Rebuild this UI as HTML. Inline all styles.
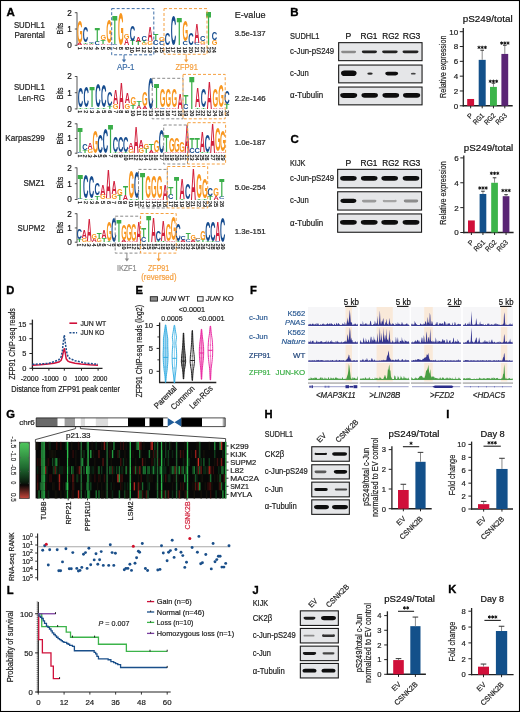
<!DOCTYPE html>
<html><head><meta charset="utf-8"><title>Figure</title>
<style>
html,body{margin:0;padding:0;background:#fff;}
body{width:520px;height:712px;overflow:hidden;}
svg{display:block;font-family:"Liberation Sans", sans-serif;will-change:transform;}
</style></head><body>
<svg width="520" height="712" viewBox="0 0 520 712">
<rect x="0" y="0" width="520" height="712" fill="#fff"/>
<defs><filter id="bl" x="-20%" y="-80%" width="140%" height="260%"><feGaussianBlur stdDeviation="0.45"/></filter></defs>
<text x="6.50" y="15.90" font-size="11.5" fill="#000" stroke="#000" stroke-width="0.35" font-weight="bold" >A</text>
<text x="44.80" y="28.10" font-size="8.2" fill="#222" stroke="#222" stroke-width="0.2" text-anchor="end" textLength="30.90" lengthAdjust="spacingAndGlyphs" >SUDHL1</text>
<text x="44.80" y="37.70" font-size="8.2" fill="#222" stroke="#222" stroke-width="0.2" text-anchor="end" textLength="30.40" lengthAdjust="spacingAndGlyphs" >Parental</text>
<text x="44.80" y="90.00" font-size="8.2" fill="#222" stroke="#222" stroke-width="0.2" text-anchor="end" textLength="30.90" lengthAdjust="spacingAndGlyphs" >SUDHL1</text>
<text x="44.80" y="100.60" font-size="8.2" fill="#222" stroke="#222" stroke-width="0.2" text-anchor="end" textLength="26.50" lengthAdjust="spacingAndGlyphs" >Len-RG</text>
<text x="44.80" y="141.40" font-size="8.2" fill="#222" stroke="#222" stroke-width="0.2" text-anchor="end" textLength="39.50" lengthAdjust="spacingAndGlyphs" >Karpas299</text>
<text x="44.80" y="185.90" font-size="8.2" fill="#222" stroke="#222" stroke-width="0.2" text-anchor="end" textLength="21.30" lengthAdjust="spacingAndGlyphs" >SMZ1</text>
<text x="44.80" y="230.70" font-size="8.2" fill="#222" stroke="#222" stroke-width="0.2" text-anchor="end" textLength="27.30" lengthAdjust="spacingAndGlyphs" >SUPM2</text>
<text x="234.70" y="17.60" font-size="8.6" fill="#222" stroke="#222" stroke-width="0.2" textLength="30.90" lengthAdjust="spacingAndGlyphs" >E-value</text>
<text x="234.70" y="35.90" font-size="7.2" fill="#222" stroke="#222" stroke-width="0.2" textLength="30.90" lengthAdjust="spacingAndGlyphs" >3.5e-137</text>
<text x="234.70" y="100.80" font-size="7.2" fill="#222" stroke="#222" stroke-width="0.2" textLength="30.90" lengthAdjust="spacingAndGlyphs" >2.2e-146</text>
<text x="234.70" y="144.70" font-size="7.2" fill="#222" stroke="#222" stroke-width="0.2" textLength="30.90" lengthAdjust="spacingAndGlyphs" >1.0e-187</text>
<text x="234.70" y="190.30" font-size="7.2" fill="#222" stroke="#222" stroke-width="0.2" textLength="30.90" lengthAdjust="spacingAndGlyphs" >5.0e-254</text>
<text x="234.70" y="234.20" font-size="7.2" fill="#222" stroke="#222" stroke-width="0.2" textLength="30.90" lengthAdjust="spacingAndGlyphs" >1.3e-151</text>
<line x1="77.00" y1="12.40" x2="77.00" y2="45.80" stroke="#444" stroke-width="0.9" />
<line x1="74.80" y1="45.30" x2="77.00" y2="45.30" stroke="#444" stroke-width="0.9" />
<text x="69.60" y="48.20" font-size="8.2" fill="#111" stroke="#111" stroke-width="0.2" text-anchor="middle" >0</text>
<line x1="74.80" y1="29.00" x2="77.00" y2="29.00" stroke="#444" stroke-width="0.9" />
<text x="69.60" y="31.90" font-size="8.2" fill="#111" stroke="#111" stroke-width="0.2" text-anchor="middle" >1</text>
<line x1="74.80" y1="12.70" x2="77.00" y2="12.70" stroke="#444" stroke-width="0.9" />
<text x="69.60" y="15.60" font-size="8.2" fill="#111" stroke="#111" stroke-width="0.2" text-anchor="middle" >2</text>
<text x="62.60" y="28.50" font-size="8.6" fill="#222" stroke="#222" stroke-width="0.2" text-anchor="middle" textLength="11.80" lengthAdjust="spacingAndGlyphs" transform="rotate(-90 62.60 28.50)" >Bits</text>
<text transform="matrix(0.0731 0 0 0.0355 77.07 45.30)" font-size="100" font-weight="bold" fill="#d21f3c">A</text>
<text transform="matrix(0.0727 0 0 0.3112 76.95 42.57)" font-size="100" font-weight="bold" fill="#f8961e">G</text>
<text x="77.70" y="46.70" font-size="5.4" fill="#111" stroke="#111" stroke-width="0.2" transform="rotate(90 77.70 46.70)" >1</text>
<text transform="matrix(0.0731 0 0 0.0190 82.93 45.30)" font-size="100" font-weight="bold" fill="#d21f3c">A</text>
<text transform="matrix(0.0833 0 0 0.0237 83.02 44.00)" font-size="100" font-weight="bold" fill="#3aae49">T</text>
<text transform="matrix(0.0750 0 0 0.2190 82.80 42.17)" font-size="100" font-weight="bold" fill="#154b8e">C</text>
<text x="83.56" y="46.70" font-size="5.4" fill="#111" stroke="#111" stroke-width="0.2" transform="rotate(90 83.56 46.70)" >2</text>
<text transform="matrix(0.0731 0 0 0.0190 88.79 45.30)" font-size="100" font-weight="bold" fill="#d21f3c">A</text>
<text transform="matrix(0.0833 0 0 0.0190 88.88 44.00)" font-size="100" font-weight="bold" fill="#3aae49">T</text>
<text transform="matrix(0.0750 0 0 0.0231 88.66 42.67)" font-size="100" font-weight="bold" fill="#154b8e">C</text>
<text x="89.42" y="46.70" font-size="5.4" fill="#111" stroke="#111" stroke-width="0.2" transform="rotate(90 89.42 46.70)" >3</text>
<text transform="matrix(0.0750 0 0 0.0461 94.52 45.26)" font-size="100" font-weight="bold" fill="#154b8e">C</text>
<text transform="matrix(0.0833 0 0 0.2014 94.74 42.04)" font-size="100" font-weight="bold" fill="#3aae49">T</text>
<text x="95.28" y="46.70" font-size="5.4" fill="#111" stroke="#111" stroke-width="0.2" transform="rotate(90 95.28 46.70)" >4</text>
<text transform="matrix(0.0731 0 0 0.0237 100.51 45.30)" font-size="100" font-weight="bold" fill="#d21f3c">A</text>
<text transform="matrix(0.0833 0 0 0.0592 100.60 43.67)" font-size="100" font-weight="bold" fill="#3aae49">T</text>
<text transform="matrix(0.0727 0 0 0.0692 100.39 39.53)" font-size="100" font-weight="bold" fill="#f8961e">G</text>
<text x="101.14" y="46.70" font-size="5.4" fill="#111" stroke="#111" stroke-width="0.2" transform="rotate(90 101.14 46.70)" >5</text>
<text transform="matrix(0.0731 0 0 0.0237 106.37 45.30)" font-size="100" font-weight="bold" fill="#d21f3c">A</text>
<text transform="matrix(0.0727 0 0 0.3343 106.25 43.37)" font-size="100" font-weight="bold" fill="#f8961e">G</text>
<text x="107.00" y="46.70" font-size="5.4" fill="#111" stroke="#111" stroke-width="0.2" transform="rotate(90 107.00 46.70)" >6</text>
<text transform="matrix(0.0750 0 0 0.0115 112.10 45.29)" font-size="100" font-weight="bold" fill="#154b8e">C</text>
<text transform="matrix(0.0833 0 0 0.4075 112.32 44.48)" font-size="100" font-weight="bold" fill="#3aae49">T</text>
<text x="112.86" y="46.70" font-size="5.4" fill="#111" stroke="#111" stroke-width="0.2" transform="rotate(90 112.86 46.70)" >7</text>
<text transform="matrix(0.0727 0 0 0.4565 117.97 44.89)" font-size="100" font-weight="bold" fill="#f8961e">G</text>
<text x="118.72" y="46.70" font-size="5.4" fill="#111" stroke="#111" stroke-width="0.2" transform="rotate(90 118.72 46.70)" >8</text>
<text transform="matrix(0.0731 0 0 0.0900 123.95 45.30)" font-size="100" font-weight="bold" fill="#d21f3c">A</text>
<text transform="matrix(0.0727 0 0 0.0692 123.83 39.04)" font-size="100" font-weight="bold" fill="#f8961e">G</text>
<text x="124.58" y="46.70" font-size="5.4" fill="#111" stroke="#111" stroke-width="0.2" transform="rotate(90 124.58 46.70)" >9</text>
<text transform="matrix(0.0833 0 0 0.0640 129.90 45.30)" font-size="100" font-weight="bold" fill="#3aae49">T</text>
<text transform="matrix(0.0750 0 0 0.2167 129.68 40.70)" font-size="100" font-weight="bold" fill="#154b8e">C</text>
<text x="130.44" y="46.70" font-size="5.4" fill="#111" stroke="#111" stroke-width="0.2" transform="rotate(90 130.44 46.70)" >10</text>
<text transform="matrix(0.0833 0 0 0.0474 135.76 45.30)" font-size="100" font-weight="bold" fill="#3aae49">T</text>
<text transform="matrix(0.0731 0 0 0.0758 135.67 42.04)" font-size="100" font-weight="bold" fill="#d21f3c">A</text>
<text x="136.30" y="46.70" font-size="5.4" fill="#111" stroke="#111" stroke-width="0.2" transform="rotate(90 136.30 46.70)" >11</text>
<text transform="matrix(0.0727 0 0 0.0346 141.41 45.27)" font-size="100" font-weight="bold" fill="#f8961e">G</text>
<text transform="matrix(0.0833 0 0 0.0284 141.62 42.85)" font-size="100" font-weight="bold" fill="#3aae49">T</text>
<text transform="matrix(0.0750 0 0 0.0692 141.40 40.84)" font-size="100" font-weight="bold" fill="#154b8e">C</text>
<text x="142.16" y="46.70" font-size="5.4" fill="#111" stroke="#111" stroke-width="0.2" transform="rotate(90 142.16 46.70)" >12</text>
<text transform="matrix(0.0727 0 0 0.0622 147.27 45.24)" font-size="100" font-weight="bold" fill="#f8961e">G</text>
<text transform="matrix(0.0731 0 0 0.2085 147.39 40.90)" font-size="100" font-weight="bold" fill="#d21f3c">A</text>
<text x="148.02" y="46.70" font-size="5.4" fill="#111" stroke="#111" stroke-width="0.2" transform="rotate(90 148.02 46.70)" >13</text>
<text transform="matrix(0.0750 0 0 0.0807 153.12 45.23)" font-size="100" font-weight="bold" fill="#154b8e">C</text>
<text transform="matrix(0.0833 0 0 0.0948 153.34 39.59)" font-size="100" font-weight="bold" fill="#3aae49">T</text>
<text x="153.88" y="46.70" font-size="5.4" fill="#111" stroke="#111" stroke-width="0.2" transform="rotate(90 153.88 46.70)" >14</text>
<text transform="matrix(0.0750 0 0 0.0576 158.98 45.25)" font-size="100" font-weight="bold" fill="#154b8e">C</text>
<text transform="matrix(0.0727 0 0 0.0461 158.99 41.18)" font-size="100" font-weight="bold" fill="#f8961e">G</text>
<text x="159.74" y="46.70" font-size="5.4" fill="#111" stroke="#111" stroke-width="0.2" transform="rotate(90 159.74 46.70)" >15</text>
<text transform="matrix(0.0750 0 0 0.1729 164.84 45.14)" font-size="100" font-weight="bold" fill="#154b8e">C</text>
<text x="165.60" y="46.70" font-size="5.4" fill="#111" stroke="#111" stroke-width="0.2" transform="rotate(90 165.60 46.70)" >16</text>
<text transform="matrix(0.0750 0 0 0.4196 170.70 44.92)" font-size="100" font-weight="bold" fill="#154b8e">C</text>
<text x="171.46" y="46.70" font-size="5.4" fill="#111" stroke="#111" stroke-width="0.2" transform="rotate(90 171.46 46.70)" >17</text>
<text transform="matrix(0.0833 0 0 0.3957 176.78 45.30)" font-size="100" font-weight="bold" fill="#3aae49">T</text>
<text x="177.32" y="46.70" font-size="5.4" fill="#111" stroke="#111" stroke-width="0.2" transform="rotate(90 177.32 46.70)" >18</text>
<text transform="matrix(0.0750 0 0 0.0507 182.42 45.25)" font-size="100" font-weight="bold" fill="#154b8e">C</text>
<text transform="matrix(0.0727 0 0 0.2951 182.43 41.45)" font-size="100" font-weight="bold" fill="#f8961e">G</text>
<text x="183.18" y="46.70" font-size="5.4" fill="#111" stroke="#111" stroke-width="0.2" transform="rotate(90 183.18 46.70)" >19</text>
<text transform="matrix(0.0750 0 0 0.1614 188.28 45.15)" font-size="100" font-weight="bold" fill="#154b8e">C</text>
<text x="189.04" y="46.70" font-size="5.4" fill="#111" stroke="#111" stroke-width="0.2" transform="rotate(90 189.04 46.70)" >20</text>
<text transform="matrix(0.0750 0 0 0.0346 194.14 45.27)" font-size="100" font-weight="bold" fill="#154b8e">C</text>
<text transform="matrix(0.0731 0 0 0.2772 194.27 42.85)" font-size="100" font-weight="bold" fill="#d21f3c">A</text>
<text x="194.90" y="46.70" font-size="5.4" fill="#111" stroke="#111" stroke-width="0.2" transform="rotate(90 194.90 46.70)" >21</text>
<text transform="matrix(0.0731 0 0 0.0237 200.13 45.30)" font-size="100" font-weight="bold" fill="#d21f3c">A</text>
<text transform="matrix(0.0727 0 0 0.0300 200.01 43.64)" font-size="100" font-weight="bold" fill="#f8961e">G</text>
<text transform="matrix(0.0750 0 0 0.0692 200.00 41.49)" font-size="100" font-weight="bold" fill="#154b8e">C</text>
<text x="200.76" y="46.70" font-size="5.4" fill="#111" stroke="#111" stroke-width="0.2" transform="rotate(90 200.76 46.70)" >22</text>
<text transform="matrix(0.0833 0 0 0.4738 206.08 45.30)" font-size="100" font-weight="bold" fill="#3aae49">T</text>
<text x="206.62" y="46.70" font-size="5.4" fill="#111" stroke="#111" stroke-width="0.2" transform="rotate(90 206.62 46.70)" >23</text>
<text transform="matrix(0.0727 0 0 0.0692 211.73 45.24)" font-size="100" font-weight="bold" fill="#f8961e">G</text>
<text transform="matrix(0.0750 0 0 0.1061 211.72 40.31)" font-size="100" font-weight="bold" fill="#154b8e">C</text>
<text x="212.48" y="46.70" font-size="5.4" fill="#111" stroke="#111" stroke-width="0.2" transform="rotate(90 212.48 46.70)" >24</text>
<line x1="77.00" y1="76.20" x2="77.00" y2="109.40" stroke="#444" stroke-width="0.9" />
<line x1="74.80" y1="108.90" x2="77.00" y2="108.90" stroke="#444" stroke-width="0.9" />
<text x="69.60" y="111.80" font-size="8.2" fill="#111" stroke="#111" stroke-width="0.2" text-anchor="middle" >0</text>
<line x1="74.80" y1="92.70" x2="77.00" y2="92.70" stroke="#444" stroke-width="0.9" />
<text x="69.60" y="95.60" font-size="8.2" fill="#111" stroke="#111" stroke-width="0.2" text-anchor="middle" >1</text>
<line x1="74.80" y1="76.50" x2="77.00" y2="76.50" stroke="#444" stroke-width="0.9" />
<text x="69.60" y="79.40" font-size="8.2" fill="#111" stroke="#111" stroke-width="0.2" text-anchor="middle" >2</text>
<text x="62.60" y="93.30" font-size="8.6" fill="#222" stroke="#222" stroke-width="0.2" text-anchor="middle" textLength="11.80" lengthAdjust="spacingAndGlyphs" transform="rotate(-90 62.60 93.30)" >Bits</text>
<text transform="matrix(0.0833 0 0 0.0235 77.86 108.90)" font-size="100" font-weight="bold" fill="#3aae49">T</text>
<text transform="matrix(0.0750 0 0 0.2704 77.64 107.04)" font-size="100" font-weight="bold" fill="#154b8e">C</text>
<text x="78.40" y="110.30" font-size="5.4" fill="#111" stroke="#111" stroke-width="0.2" transform="rotate(90 78.40 110.30)" >1</text>
<text transform="matrix(0.0833 0 0 0.0235 83.72 108.90)" font-size="100" font-weight="bold" fill="#3aae49">T</text>
<text transform="matrix(0.0750 0 0 0.2956 83.50 107.01)" font-size="100" font-weight="bold" fill="#154b8e">C</text>
<text x="84.26" y="110.30" font-size="5.4" fill="#111" stroke="#111" stroke-width="0.2" transform="rotate(90 84.26 110.30)" >2</text>
<text transform="matrix(0.0750 0 0 0.0229 89.36 108.88)" font-size="100" font-weight="bold" fill="#154b8e">C</text>
<text transform="matrix(0.0833 0 0 0.2896 89.58 107.28)" font-size="100" font-weight="bold" fill="#3aae49">T</text>
<text x="90.12" y="110.30" font-size="5.4" fill="#111" stroke="#111" stroke-width="0.2" transform="rotate(90 90.12 110.30)" >3</text>
<text transform="matrix(0.0833 0 0 0.0235 95.44 108.90)" font-size="100" font-weight="bold" fill="#3aae49">T</text>
<text transform="matrix(0.0750 0 0 0.3368 95.22 106.98)" font-size="100" font-weight="bold" fill="#154b8e">C</text>
<text x="95.98" y="110.30" font-size="5.4" fill="#111" stroke="#111" stroke-width="0.2" transform="rotate(90 95.98 110.30)" >4</text>
<text transform="matrix(0.0833 0 0 0.0235 101.30 108.90)" font-size="100" font-weight="bold" fill="#3aae49">T</text>
<text transform="matrix(0.0750 0 0 0.3070 101.08 107.00)" font-size="100" font-weight="bold" fill="#154b8e">C</text>
<text x="101.84" y="110.30" font-size="5.4" fill="#111" stroke="#111" stroke-width="0.2" transform="rotate(90 101.84 110.30)" >5</text>
<text transform="matrix(0.0833 0 0 0.0353 107.16 108.90)" font-size="100" font-weight="bold" fill="#3aae49">T</text>
<text transform="matrix(0.0750 0 0 0.1971 106.94 106.29)" font-size="100" font-weight="bold" fill="#154b8e">C</text>
<text x="107.70" y="110.30" font-size="5.4" fill="#111" stroke="#111" stroke-width="0.2" transform="rotate(90 107.70 110.30)" >6</text>
<text transform="matrix(0.0727 0 0 0.0687 112.81 108.84)" font-size="100" font-weight="bold" fill="#f8961e">G</text>
<text transform="matrix(0.0731 0 0 0.1978 112.93 104.04)" font-size="100" font-weight="bold" fill="#d21f3c">A</text>
<text x="113.56" y="110.30" font-size="5.4" fill="#111" stroke="#111" stroke-width="0.2" transform="rotate(90 113.56 110.30)" >7</text>
<text transform="matrix(0.0731 0 0 0.3767 118.79 108.90)" font-size="100" font-weight="bold" fill="#d21f3c">A</text>
<text x="119.42" y="110.30" font-size="5.4" fill="#111" stroke="#111" stroke-width="0.2" transform="rotate(90 119.42 110.30)" >8</text>
<text transform="matrix(0.0727 0 0 0.0802 124.53 108.83)" font-size="100" font-weight="bold" fill="#f8961e">G</text>
<text transform="matrix(0.0731 0 0 0.1531 124.65 103.23)" font-size="100" font-weight="bold" fill="#d21f3c">A</text>
<text x="125.28" y="110.30" font-size="5.4" fill="#111" stroke="#111" stroke-width="0.2" transform="rotate(90 125.28 110.30)" >9</text>
<text transform="matrix(0.0833 0 0 0.0589 130.60 108.90)" font-size="100" font-weight="bold" fill="#3aae49">T</text>
<text transform="matrix(0.0727 0 0 0.1008 130.39 104.76)" font-size="100" font-weight="bold" fill="#f8961e">G</text>
<text x="131.14" y="110.30" font-size="5.4" fill="#111" stroke="#111" stroke-width="0.2" transform="rotate(90 131.14 110.30)" >10</text>
<text transform="matrix(0.0731 0 0 0.0471 136.37 108.90)" font-size="100" font-weight="bold" fill="#d21f3c">A</text>
<text transform="matrix(0.0833 0 0 0.0636 136.46 105.66)" font-size="100" font-weight="bold" fill="#3aae49">T</text>
<text x="137.00" y="110.30" font-size="5.4" fill="#111" stroke="#111" stroke-width="0.2" transform="rotate(90 137.00 110.30)" >11</text>
<text transform="matrix(0.0731 0 0 0.0353 142.23 108.90)" font-size="100" font-weight="bold" fill="#d21f3c">A</text>
<text transform="matrix(0.0727 0 0 0.1948 142.11 106.29)" font-size="100" font-weight="bold" fill="#f8961e">G</text>
<text x="142.86" y="110.30" font-size="5.4" fill="#111" stroke="#111" stroke-width="0.2" transform="rotate(90 142.86 110.30)" >12</text>
<text transform="matrix(0.0750 0 0 0.4468 147.96 108.50)" font-size="100" font-weight="bold" fill="#154b8e">C</text>
<text x="148.72" y="110.30" font-size="5.4" fill="#111" stroke="#111" stroke-width="0.2" transform="rotate(90 148.72 110.30)" >13</text>
<text transform="matrix(0.0731 0 0 0.0188 153.95 108.90)" font-size="100" font-weight="bold" fill="#d21f3c">A</text>
<text transform="matrix(0.0833 0 0 0.3438 154.04 107.60)" font-size="100" font-weight="bold" fill="#3aae49">T</text>
<text x="154.58" y="110.30" font-size="5.4" fill="#111" stroke="#111" stroke-width="0.2" transform="rotate(90 154.58 110.30)" >14</text>
<text transform="matrix(0.0750 0 0 0.0229 159.68 108.88)" font-size="100" font-weight="bold" fill="#154b8e">C</text>
<text transform="matrix(0.0727 0 0 0.2612 159.69 107.04)" font-size="100" font-weight="bold" fill="#f8961e">G</text>
<text x="160.44" y="110.30" font-size="5.4" fill="#111" stroke="#111" stroke-width="0.2" transform="rotate(90 160.44 110.30)" >15</text>
<text transform="matrix(0.0731 0 0 0.0235 165.67 108.90)" font-size="100" font-weight="bold" fill="#d21f3c">A</text>
<text transform="matrix(0.0727 0 0 0.2612 165.55 107.04)" font-size="100" font-weight="bold" fill="#f8961e">G</text>
<text x="166.30" y="110.30" font-size="5.4" fill="#111" stroke="#111" stroke-width="0.2" transform="rotate(90 166.30 110.30)" >16</text>
<text transform="matrix(0.0731 0 0 0.0235 171.53 108.90)" font-size="100" font-weight="bold" fill="#d21f3c">A</text>
<text transform="matrix(0.0727 0 0 0.2612 171.41 107.04)" font-size="100" font-weight="bold" fill="#f8961e">G</text>
<text x="172.16" y="110.30" font-size="5.4" fill="#111" stroke="#111" stroke-width="0.2" transform="rotate(90 172.16 110.30)" >17</text>
<text transform="matrix(0.0731 0 0 0.2213 177.39 108.90)" font-size="100" font-weight="bold" fill="#d21f3c">A</text>
<text x="178.02" y="110.30" font-size="5.4" fill="#111" stroke="#111" stroke-width="0.2" transform="rotate(90 178.02 110.30)" >18</text>
<text transform="matrix(0.0750 0 0 0.0687 183.12 108.84)" font-size="100" font-weight="bold" fill="#154b8e">C</text>
<text transform="matrix(0.0833 0 0 0.1224 183.34 104.04)" font-size="100" font-weight="bold" fill="#3aae49">T</text>
<text x="183.88" y="110.30" font-size="5.4" fill="#111" stroke="#111" stroke-width="0.2" transform="rotate(90 183.88 110.30)" >19</text>
<text transform="matrix(0.0833 0 0 0.4592 189.20 108.90)" font-size="100" font-weight="bold" fill="#3aae49">T</text>
<text x="189.74" y="110.30" font-size="5.4" fill="#111" stroke="#111" stroke-width="0.2" transform="rotate(90 189.74 110.30)" >20</text>
<text transform="matrix(0.0833 0 0 0.0235 195.06 108.90)" font-size="100" font-weight="bold" fill="#3aae49">T</text>
<text transform="matrix(0.0731 0 0 0.2684 194.97 107.28)" font-size="100" font-weight="bold" fill="#d21f3c">A</text>
<text x="195.60" y="110.30" font-size="5.4" fill="#111" stroke="#111" stroke-width="0.2" transform="rotate(90 195.60 110.30)" >21</text>
<text transform="matrix(0.0833 0 0 0.0235 200.92 108.90)" font-size="100" font-weight="bold" fill="#3aae49">T</text>
<text transform="matrix(0.0750 0 0 0.2612 200.70 107.04)" font-size="100" font-weight="bold" fill="#154b8e">C</text>
<text x="201.46" y="110.30" font-size="5.4" fill="#111" stroke="#111" stroke-width="0.2" transform="rotate(90 201.46 110.30)" >22</text>
<text transform="matrix(0.0731 0 0 0.3909 206.69 108.90)" font-size="100" font-weight="bold" fill="#d21f3c">A</text>
<text x="207.32" y="110.30" font-size="5.4" fill="#111" stroke="#111" stroke-width="0.2" transform="rotate(90 207.32 110.30)" >23</text>
<text transform="matrix(0.0731 0 0 0.0235 212.55 108.90)" font-size="100" font-weight="bold" fill="#d21f3c">A</text>
<text transform="matrix(0.0727 0 0 0.2612 212.43 107.04)" font-size="100" font-weight="bold" fill="#f8961e">G</text>
<text x="213.18" y="110.30" font-size="5.4" fill="#111" stroke="#111" stroke-width="0.2" transform="rotate(90 213.18 110.30)" >24</text>
<text transform="matrix(0.0731 0 0 0.0235 218.41 108.90)" font-size="100" font-weight="bold" fill="#d21f3c">A</text>
<text transform="matrix(0.0727 0 0 0.3162 218.29 107.00)" font-size="100" font-weight="bold" fill="#f8961e">G</text>
<text x="219.04" y="110.30" font-size="5.4" fill="#111" stroke="#111" stroke-width="0.2" transform="rotate(90 219.04 110.30)" >25</text>
<text transform="matrix(0.0833 0 0 0.0706 224.36 108.90)" font-size="100" font-weight="bold" fill="#3aae49">T</text>
<text transform="matrix(0.0750 0 0 0.1879 224.14 103.87)" font-size="100" font-weight="bold" fill="#154b8e">C</text>
<text x="224.90" y="110.30" font-size="5.4" fill="#111" stroke="#111" stroke-width="0.2" transform="rotate(90 224.90 110.30)" >26</text>
<line x1="77.00" y1="123.50" x2="77.00" y2="153.70" stroke="#444" stroke-width="0.9" />
<line x1="74.80" y1="153.20" x2="77.00" y2="153.20" stroke="#444" stroke-width="0.9" />
<text x="69.60" y="156.10" font-size="8.2" fill="#111" stroke="#111" stroke-width="0.2" text-anchor="middle" >0</text>
<line x1="74.80" y1="138.50" x2="77.00" y2="138.50" stroke="#444" stroke-width="0.9" />
<text x="69.60" y="141.40" font-size="8.2" fill="#111" stroke="#111" stroke-width="0.2" text-anchor="middle" >1</text>
<line x1="74.80" y1="123.80" x2="77.00" y2="123.80" stroke="#444" stroke-width="0.9" />
<text x="69.60" y="126.70" font-size="8.2" fill="#111" stroke="#111" stroke-width="0.2" text-anchor="middle" >2</text>
<text x="62.60" y="138.70" font-size="8.6" fill="#222" stroke="#222" stroke-width="0.2" text-anchor="middle" textLength="11.80" lengthAdjust="spacingAndGlyphs" transform="rotate(-90 62.60 138.70)" >Bits</text>
<text transform="matrix(0.0742 0 0 0.0104 77.17 153.19)" font-size="100" font-weight="bold" fill="#154b8e">C</text>
<text transform="matrix(0.0824 0 0 0.3590 77.39 152.46)" font-size="100" font-weight="bold" fill="#3aae49">T</text>
<text x="77.90" y="154.60" font-size="5.4" fill="#111" stroke="#111" stroke-width="0.2" transform="rotate(90 77.90 154.60)" >1</text>
<text transform="matrix(0.0824 0 0 0.0427 82.49 153.20)" font-size="100" font-weight="bold" fill="#3aae49">T</text>
<text transform="matrix(0.0742 0 0 0.0852 82.27 150.18)" font-size="100" font-weight="bold" fill="#154b8e">C</text>
<text x="83.00" y="154.60" font-size="5.4" fill="#111" stroke="#111" stroke-width="0.2" transform="rotate(90 83.00 154.60)" >2</text>
<text transform="matrix(0.0719 0 0 0.0624 87.38 153.14)" font-size="100" font-weight="bold" fill="#f8961e">G</text>
<text transform="matrix(0.0723 0 0 0.0919 87.50 148.79)" font-size="100" font-weight="bold" fill="#d21f3c">A</text>
<text x="88.10" y="154.60" font-size="5.4" fill="#111" stroke="#111" stroke-width="0.2" transform="rotate(90 88.10 154.60)" >3</text>
<text transform="matrix(0.0719 0 0 0.3223 92.48 152.91)" font-size="100" font-weight="bold" fill="#f8961e">G</text>
<text x="93.20" y="154.60" font-size="5.4" fill="#111" stroke="#111" stroke-width="0.2" transform="rotate(90 93.20 154.60)" >4</text>
<text transform="matrix(0.0742 0 0 0.2495 97.57 152.98)" font-size="100" font-weight="bold" fill="#154b8e">C</text>
<text x="98.30" y="154.60" font-size="5.4" fill="#111" stroke="#111" stroke-width="0.2" transform="rotate(90 98.30 154.60)" >5</text>
<text transform="matrix(0.0742 0 0 0.3472 102.67 152.89)" font-size="100" font-weight="bold" fill="#154b8e">C</text>
<text x="103.40" y="154.60" font-size="5.4" fill="#111" stroke="#111" stroke-width="0.2" transform="rotate(90 103.40 154.60)" >6</text>
<text transform="matrix(0.0824 0 0 0.4060 107.99 153.20)" font-size="100" font-weight="bold" fill="#3aae49">T</text>
<text x="108.50" y="154.60" font-size="5.4" fill="#111" stroke="#111" stroke-width="0.2" transform="rotate(90 108.50 154.60)" >7</text>
<text transform="matrix(0.0824 0 0 0.0214 113.09 153.20)" font-size="100" font-weight="bold" fill="#3aae49">T</text>
<text transform="matrix(0.0742 0 0 0.2287 112.87 151.52)" font-size="100" font-weight="bold" fill="#154b8e">C</text>
<text x="113.60" y="154.60" font-size="5.4" fill="#111" stroke="#111" stroke-width="0.2" transform="rotate(90 113.60 154.60)" >8</text>
<text transform="matrix(0.0723 0 0 0.0214 118.10 153.20)" font-size="100" font-weight="bold" fill="#d21f3c">A</text>
<text transform="matrix(0.0742 0 0 0.2287 117.97 151.52)" font-size="100" font-weight="bold" fill="#154b8e">C</text>
<text x="118.70" y="154.60" font-size="5.4" fill="#111" stroke="#111" stroke-width="0.2" transform="rotate(90 118.70 154.60)" >9</text>
<text transform="matrix(0.0824 0 0 0.0214 123.29 153.20)" font-size="100" font-weight="bold" fill="#3aae49">T</text>
<text transform="matrix(0.0742 0 0 0.2287 123.07 151.52)" font-size="100" font-weight="bold" fill="#154b8e">C</text>
<text x="123.80" y="154.60" font-size="5.4" fill="#111" stroke="#111" stroke-width="0.2" transform="rotate(90 123.80 154.60)" >10</text>
<text transform="matrix(0.0719 0 0 0.0624 128.18 153.14)" font-size="100" font-weight="bold" fill="#f8961e">G</text>
<text transform="matrix(0.0723 0 0 0.0919 128.30 148.79)" font-size="100" font-weight="bold" fill="#d21f3c">A</text>
<text x="128.90" y="154.60" font-size="5.4" fill="#111" stroke="#111" stroke-width="0.2" transform="rotate(90 128.90 154.60)" >11</text>
<text transform="matrix(0.0723 0 0 0.3696 133.40 153.20)" font-size="100" font-weight="bold" fill="#d21f3c">A</text>
<text x="134.00" y="154.60" font-size="5.4" fill="#111" stroke="#111" stroke-width="0.2" transform="rotate(90 134.00 154.60)" >12</text>
<text transform="matrix(0.0719 0 0 0.0728 138.38 153.13)" font-size="100" font-weight="bold" fill="#f8961e">G</text>
<text transform="matrix(0.0723 0 0 0.1068 138.50 148.05)" font-size="100" font-weight="bold" fill="#d21f3c">A</text>
<text x="139.10" y="154.60" font-size="5.4" fill="#111" stroke="#111" stroke-width="0.2" transform="rotate(90 139.10 154.60)" >13</text>
<text transform="matrix(0.0824 0 0 0.0641 143.69 153.20)" font-size="100" font-weight="bold" fill="#3aae49">T</text>
<text transform="matrix(0.0719 0 0 0.0769 143.48 148.72)" font-size="100" font-weight="bold" fill="#f8961e">G</text>
<text x="144.20" y="154.60" font-size="5.4" fill="#111" stroke="#111" stroke-width="0.2" transform="rotate(90 144.20 154.60)" >14</text>
<text transform="matrix(0.0723 0 0 0.0427 148.70 153.20)" font-size="100" font-weight="bold" fill="#d21f3c">A</text>
<text transform="matrix(0.0824 0 0 0.0940 148.79 150.26)" font-size="100" font-weight="bold" fill="#3aae49">T</text>
<text x="149.30" y="154.60" font-size="5.4" fill="#111" stroke="#111" stroke-width="0.2" transform="rotate(90 149.30 154.60)" >15</text>
<text transform="matrix(0.0723 0 0 0.0214 153.80 153.20)" font-size="100" font-weight="bold" fill="#d21f3c">A</text>
<text transform="matrix(0.0719 0 0 0.1663 153.68 151.58)" font-size="100" font-weight="bold" fill="#f8961e">G</text>
<text x="154.40" y="154.60" font-size="5.4" fill="#111" stroke="#111" stroke-width="0.2" transform="rotate(90 154.40 154.60)" >16</text>
<text transform="matrix(0.0742 0 0 0.3264 158.77 152.91)" font-size="100" font-weight="bold" fill="#154b8e">C</text>
<text x="159.50" y="154.60" font-size="5.4" fill="#111" stroke="#111" stroke-width="0.2" transform="rotate(90 159.50 154.60)" >17</text>
<text transform="matrix(0.0723 0 0 0.0214 164.00 153.20)" font-size="100" font-weight="bold" fill="#d21f3c">A</text>
<text transform="matrix(0.0824 0 0 0.2308 164.09 151.73)" font-size="100" font-weight="bold" fill="#3aae49">T</text>
<text x="164.60" y="154.60" font-size="5.4" fill="#111" stroke="#111" stroke-width="0.2" transform="rotate(90 164.60 154.60)" >18</text>
<text transform="matrix(0.0723 0 0 0.0214 169.10 153.20)" font-size="100" font-weight="bold" fill="#d21f3c">A</text>
<text transform="matrix(0.0719 0 0 0.1975 168.98 151.55)" font-size="100" font-weight="bold" fill="#f8961e">G</text>
<text x="169.70" y="154.60" font-size="5.4" fill="#111" stroke="#111" stroke-width="0.2" transform="rotate(90 169.70 154.60)" >19</text>
<text transform="matrix(0.0723 0 0 0.0214 174.20 153.20)" font-size="100" font-weight="bold" fill="#d21f3c">A</text>
<text transform="matrix(0.0719 0 0 0.1975 174.08 151.55)" font-size="100" font-weight="bold" fill="#f8961e">G</text>
<text x="174.80" y="154.60" font-size="5.4" fill="#111" stroke="#111" stroke-width="0.2" transform="rotate(90 174.80 154.60)" >20</text>
<text transform="matrix(0.0723 0 0 0.0214 179.30 153.20)" font-size="100" font-weight="bold" fill="#d21f3c">A</text>
<text transform="matrix(0.0719 0 0 0.1518 179.18 151.59)" font-size="100" font-weight="bold" fill="#f8961e">G</text>
<text x="179.90" y="154.60" font-size="5.4" fill="#111" stroke="#111" stroke-width="0.2" transform="rotate(90 179.90 154.60)" >21</text>
<text transform="matrix(0.0723 0 0 0.3995 184.40 153.20)" font-size="100" font-weight="bold" fill="#d21f3c">A</text>
<text x="185.00" y="154.60" font-size="5.4" fill="#111" stroke="#111" stroke-width="0.2" transform="rotate(90 185.00 154.60)" >22</text>
<text transform="matrix(0.0742 0 0 0.0728 189.37 153.13)" font-size="100" font-weight="bold" fill="#154b8e">C</text>
<text transform="matrix(0.0824 0 0 0.1496 189.59 148.05)" font-size="100" font-weight="bold" fill="#3aae49">T</text>
<text x="190.10" y="154.60" font-size="5.4" fill="#111" stroke="#111" stroke-width="0.2" transform="rotate(90 190.10 154.60)" >23</text>
<text transform="matrix(0.0742 0 0 0.0728 194.47 153.13)" font-size="100" font-weight="bold" fill="#154b8e">C</text>
<text transform="matrix(0.0824 0 0 0.1496 194.69 148.05)" font-size="100" font-weight="bold" fill="#3aae49">T</text>
<text x="195.20" y="154.60" font-size="5.4" fill="#111" stroke="#111" stroke-width="0.2" transform="rotate(90 195.20 154.60)" >24</text>
<text transform="matrix(0.0824 0 0 0.0214 199.79 153.20)" font-size="100" font-weight="bold" fill="#3aae49">T</text>
<text transform="matrix(0.0723 0 0 0.2927 199.70 151.73)" font-size="100" font-weight="bold" fill="#d21f3c">A</text>
<text x="200.30" y="154.60" font-size="5.4" fill="#111" stroke="#111" stroke-width="0.2" transform="rotate(90 200.30 154.60)" >25</text>
<text transform="matrix(0.0824 0 0 0.0214 204.89 153.20)" font-size="100" font-weight="bold" fill="#3aae49">T</text>
<text transform="matrix(0.0742 0 0 0.2433 204.67 151.51)" font-size="100" font-weight="bold" fill="#154b8e">C</text>
<text x="205.40" y="154.60" font-size="5.4" fill="#111" stroke="#111" stroke-width="0.2" transform="rotate(90 205.40 154.60)" >26</text>
<text transform="matrix(0.0723 0 0 0.4273 209.90 153.20)" font-size="100" font-weight="bold" fill="#d21f3c">A</text>
<text x="210.50" y="154.60" font-size="5.4" fill="#111" stroke="#111" stroke-width="0.2" transform="rotate(90 210.50 154.60)" >27</text>
<text transform="matrix(0.0723 0 0 0.0214 215.00 153.20)" font-size="100" font-weight="bold" fill="#d21f3c">A</text>
<text transform="matrix(0.0719 0 0 0.3327 214.88 151.43)" font-size="100" font-weight="bold" fill="#f8961e">G</text>
<text x="215.60" y="154.60" font-size="5.4" fill="#111" stroke="#111" stroke-width="0.2" transform="rotate(90 215.60 154.60)" >28</text>
<text transform="matrix(0.0723 0 0 0.0214 220.10 153.20)" font-size="100" font-weight="bold" fill="#d21f3c">A</text>
<text transform="matrix(0.0719 0 0 0.3015 219.98 151.46)" font-size="100" font-weight="bold" fill="#f8961e">G</text>
<text x="220.70" y="154.60" font-size="5.4" fill="#111" stroke="#111" stroke-width="0.2" transform="rotate(90 220.70 154.60)" >29</text>
<line x1="77.00" y1="167.50" x2="77.00" y2="200.00" stroke="#444" stroke-width="0.9" />
<line x1="74.80" y1="199.50" x2="77.00" y2="199.50" stroke="#444" stroke-width="0.9" />
<text x="69.60" y="202.40" font-size="8.2" fill="#111" stroke="#111" stroke-width="0.2" text-anchor="middle" >0</text>
<line x1="74.80" y1="183.65" x2="77.00" y2="183.65" stroke="#444" stroke-width="0.9" />
<text x="69.60" y="186.55" font-size="8.2" fill="#111" stroke="#111" stroke-width="0.2" text-anchor="middle" >1</text>
<line x1="74.80" y1="167.80" x2="77.00" y2="167.80" stroke="#444" stroke-width="0.9" />
<text x="69.60" y="170.70" font-size="8.2" fill="#111" stroke="#111" stroke-width="0.2" text-anchor="middle" >2</text>
<text x="62.60" y="182.70" font-size="8.6" fill="#222" stroke="#222" stroke-width="0.2" text-anchor="middle" textLength="11.80" lengthAdjust="spacingAndGlyphs" transform="rotate(-90 62.60 182.70)" >Bits</text>
<text transform="matrix(0.0750 0 0 0.0112 77.44 199.49)" font-size="100" font-weight="bold" fill="#154b8e">C</text>
<text transform="matrix(0.0833 0 0 0.3456 77.66 198.71)" font-size="100" font-weight="bold" fill="#3aae49">T</text>
<text x="78.20" y="200.90" font-size="5.4" fill="#111" stroke="#111" stroke-width="0.2" transform="rotate(90 78.20 200.90)" >1</text>
<text transform="matrix(0.0833 0 0 0.0230 83.32 199.50)" font-size="100" font-weight="bold" fill="#3aae49">T</text>
<text transform="matrix(0.0750 0 0 0.3273 83.10 197.62)" font-size="100" font-weight="bold" fill="#154b8e">C</text>
<text x="83.86" y="200.90" font-size="5.4" fill="#111" stroke="#111" stroke-width="0.2" transform="rotate(90 83.86 200.90)" >2</text>
<text transform="matrix(0.0833 0 0 0.0230 88.98 199.50)" font-size="100" font-weight="bold" fill="#3aae49">T</text>
<text transform="matrix(0.0750 0 0 0.3049 88.76 197.64)" font-size="100" font-weight="bold" fill="#154b8e">C</text>
<text x="89.52" y="200.90" font-size="5.4" fill="#111" stroke="#111" stroke-width="0.2" transform="rotate(90 89.52 200.90)" >3</text>
<text transform="matrix(0.0833 0 0 0.0576 94.64 199.50)" font-size="100" font-weight="bold" fill="#3aae49">T</text>
<text transform="matrix(0.0750 0 0 0.1614 94.42 195.39)" font-size="100" font-weight="bold" fill="#154b8e">C</text>
<text x="95.18" y="200.90" font-size="5.4" fill="#111" stroke="#111" stroke-width="0.2" transform="rotate(90 95.18 200.90)" >4</text>
<text transform="matrix(0.0727 0 0 0.0673 100.09 199.44)" font-size="100" font-weight="bold" fill="#f8961e">G</text>
<text transform="matrix(0.0731 0 0 0.1405 100.21 194.75)" font-size="100" font-weight="bold" fill="#d21f3c">A</text>
<text x="100.84" y="200.90" font-size="5.4" fill="#111" stroke="#111" stroke-width="0.2" transform="rotate(90 100.84 200.90)" >5</text>
<text transform="matrix(0.0727 0 0 0.0224 105.75 199.48)" font-size="100" font-weight="bold" fill="#f8961e">G</text>
<text transform="matrix(0.0731 0 0 0.4009 105.87 197.91)" font-size="100" font-weight="bold" fill="#d21f3c">A</text>
<text x="106.50" y="200.90" font-size="5.4" fill="#111" stroke="#111" stroke-width="0.2" transform="rotate(90 106.50 200.90)" >6</text>
<text transform="matrix(0.0727 0 0 0.0785 111.41 199.43)" font-size="100" font-weight="bold" fill="#f8961e">G</text>
<text transform="matrix(0.0731 0 0 0.1797 111.53 193.95)" font-size="100" font-weight="bold" fill="#d21f3c">A</text>
<text x="112.16" y="200.90" font-size="5.4" fill="#111" stroke="#111" stroke-width="0.2" transform="rotate(90 112.16 200.90)" >7</text>
<text transform="matrix(0.0833 0 0 0.0691 117.28 199.50)" font-size="100" font-weight="bold" fill="#3aae49">T</text>
<text transform="matrix(0.0727 0 0 0.0986 117.07 194.66)" font-size="100" font-weight="bold" fill="#f8961e">G</text>
<text x="117.82" y="200.90" font-size="5.4" fill="#111" stroke="#111" stroke-width="0.2" transform="rotate(90 117.82 200.90)" >8</text>
<text transform="matrix(0.0731 0 0 0.0691 122.85 199.50)" font-size="100" font-weight="bold" fill="#d21f3c">A</text>
<text transform="matrix(0.0833 0 0 0.1267 122.94 194.75)" font-size="100" font-weight="bold" fill="#3aae49">T</text>
<text x="123.48" y="200.90" font-size="5.4" fill="#111" stroke="#111" stroke-width="0.2" transform="rotate(90 123.48 200.90)" >9</text>
<text transform="matrix(0.0833 0 0 0.0115 128.60 199.50)" font-size="100" font-weight="bold" fill="#3aae49">T</text>
<text transform="matrix(0.0727 0 0 0.3878 128.39 198.36)" font-size="100" font-weight="bold" fill="#f8961e">G</text>
<text x="129.14" y="200.90" font-size="5.4" fill="#111" stroke="#111" stroke-width="0.2" transform="rotate(90 129.14 200.90)" >10</text>
<text transform="matrix(0.0833 0 0 0.0115 134.26 199.50)" font-size="100" font-weight="bold" fill="#3aae49">T</text>
<text transform="matrix(0.0750 0 0 0.3632 134.04 198.38)" font-size="100" font-weight="bold" fill="#154b8e">C</text>
<text x="134.80" y="200.90" font-size="5.4" fill="#111" stroke="#111" stroke-width="0.2" transform="rotate(90 134.80 200.90)" >11</text>
<text transform="matrix(0.0833 0 0 0.3824 139.92 199.50)" font-size="100" font-weight="bold" fill="#3aae49">T</text>
<text x="140.46" y="200.90" font-size="5.4" fill="#111" stroke="#111" stroke-width="0.2" transform="rotate(90 140.46 200.90)" >12</text>
<text transform="matrix(0.0731 0 0 0.0184 145.49 199.50)" font-size="100" font-weight="bold" fill="#d21f3c">A</text>
<text transform="matrix(0.0727 0 0 0.3139 145.37 197.95)" font-size="100" font-weight="bold" fill="#f8961e">G</text>
<text x="146.12" y="200.90" font-size="5.4" fill="#111" stroke="#111" stroke-width="0.2" transform="rotate(90 146.12 200.90)" >13</text>
<text transform="matrix(0.0731 0 0 0.0184 151.15 199.50)" font-size="100" font-weight="bold" fill="#d21f3c">A</text>
<text transform="matrix(0.0727 0 0 0.3139 151.03 197.95)" font-size="100" font-weight="bold" fill="#f8961e">G</text>
<text x="151.78" y="200.90" font-size="5.4" fill="#111" stroke="#111" stroke-width="0.2" transform="rotate(90 151.78 200.90)" >14</text>
<text transform="matrix(0.0731 0 0 0.0184 156.81 199.50)" font-size="100" font-weight="bold" fill="#d21f3c">A</text>
<text transform="matrix(0.0727 0 0 0.3139 156.69 197.95)" font-size="100" font-weight="bold" fill="#f8961e">G</text>
<text x="157.44" y="200.90" font-size="5.4" fill="#111" stroke="#111" stroke-width="0.2" transform="rotate(90 157.44 200.90)" >15</text>
<text transform="matrix(0.0731 0 0 0.2281 162.47 199.50)" font-size="100" font-weight="bold" fill="#d21f3c">A</text>
<text x="163.10" y="200.90" font-size="5.4" fill="#111" stroke="#111" stroke-width="0.2" transform="rotate(90 163.10 200.90)" >16</text>
<text transform="matrix(0.0750 0 0 0.0673 168.00 199.44)" font-size="100" font-weight="bold" fill="#154b8e">C</text>
<text transform="matrix(0.0833 0 0 0.1152 168.22 194.75)" font-size="100" font-weight="bold" fill="#3aae49">T</text>
<text x="168.76" y="200.90" font-size="5.4" fill="#111" stroke="#111" stroke-width="0.2" transform="rotate(90 168.76 200.90)" >17</text>
<text transform="matrix(0.0833 0 0 0.3387 173.88 199.50)" font-size="100" font-weight="bold" fill="#3aae49">T</text>
<text x="174.42" y="200.90" font-size="5.4" fill="#111" stroke="#111" stroke-width="0.2" transform="rotate(90 174.42 200.90)" >18</text>
<text transform="matrix(0.0833 0 0 0.0115 179.54 199.50)" font-size="100" font-weight="bold" fill="#3aae49">T</text>
<text transform="matrix(0.0731 0 0 0.2995 179.45 198.71)" font-size="100" font-weight="bold" fill="#d21f3c">A</text>
<text x="180.08" y="200.90" font-size="5.4" fill="#111" stroke="#111" stroke-width="0.2" transform="rotate(90 180.08 200.90)" >19</text>
<text transform="matrix(0.0750 0 0 0.2219 184.98 199.30)" font-size="100" font-weight="bold" fill="#154b8e">C</text>
<text x="185.74" y="200.90" font-size="5.4" fill="#111" stroke="#111" stroke-width="0.2" transform="rotate(90 185.74 200.90)" >20</text>
<text transform="matrix(0.0731 0 0 0.4515 190.77 199.50)" font-size="100" font-weight="bold" fill="#d21f3c">A</text>
<text x="191.40" y="200.90" font-size="5.4" fill="#111" stroke="#111" stroke-width="0.2" transform="rotate(90 191.40 200.90)" >21</text>
<text transform="matrix(0.0833 0 0 0.0115 196.52 199.50)" font-size="100" font-weight="bold" fill="#3aae49">T</text>
<text transform="matrix(0.0727 0 0 0.3587 196.31 198.38)" font-size="100" font-weight="bold" fill="#f8961e">G</text>
<text x="197.06" y="200.90" font-size="5.4" fill="#111" stroke="#111" stroke-width="0.2" transform="rotate(90 197.06 200.90)" >22</text>
<text transform="matrix(0.0833 0 0 0.0230 202.18 199.50)" font-size="100" font-weight="bold" fill="#3aae49">T</text>
<text transform="matrix(0.0727 0 0 0.2802 201.97 197.66)" font-size="100" font-weight="bold" fill="#f8961e">G</text>
<text x="202.72" y="200.90" font-size="5.4" fill="#111" stroke="#111" stroke-width="0.2" transform="rotate(90 202.72 200.90)" >23</text>
<text transform="matrix(0.0833 0 0 0.0461 207.84 199.50)" font-size="100" font-weight="bold" fill="#3aae49">T</text>
<text transform="matrix(0.0750 0 0 0.1009 207.62 196.24)" font-size="100" font-weight="bold" fill="#154b8e">C</text>
<text x="208.38" y="200.90" font-size="5.4" fill="#111" stroke="#111" stroke-width="0.2" transform="rotate(90 208.38 200.90)" >24</text>
<text transform="matrix(0.0731 0 0 0.0461 213.41 199.50)" font-size="100" font-weight="bold" fill="#d21f3c">A</text>
<text transform="matrix(0.0727 0 0 0.1076 213.29 196.23)" font-size="100" font-weight="bold" fill="#f8961e">G</text>
<text x="214.04" y="200.90" font-size="5.4" fill="#111" stroke="#111" stroke-width="0.2" transform="rotate(90 214.04 200.90)" >25</text>
<text transform="matrix(0.0750 0 0 0.0336 218.94 199.47)" font-size="100" font-weight="bold" fill="#154b8e">C</text>
<text transform="matrix(0.0833 0 0 0.2488 219.16 197.12)" font-size="100" font-weight="bold" fill="#3aae49">T</text>
<text x="219.70" y="200.90" font-size="5.4" fill="#111" stroke="#111" stroke-width="0.2" transform="rotate(90 219.70 200.90)" >26</text>
<line x1="77.00" y1="213.40" x2="77.00" y2="242.70" stroke="#444" stroke-width="0.9" />
<line x1="74.80" y1="242.20" x2="77.00" y2="242.20" stroke="#444" stroke-width="0.9" />
<text x="69.60" y="245.10" font-size="8.2" fill="#111" stroke="#111" stroke-width="0.2" text-anchor="middle" >0</text>
<line x1="74.80" y1="227.95" x2="77.00" y2="227.95" stroke="#444" stroke-width="0.9" />
<text x="69.60" y="230.85" font-size="8.2" fill="#111" stroke="#111" stroke-width="0.2" text-anchor="middle" >1</text>
<line x1="74.80" y1="213.70" x2="77.00" y2="213.70" stroke="#444" stroke-width="0.9" />
<text x="69.60" y="216.60" font-size="8.2" fill="#111" stroke="#111" stroke-width="0.2" text-anchor="middle" >2</text>
<text x="62.60" y="227.50" font-size="8.6" fill="#222" stroke="#222" stroke-width="0.2" text-anchor="middle" textLength="11.80" lengthAdjust="spacingAndGlyphs" transform="rotate(-90 62.60 227.50)" >Bits</text>
<text transform="matrix(0.0798 0 0 0.0414 76.97 242.20)" font-size="100" font-weight="bold" fill="#3aae49">T</text>
<text transform="matrix(0.0719 0 0 0.1431 76.76 239.22)" font-size="100" font-weight="bold" fill="#154b8e">C</text>
<text x="77.40" y="243.60" font-size="5.4" fill="#111" stroke="#111" stroke-width="0.2" transform="rotate(90 77.40 243.60)" >1</text>
<text transform="matrix(0.0696 0 0 0.0605 81.71 242.15)" font-size="100" font-weight="bold" fill="#f8961e">G</text>
<text transform="matrix(0.0700 0 0 0.1015 81.82 237.92)" font-size="100" font-weight="bold" fill="#d21f3c">A</text>
<text x="82.34" y="243.60" font-size="5.4" fill="#111" stroke="#111" stroke-width="0.2" transform="rotate(90 82.34 243.60)" >2</text>
<text transform="matrix(0.0696 0 0 0.0202 86.65 242.18)" font-size="100" font-weight="bold" fill="#f8961e">G</text>
<text transform="matrix(0.0700 0 0 0.3190 86.76 240.77)" font-size="100" font-weight="bold" fill="#d21f3c">A</text>
<text x="87.28" y="243.60" font-size="5.4" fill="#111" stroke="#111" stroke-width="0.2" transform="rotate(90 87.28 243.60)" >3</text>
<text transform="matrix(0.0700 0 0 0.0518 91.70 242.20)" font-size="100" font-weight="bold" fill="#d21f3c">A</text>
<text transform="matrix(0.0696 0 0 0.0705 91.59 238.57)" font-size="100" font-weight="bold" fill="#f8961e">G</text>
<text x="92.22" y="243.60" font-size="5.4" fill="#111" stroke="#111" stroke-width="0.2" transform="rotate(90 92.22 243.60)" >4</text>
<text transform="matrix(0.0696 0 0 0.0504 96.53 242.15)" font-size="100" font-weight="bold" fill="#f8961e">G</text>
<text transform="matrix(0.0798 0 0 0.0870 96.73 238.64)" font-size="100" font-weight="bold" fill="#3aae49">T</text>
<text x="97.16" y="243.60" font-size="5.4" fill="#111" stroke="#111" stroke-width="0.2" transform="rotate(90 97.16 243.60)" >5</text>
<text transform="matrix(0.0798 0 0 0.0621 101.67 242.20)" font-size="100" font-weight="bold" fill="#3aae49">T</text>
<text transform="matrix(0.0700 0 0 0.1015 101.58 237.92)" font-size="100" font-weight="bold" fill="#d21f3c">A</text>
<text x="102.10" y="243.60" font-size="5.4" fill="#111" stroke="#111" stroke-width="0.2" transform="rotate(90 102.10 243.60)" >6</text>
<text transform="matrix(0.0798 0 0 0.0104 106.61 242.20)" font-size="100" font-weight="bold" fill="#3aae49">T</text>
<text transform="matrix(0.0696 0 0 0.2842 106.41 241.23)" font-size="100" font-weight="bold" fill="#f8961e">G</text>
<text x="107.04" y="243.60" font-size="5.4" fill="#111" stroke="#111" stroke-width="0.2" transform="rotate(90 107.04 243.60)" >7</text>
<text transform="matrix(0.0719 0 0 0.3547 111.34 241.88)" font-size="100" font-weight="bold" fill="#154b8e">C</text>
<text x="111.98" y="243.60" font-size="5.4" fill="#111" stroke="#111" stroke-width="0.2" transform="rotate(90 111.98 243.60)" >8</text>
<text transform="matrix(0.0798 0 0 0.3190 116.49 242.20)" font-size="100" font-weight="bold" fill="#3aae49">T</text>
<text x="116.92" y="243.60" font-size="5.4" fill="#111" stroke="#111" stroke-width="0.2" transform="rotate(90 116.92 243.60)" >9</text>
<text transform="matrix(0.0700 0 0 0.0311 121.34 242.20)" font-size="100" font-weight="bold" fill="#d21f3c">A</text>
<text transform="matrix(0.0696 0 0 0.2217 121.23 239.86)" font-size="100" font-weight="bold" fill="#f8961e">G</text>
<text x="121.86" y="243.60" font-size="5.4" fill="#111" stroke="#111" stroke-width="0.2" transform="rotate(90 121.86 243.60)" >10</text>
<text transform="matrix(0.0700 0 0 0.0104 126.28 242.20)" font-size="100" font-weight="bold" fill="#d21f3c">A</text>
<text transform="matrix(0.0696 0 0 0.2419 126.17 241.27)" font-size="100" font-weight="bold" fill="#f8961e">G</text>
<text x="126.80" y="243.60" font-size="5.4" fill="#111" stroke="#111" stroke-width="0.2" transform="rotate(90 126.80 243.60)" >11</text>
<text transform="matrix(0.0700 0 0 0.0104 131.22 242.20)" font-size="100" font-weight="bold" fill="#d21f3c">A</text>
<text transform="matrix(0.0696 0 0 0.2419 131.11 241.27)" font-size="100" font-weight="bold" fill="#f8961e">G</text>
<text x="131.74" y="243.60" font-size="5.4" fill="#111" stroke="#111" stroke-width="0.2" transform="rotate(90 131.74 243.60)" >12</text>
<text transform="matrix(0.0700 0 0 0.2900 136.16 242.20)" font-size="100" font-weight="bold" fill="#d21f3c">A</text>
<text x="136.68" y="243.60" font-size="5.4" fill="#111" stroke="#111" stroke-width="0.2" transform="rotate(90 136.68 243.60)" >13</text>
<text transform="matrix(0.0719 0 0 0.0705 140.98 242.14)" font-size="100" font-weight="bold" fill="#154b8e">C</text>
<text transform="matrix(0.0798 0 0 0.1243 141.19 237.21)" font-size="100" font-weight="bold" fill="#3aae49">T</text>
<text x="141.62" y="243.60" font-size="5.4" fill="#111" stroke="#111" stroke-width="0.2" transform="rotate(90 141.62 243.60)" >14</text>
<text transform="matrix(0.0798 0 0 0.3625 146.13 242.20)" font-size="100" font-weight="bold" fill="#3aae49">T</text>
<text x="146.56" y="243.60" font-size="5.4" fill="#111" stroke="#111" stroke-width="0.2" transform="rotate(90 146.56 243.60)" >15</text>
<text transform="matrix(0.0700 0 0 0.3562 150.98 242.20)" font-size="100" font-weight="bold" fill="#d21f3c">A</text>
<text x="151.50" y="243.60" font-size="5.4" fill="#111" stroke="#111" stroke-width="0.2" transform="rotate(90 151.50 243.60)" >16</text>
<text transform="matrix(0.0798 0 0 0.0207 156.01 242.20)" font-size="100" font-weight="bold" fill="#3aae49">T</text>
<text transform="matrix(0.0719 0 0 0.1411 155.80 240.65)" font-size="100" font-weight="bold" fill="#154b8e">C</text>
<text x="156.44" y="243.60" font-size="5.4" fill="#111" stroke="#111" stroke-width="0.2" transform="rotate(90 156.44 243.60)" >17</text>
<text transform="matrix(0.0798 0 0 0.0207 160.95 242.20)" font-size="100" font-weight="bold" fill="#3aae49">T</text>
<text transform="matrix(0.0700 0 0 0.2983 160.86 240.77)" font-size="100" font-weight="bold" fill="#d21f3c">A</text>
<text x="161.38" y="243.60" font-size="5.4" fill="#111" stroke="#111" stroke-width="0.2" transform="rotate(90 161.38 243.60)" >18</text>
<text transform="matrix(0.0700 0 0 0.0207 165.80 242.20)" font-size="100" font-weight="bold" fill="#d21f3c">A</text>
<text transform="matrix(0.0696 0 0 0.2378 165.69 240.56)" font-size="100" font-weight="bold" fill="#f8961e">G</text>
<text x="166.32" y="243.60" font-size="5.4" fill="#111" stroke="#111" stroke-width="0.2" transform="rotate(90 166.32 243.60)" >19</text>
<text transform="matrix(0.0700 0 0 0.0207 170.74 242.20)" font-size="100" font-weight="bold" fill="#d21f3c">A</text>
<text transform="matrix(0.0696 0 0 0.3326 170.63 240.48)" font-size="100" font-weight="bold" fill="#f8961e">G</text>
<text x="171.26" y="243.60" font-size="5.4" fill="#111" stroke="#111" stroke-width="0.2" transform="rotate(90 171.26 243.60)" >20</text>
<text transform="matrix(0.0798 0 0 0.0207 175.77 242.20)" font-size="100" font-weight="bold" fill="#3aae49">T</text>
<text transform="matrix(0.0719 0 0 0.2378 175.56 240.56)" font-size="100" font-weight="bold" fill="#154b8e">C</text>
<text x="176.20" y="243.60" font-size="5.4" fill="#111" stroke="#111" stroke-width="0.2" transform="rotate(90 176.20 243.60)" >21</text>
<text transform="matrix(0.0700 0 0 0.0311 180.62 242.20)" font-size="100" font-weight="bold" fill="#d21f3c">A</text>
<text transform="matrix(0.0719 0 0 0.0504 180.50 240.02)" font-size="100" font-weight="bold" fill="#154b8e">C</text>
<text x="181.14" y="243.60" font-size="5.4" fill="#111" stroke="#111" stroke-width="0.2" transform="rotate(90 181.14 243.60)" >22</text>
<text transform="matrix(0.0719 0 0 0.0403 185.44 242.16)" font-size="100" font-weight="bold" fill="#154b8e">C</text>
<text transform="matrix(0.0798 0 0 0.0973 185.65 239.35)" font-size="100" font-weight="bold" fill="#3aae49">T</text>
<text x="186.08" y="243.60" font-size="5.4" fill="#111" stroke="#111" stroke-width="0.2" transform="rotate(90 186.08 243.60)" >23</text>
<text transform="matrix(0.0700 0 0 0.0311 190.50 242.20)" font-size="100" font-weight="bold" fill="#d21f3c">A</text>
<text transform="matrix(0.0696 0 0 0.0766 190.39 239.99)" font-size="100" font-weight="bold" fill="#f8961e">G</text>
<text x="191.02" y="243.60" font-size="5.4" fill="#111" stroke="#111" stroke-width="0.2" transform="rotate(90 191.02 243.60)" >24</text>
<text transform="matrix(0.0798 0 0 0.0207 195.53 242.20)" font-size="100" font-weight="bold" fill="#3aae49">T</text>
<text transform="matrix(0.0719 0 0 0.0302 195.32 240.75)" font-size="100" font-weight="bold" fill="#154b8e">C</text>
<text transform="matrix(0.0696 0 0 0.0202 195.33 238.62)" font-size="100" font-weight="bold" fill="#f8961e">G</text>
<text x="195.96" y="243.60" font-size="5.4" fill="#111" stroke="#111" stroke-width="0.2" transform="rotate(90 195.96 243.60)" >25</text>
<text transform="matrix(0.0798 0 0 0.0311 200.47 242.20)" font-size="100" font-weight="bold" fill="#3aae49">T</text>
<text transform="matrix(0.0696 0 0 0.1189 200.27 239.96)" font-size="100" font-weight="bold" fill="#f8961e">G</text>
<text x="200.90" y="243.60" font-size="5.4" fill="#111" stroke="#111" stroke-width="0.2" transform="rotate(90 200.90 243.60)" >26</text>
<text transform="matrix(0.0798 0 0 0.0207 205.41 242.20)" font-size="100" font-weight="bold" fill="#3aae49">T</text>
<text transform="matrix(0.0719 0 0 0.2761 205.20 240.53)" font-size="100" font-weight="bold" fill="#154b8e">C</text>
<text x="205.84" y="243.60" font-size="5.4" fill="#111" stroke="#111" stroke-width="0.2" transform="rotate(90 205.84 243.60)" >27</text>
<text transform="matrix(0.0798 0 0 0.0207 210.35 242.20)" font-size="100" font-weight="bold" fill="#3aae49">T</text>
<text transform="matrix(0.0719 0 0 0.2761 210.14 240.53)" font-size="100" font-weight="bold" fill="#154b8e">C</text>
<text x="210.78" y="243.60" font-size="5.4" fill="#111" stroke="#111" stroke-width="0.2" transform="rotate(90 210.78 243.60)" >28</text>
<text transform="matrix(0.0719 0 0 0.0202 215.08 242.18)" font-size="100" font-weight="bold" fill="#154b8e">C</text>
<text transform="matrix(0.0700 0 0 0.2838 215.20 240.77)" font-size="100" font-weight="bold" fill="#d21f3c">A</text>
<text x="215.72" y="243.60" font-size="5.4" fill="#111" stroke="#111" stroke-width="0.2" transform="rotate(90 215.72 243.60)" >29</text>
<text transform="matrix(0.0719 0 0 0.3527 220.02 241.88)" font-size="100" font-weight="bold" fill="#154b8e">C</text>
<text x="220.66" y="243.60" font-size="5.4" fill="#111" stroke="#111" stroke-width="0.2" transform="rotate(90 220.66 243.60)" >30</text>
<rect x="111.70" y="8.60" width="42.10" height="46.20" fill="none" stroke="#3f6fa8" stroke-width="1.0" stroke-dasharray="3 2"/>
<rect x="164.00" y="8.60" width="43.00" height="45.70" fill="none" stroke="#f5a040" stroke-width="1.0" stroke-dasharray="3 2"/>
<line x1="124.00" y1="54.80" x2="124.00" y2="60.50" stroke="#3f6fa8" stroke-width="1.0" />
<path d="M121.8 59.6 L126.2 59.6 L124 62.6 Z" fill="#3f6fa8" />
<text x="116.90" y="70.20" font-size="8.4" fill="#3f6fa8" stroke="#3f6fa8" stroke-width="0.2" textLength="17.60" lengthAdjust="spacingAndGlyphs" >AP-1</text>
<line x1="186.20" y1="54.30" x2="186.20" y2="60.50" stroke="#f5a040" stroke-width="1.0" />
<path d="M184 59.6 L188.4 59.6 L186.2 62.6 Z" fill="#f5a040" />
<text x="175.40" y="70.20" font-size="8.4" fill="#f5a040" stroke="#f5a040" stroke-width="0.2" textLength="22.40" lengthAdjust="spacingAndGlyphs" >ZFP91</text>
<rect x="152.20" y="78.30" width="30.80" height="40.50" fill="none" stroke="#8a8a8a" stroke-width="1.0" stroke-dasharray="3 2"/>
<rect x="183.00" y="74.40" width="42.20" height="44.40" fill="none" stroke="#f5a040" stroke-width="1.0" stroke-dasharray="3 2"/>
<rect x="163.70" y="125.00" width="23.80" height="39.00" fill="none" stroke="#8a8a8a" stroke-width="1.0" stroke-dasharray="3 2"/>
<rect x="187.70" y="122.70" width="37.90" height="41.30" fill="none" stroke="#f5a040" stroke-width="1.0" stroke-dasharray="3 2"/>
<rect x="138.50" y="169.40" width="28.80" height="38.60" fill="none" stroke="#8a8a8a" stroke-width="1.0" stroke-dasharray="3 2"/>
<rect x="167.30" y="166.50" width="40.40" height="41.50" fill="none" stroke="#f5a040" stroke-width="1.0" stroke-dasharray="3 2"/>
<rect x="115.20" y="216.20" width="25.20" height="36.90" fill="none" stroke="#8a8a8a" stroke-width="1.0" stroke-dasharray="3 2"/>
<rect x="140.60" y="213.50" width="35.60" height="39.60" fill="none" stroke="#f5a040" stroke-width="1.0" stroke-dasharray="3 2"/>
<line x1="126.90" y1="253.10" x2="126.90" y2="259.50" stroke="#8a8a8a" stroke-width="1.0" />
<path d="M124.7 258.6 L129.1 258.6 L126.9 261.6 Z" fill="#8a8a8a" />
<text x="116.90" y="270.80" font-size="8.4" fill="#8a8a8a" stroke="#8a8a8a" stroke-width="0.2" textLength="19.60" lengthAdjust="spacingAndGlyphs" >IKZF1</text>
<line x1="158.70" y1="253.10" x2="158.70" y2="259.50" stroke="#f5a040" stroke-width="1.0" />
<path d="M156.5 258.6 L160.9 258.6 L158.7 261.6 Z" fill="#f5a040" />
<text x="148.00" y="270.80" font-size="8.4" fill="#f5a040" stroke="#f5a040" stroke-width="0.2" textLength="21.20" lengthAdjust="spacingAndGlyphs" >ZFP91</text>
<text x="141.30" y="279.80" font-size="8.4" fill="#f5a040" stroke="#f5a040" stroke-width="0.2" textLength="35.20" lengthAdjust="spacingAndGlyphs" >(reversed)</text>
<text x="290.30" y="16.20" font-size="11.5" fill="#000" stroke="#000" stroke-width="0.35" font-weight="bold" >B</text>
<text x="290.00" y="39.30" font-size="8.3" fill="#222" stroke="#222" stroke-width="0.2" textLength="29.50" lengthAdjust="spacingAndGlyphs" >SUDHL1</text>
<text x="345.40" y="38.80" font-size="8.6" fill="#111" stroke="#111" stroke-width="0.2" >P</text>
<text x="360.40" y="38.80" font-size="8.6" fill="#111" stroke="#111" stroke-width="0.2" textLength="17.10" lengthAdjust="spacingAndGlyphs" >RG1</text>
<text x="382.30" y="38.80" font-size="8.6" fill="#111" stroke="#111" stroke-width="0.2" textLength="16.90" lengthAdjust="spacingAndGlyphs" >RG2</text>
<text x="402.70" y="38.80" font-size="8.6" fill="#111" stroke="#111" stroke-width="0.2" textLength="17.70" lengthAdjust="spacingAndGlyphs" >RG3</text>
<text x="290.10" y="54.30" font-size="8.4" fill="#222" stroke="#222" stroke-width="0.2" textLength="44.10" lengthAdjust="spacingAndGlyphs" >c-Jun-pS249</text>
<text x="290.10" y="75.60" font-size="8.4" fill="#222" stroke="#222" stroke-width="0.2" textLength="18.70" lengthAdjust="spacingAndGlyphs" >c-Jun</text>
<text x="290.10" y="98.20" font-size="8.4" fill="#222" stroke="#222" stroke-width="0.2" textLength="33.00" lengthAdjust="spacingAndGlyphs" >&#945;-Tubulin</text>
<rect x="338.65" y="42.65" width="83.40" height="18.00" fill="#e5e6e8" stroke="#1a1a1a" stroke-width="1.1" />
<path d="M341.10 51.70 Q341.10 50.65 342.94 50.85 L354.26 50.85 Q356.10 50.65 356.10 51.70 Q356.10 53.25 354.26 53.15 L342.94 53.15 Q341.10 53.25 341.10 51.70 Z" fill="#8a8a8a" filter="url(#bl)"/>
<path d="M361.80 51.60 Q361.80 50.30 364.04 50.50 L374.76 50.50 Q377.00 50.30 377.00 51.60 Q377.00 53.40 374.76 53.30 L364.04 53.30 Q361.80 53.40 361.80 51.60 Z" fill="#222" filter="url(#bl)"/>
<path d="M382.10 51.60 Q382.10 50.30 384.34 50.50 L395.46 50.50 Q397.70 50.30 397.70 51.60 Q397.70 53.40 395.46 53.30 L384.34 53.30 Q382.10 53.40 382.10 51.60 Z" fill="#222" filter="url(#bl)"/>
<path d="M402.50 51.60 Q402.50 50.30 404.74 50.50 L416.26 50.50 Q418.50 50.30 418.50 51.60 Q418.50 53.40 416.26 53.30 L404.74 53.30 Q402.50 53.40 402.50 51.60 Z" fill="#222" filter="url(#bl)"/>
<rect x="338.65" y="65.05" width="83.40" height="17.80" fill="#e5e6e8" stroke="#1a1a1a" stroke-width="1.1" />
<path d="M341.00 73.00 Q341.00 70.30 345.16 70.50 L352.44 70.50 Q356.60 70.30 356.60 73.00 Q356.60 76.20 352.44 76.10 L345.16 76.10 Q341.00 76.20 341.00 73.00 Z" fill="#080808" filter="url(#bl)"/>
<ellipse cx="370.00" cy="73.70" rx="2.75" ry="1.10" fill="#2a2a2a" filter="url(#bl)"/>
<path d="M385.20 73.30 Q385.20 71.60 388.08 71.80 L395.32 71.80 Q398.20 71.60 398.20 73.30 Q398.20 75.50 395.32 75.40 L388.08 75.40 Q385.20 75.50 385.20 73.30 Z" fill="#111" filter="url(#bl)"/>
<ellipse cx="413.30" cy="73.70" rx="2.50" ry="0.85" fill="#444" filter="url(#bl)"/>
<rect x="338.65" y="87.05" width="83.40" height="17.80" fill="#e5e6e8" stroke="#1a1a1a" stroke-width="1.1" />
<path d="M340.20 95.10 Q340.20 92.70 344.20 92.90 L353.20 92.90 Q357.20 92.70 357.20 95.10 Q357.20 98.00 353.20 97.90 L344.20 97.90 Q340.20 98.00 340.20 95.10 Z" fill="#0a0a0a" filter="url(#bl)"/>
<path d="M361.45 95.10 Q361.45 92.80 365.29 93.00 L374.11 93.00 Q377.95 92.80 377.95 95.10 Q377.95 97.90 374.11 97.80 L365.29 97.80 Q361.45 97.90 361.45 95.10 Z" fill="#0a0a0a" filter="url(#bl)"/>
<path d="M382.45 95.10 Q382.45 92.80 386.29 93.00 L395.31 93.00 Q399.15 92.80 399.15 95.10 Q399.15 97.90 395.31 97.80 L386.29 97.80 Q382.45 97.90 382.45 95.10 Z" fill="#0a0a0a" filter="url(#bl)"/>
<path d="M403.00 95.10 Q403.00 92.80 406.84 93.00 L416.36 93.00 Q420.20 92.80 420.20 95.10 Q420.20 97.90 416.36 97.80 L406.84 97.80 Q403.00 97.90 403.00 95.10 Z" fill="#0a0a0a" filter="url(#bl)"/>
<text x="462.70" y="22.10" font-size="9.4" fill="#111" stroke="#111" stroke-width="0.2" textLength="50.00" lengthAdjust="spacingAndGlyphs" >pS249/total</text>
<line x1="463.30" y1="27.90" x2="463.30" y2="106.50" stroke="#222" stroke-width="1.3" />
<line x1="462.70" y1="105.80" x2="512.70" y2="105.80" stroke="#222" stroke-width="1.5" />
<line x1="459.80" y1="105.80" x2="463.30" y2="105.80" stroke="#222" stroke-width="1.0" />
<text x="458.10" y="108.70" font-size="8.0" fill="#222" stroke="#222" stroke-width="0.2" text-anchor="end" >0</text>
<line x1="459.80" y1="90.98" x2="463.30" y2="90.98" stroke="#222" stroke-width="1.0" />
<text x="458.10" y="93.88" font-size="8.0" fill="#222" stroke="#222" stroke-width="0.2" text-anchor="end" >2</text>
<line x1="459.80" y1="76.16" x2="463.30" y2="76.16" stroke="#222" stroke-width="1.0" />
<text x="458.10" y="79.06" font-size="8.0" fill="#222" stroke="#222" stroke-width="0.2" text-anchor="end" >4</text>
<line x1="459.80" y1="61.34" x2="463.30" y2="61.34" stroke="#222" stroke-width="1.0" />
<text x="458.10" y="64.24" font-size="8.0" fill="#222" stroke="#222" stroke-width="0.2" text-anchor="end" >6</text>
<line x1="459.80" y1="46.52" x2="463.30" y2="46.52" stroke="#222" stroke-width="1.0" />
<text x="458.10" y="49.42" font-size="8.0" fill="#222" stroke="#222" stroke-width="0.2" text-anchor="end" >8</text>
<line x1="459.80" y1="31.70" x2="463.30" y2="31.70" stroke="#222" stroke-width="1.0" />
<text x="458.10" y="34.60" font-size="8.0" fill="#222" stroke="#222" stroke-width="0.2" text-anchor="end" >10</text>
<rect x="467.20" y="98.98" width="6.90" height="6.82" fill="#d0103a" />
<line x1="470.65" y1="105.80" x2="470.65" y2="108.30" stroke="#222" stroke-width="1.0" />
<rect x="478.70" y="59.86" width="7.00" height="45.94" fill="#13508a" />
<line x1="482.20" y1="105.80" x2="482.20" y2="108.30" stroke="#222" stroke-width="1.0" />
<line x1="482.20" y1="50.23" x2="482.20" y2="59.86" stroke="#8a8a8a" stroke-width="1.0" />
<line x1="480.40" y1="50.23" x2="484.00" y2="50.23" stroke="#333" stroke-width="1.0" />
<path d="M479.00 46.15 L479.00 48.65 M477.92 46.77 L480.08 48.02 M480.08 46.77 L477.92 48.02 " stroke="#111" stroke-width="0.95" fill="none" stroke-linecap="round"/>
<path d="M482.20 46.15 L482.20 48.65 M481.12 46.77 L483.28 48.02 M483.28 46.77 L481.12 48.02 " stroke="#111" stroke-width="0.95" fill="none" stroke-linecap="round"/>
<path d="M485.40 46.15 L485.40 48.65 M484.32 46.77 L486.48 48.02 M486.48 46.77 L484.32 48.02 " stroke="#111" stroke-width="0.95" fill="none" stroke-linecap="round"/>
<rect x="490.00" y="86.90" width="6.90" height="18.90" fill="#3cb44a" />
<line x1="493.45" y1="105.80" x2="493.45" y2="108.30" stroke="#222" stroke-width="1.0" />
<line x1="493.45" y1="83.20" x2="493.45" y2="86.90" stroke="#8a8a8a" stroke-width="1.0" />
<line x1="491.65" y1="83.20" x2="495.25" y2="83.20" stroke="#333" stroke-width="1.0" />
<path d="M490.25 80.05 L490.25 82.55 M489.17 80.67 L491.33 81.92 M491.33 80.67 L489.17 81.92 " stroke="#111" stroke-width="0.95" fill="none" stroke-linecap="round"/>
<path d="M493.45 80.05 L493.45 82.55 M492.37 80.67 L494.53 81.92 M494.53 80.67 L492.37 81.92 " stroke="#111" stroke-width="0.95" fill="none" stroke-linecap="round"/>
<path d="M496.65 80.05 L496.65 82.55 M495.57 80.67 L497.73 81.92 M497.73 80.67 L495.57 81.92 " stroke="#111" stroke-width="0.95" fill="none" stroke-linecap="round"/>
<rect x="501.40" y="53.93" width="6.80" height="51.87" fill="#5a2575" />
<line x1="504.80" y1="105.80" x2="504.80" y2="108.30" stroke="#222" stroke-width="1.0" />
<line x1="504.80" y1="45.26" x2="504.80" y2="53.93" stroke="#8a8a8a" stroke-width="1.0" />
<line x1="503.00" y1="45.26" x2="506.60" y2="45.26" stroke="#333" stroke-width="1.0" />
<path d="M501.60 41.85 L501.60 44.35 M500.52 42.47 L502.68 43.72 M502.68 42.47 L500.52 43.72 " stroke="#111" stroke-width="0.95" fill="none" stroke-linecap="round"/>
<path d="M504.80 41.85 L504.80 44.35 M503.72 42.47 L505.88 43.72 M505.88 42.47 L503.72 43.72 " stroke="#111" stroke-width="0.95" fill="none" stroke-linecap="round"/>
<path d="M508.00 41.85 L508.00 44.35 M506.92 42.47 L509.08 43.72 M509.08 42.47 L506.92 43.72 " stroke="#111" stroke-width="0.95" fill="none" stroke-linecap="round"/>
<text x="445.70" y="66.80" font-size="8.8" fill="#222" stroke="#222" stroke-width="0.2" text-anchor="middle" textLength="62.40" lengthAdjust="spacingAndGlyphs" transform="rotate(-90 445.70 66.80)" >Relative expression</text>
<text x="473.25" y="116.00" font-size="7.0" fill="#222" stroke="#222" stroke-width="0.2" text-anchor="end" transform="rotate(-45 473.25 116.00)" >P</text>
<text x="484.80" y="116.00" font-size="7.0" fill="#222" stroke="#222" stroke-width="0.2" text-anchor="end" textLength="12.70" lengthAdjust="spacingAndGlyphs" transform="rotate(-45 484.80 116.00)" >RG1</text>
<text x="496.05" y="116.00" font-size="7.0" fill="#222" stroke="#222" stroke-width="0.2" text-anchor="end" textLength="12.90" lengthAdjust="spacingAndGlyphs" transform="rotate(-45 496.05 116.00)" >RG2</text>
<text x="507.40" y="116.00" font-size="7.0" fill="#222" stroke="#222" stroke-width="0.2" text-anchor="end" textLength="12.90" lengthAdjust="spacingAndGlyphs" transform="rotate(-45 507.40 116.00)" >RG3</text>
<text x="290.50" y="143.20" font-size="11.5" fill="#000" stroke="#000" stroke-width="0.35" font-weight="bold" >C</text>
<text x="290.00" y="165.90" font-size="8.4" fill="#222" stroke="#222" stroke-width="0.2" textLength="15.40" lengthAdjust="spacingAndGlyphs" >KIJK</text>
<text x="345.40" y="165.80" font-size="8.6" fill="#111" stroke="#111" stroke-width="0.2" >P</text>
<text x="360.40" y="165.80" font-size="8.6" fill="#111" stroke="#111" stroke-width="0.2" textLength="17.10" lengthAdjust="spacingAndGlyphs" >RG1</text>
<text x="382.30" y="165.80" font-size="8.6" fill="#111" stroke="#111" stroke-width="0.2" textLength="16.90" lengthAdjust="spacingAndGlyphs" >RG2</text>
<text x="402.70" y="165.80" font-size="8.6" fill="#111" stroke="#111" stroke-width="0.2" textLength="17.70" lengthAdjust="spacingAndGlyphs" >RG3</text>
<text x="290.10" y="181.30" font-size="8.4" fill="#222" stroke="#222" stroke-width="0.2" textLength="44.10" lengthAdjust="spacingAndGlyphs" >c-Jun-pS249</text>
<text x="290.10" y="202.70" font-size="8.4" fill="#222" stroke="#222" stroke-width="0.2" textLength="18.70" lengthAdjust="spacingAndGlyphs" >c-Jun</text>
<text x="290.10" y="225.80" font-size="8.4" fill="#222" stroke="#222" stroke-width="0.2" textLength="33.00" lengthAdjust="spacingAndGlyphs" >&#945;-Tubulin</text>
<rect x="337.65" y="169.35" width="83.90" height="18.50" fill="#e5e6e8" stroke="#1a1a1a" stroke-width="1.1" />
<path d="M340.10 178.00 Q340.10 175.70 343.94 175.90 L352.86 175.90 Q356.70 175.70 356.70 178.00 Q356.70 180.80 352.86 180.70 L343.94 180.70 Q340.10 180.80 340.10 178.00 Z" fill="#0d0d0d" filter="url(#bl)"/>
<path d="M360.90 178.00 Q360.90 175.70 364.74 175.90 L373.66 175.90 Q377.50 175.70 377.50 178.00 Q377.50 180.80 373.66 180.70 L364.74 180.70 Q360.90 180.80 360.90 178.00 Z" fill="#0d0d0d" filter="url(#bl)"/>
<path d="M381.40 178.00 Q381.40 175.70 385.24 175.90 L394.16 175.90 Q398.00 175.70 398.00 178.00 Q398.00 180.80 394.16 180.70 L385.24 180.70 Q381.40 180.80 381.40 178.00 Z" fill="#0d0d0d" filter="url(#bl)"/>
<path d="M402.70 178.00 Q402.70 175.70 406.54 175.90 L415.46 175.90 Q419.30 175.70 419.30 178.00 Q419.30 180.80 415.46 180.70 L406.54 180.70 Q402.70 180.80 402.70 178.00 Z" fill="#0d0d0d" filter="url(#bl)"/>
<rect x="337.65" y="191.75" width="83.90" height="18.30" fill="#e5e6e8" stroke="#1a1a1a" stroke-width="1.1" />
<path d="M340.40 200.60 Q340.40 198.60 343.76 198.80 L353.04 198.80 Q356.40 198.60 356.40 200.60 Q356.40 203.10 353.04 203.00 L343.76 203.00 Q340.40 203.10 340.40 200.60 Z" fill="#0d0d0d" filter="url(#bl)"/>
<path d="M361.95 200.80 Q361.95 199.60 364.03 199.80 L374.37 199.80 Q376.45 199.60 376.45 200.80 Q376.45 202.50 374.37 202.40 L364.03 202.40 Q361.95 202.50 361.95 200.80 Z" fill="#9a9a9a" filter="url(#bl)"/>
<path d="M382.70 200.80 Q382.70 199.70 384.62 199.90 L394.78 199.90 Q396.70 199.70 396.70 200.80 Q396.70 202.40 394.78 202.30 L384.62 202.30 Q382.70 202.40 382.70 200.80 Z" fill="#a5a5a5" filter="url(#bl)"/>
<path d="M403.75 200.70 Q403.75 199.40 405.99 199.60 L416.01 199.60 Q418.25 199.40 418.25 200.70 Q418.25 202.50 416.01 202.40 L405.99 202.40 Q403.75 202.50 403.75 200.70 Z" fill="#8c8c8c" filter="url(#bl)"/>
<rect x="337.65" y="213.95" width="83.90" height="18.30" fill="#e5e6e8" stroke="#1a1a1a" stroke-width="1.1" />
<path d="M340.00 222.10 Q340.00 219.80 343.84 220.00 L352.96 220.00 Q356.80 219.80 356.80 222.10 Q356.80 224.90 352.96 224.80 L343.84 224.80 Q340.00 224.90 340.00 222.10 Z" fill="#0d0d0d" filter="url(#bl)"/>
<path d="M360.80 222.10 Q360.80 219.80 364.64 220.00 L373.76 220.00 Q377.60 219.80 377.60 222.10 Q377.60 224.90 373.76 224.80 L364.64 224.80 Q360.80 224.90 360.80 222.10 Z" fill="#0d0d0d" filter="url(#bl)"/>
<path d="M381.30 222.10 Q381.30 219.80 385.14 220.00 L394.26 220.00 Q398.10 219.80 398.10 222.10 Q398.10 224.90 394.26 224.80 L385.14 224.80 Q381.30 224.90 381.30 222.10 Z" fill="#0d0d0d" filter="url(#bl)"/>
<path d="M402.60 222.10 Q402.60 219.80 406.44 220.00 L415.56 220.00 Q419.40 219.80 419.40 222.10 Q419.40 224.90 415.56 224.80 L406.44 224.80 Q402.60 224.90 402.60 222.10 Z" fill="#0d0d0d" filter="url(#bl)"/>
<text x="463.80" y="150.80" font-size="9.4" fill="#111" stroke="#111" stroke-width="0.2" textLength="49.50" lengthAdjust="spacingAndGlyphs" >pS249/total</text>
<line x1="463.80" y1="155.60" x2="463.80" y2="233.20" stroke="#222" stroke-width="1.3" />
<line x1="463.20" y1="232.50" x2="513.60" y2="232.50" stroke="#222" stroke-width="1.5" />
<line x1="460.30" y1="232.50" x2="463.80" y2="232.50" stroke="#222" stroke-width="1.0" />
<text x="458.60" y="235.40" font-size="8.0" fill="#222" stroke="#222" stroke-width="0.2" text-anchor="end" >0</text>
<line x1="460.30" y1="207.63" x2="463.80" y2="207.63" stroke="#222" stroke-width="1.0" />
<text x="458.60" y="210.53" font-size="8.0" fill="#222" stroke="#222" stroke-width="0.2" text-anchor="end" >2</text>
<line x1="460.30" y1="182.77" x2="463.80" y2="182.77" stroke="#222" stroke-width="1.0" />
<text x="458.60" y="185.67" font-size="8.0" fill="#222" stroke="#222" stroke-width="0.2" text-anchor="end" >4</text>
<line x1="460.30" y1="157.90" x2="463.80" y2="157.90" stroke="#222" stroke-width="1.0" />
<text x="458.60" y="160.80" font-size="8.0" fill="#222" stroke="#222" stroke-width="0.2" text-anchor="end" >6</text>
<rect x="468.00" y="220.44" width="6.80" height="12.06" fill="#d0103a" />
<line x1="471.40" y1="232.50" x2="471.40" y2="235.00" stroke="#222" stroke-width="1.0" />
<rect x="479.60" y="193.96" width="6.70" height="38.54" fill="#13508a" />
<line x1="482.95" y1="232.50" x2="482.95" y2="235.00" stroke="#222" stroke-width="1.0" />
<line x1="482.95" y1="191.22" x2="482.95" y2="193.96" stroke="#8a8a8a" stroke-width="1.0" />
<line x1="481.15" y1="191.22" x2="484.75" y2="191.22" stroke="#333" stroke-width="1.0" />
<path d="M479.75 186.75 L479.75 189.25 M478.67 187.38 L480.83 188.62 M480.83 187.38 L478.67 188.62 " stroke="#111" stroke-width="0.95" fill="none" stroke-linecap="round"/>
<path d="M482.95 186.75 L482.95 189.25 M481.87 187.38 L484.03 188.62 M484.03 187.38 L481.87 188.62 " stroke="#111" stroke-width="0.95" fill="none" stroke-linecap="round"/>
<path d="M486.15 186.75 L486.15 189.25 M485.07 187.38 L487.23 188.62 M487.23 187.38 L485.07 188.62 " stroke="#111" stroke-width="0.95" fill="none" stroke-linecap="round"/>
<rect x="491.20" y="182.77" width="6.70" height="49.73" fill="#3cb44a" />
<line x1="494.55" y1="232.50" x2="494.55" y2="235.00" stroke="#222" stroke-width="1.0" />
<line x1="494.55" y1="177.79" x2="494.55" y2="182.77" stroke="#8a8a8a" stroke-width="1.0" />
<line x1="492.75" y1="177.79" x2="496.35" y2="177.79" stroke="#333" stroke-width="1.0" />
<path d="M491.35 172.05 L491.35 174.55 M490.27 172.68 L492.43 173.93 M492.43 172.68 L490.27 173.93 " stroke="#111" stroke-width="0.95" fill="none" stroke-linecap="round"/>
<path d="M494.55 172.05 L494.55 174.55 M493.47 172.68 L495.63 173.93 M495.63 172.68 L493.47 173.93 " stroke="#111" stroke-width="0.95" fill="none" stroke-linecap="round"/>
<path d="M497.75 172.05 L497.75 174.55 M496.67 172.68 L498.83 173.93 M498.83 172.68 L496.67 173.93 " stroke="#111" stroke-width="0.95" fill="none" stroke-linecap="round"/>
<rect x="502.70" y="196.19" width="6.70" height="36.31" fill="#5a2575" />
<line x1="506.05" y1="232.50" x2="506.05" y2="235.00" stroke="#222" stroke-width="1.0" />
<line x1="506.05" y1="194.70" x2="506.05" y2="196.19" stroke="#8a8a8a" stroke-width="1.0" />
<line x1="504.25" y1="194.70" x2="507.85" y2="194.70" stroke="#333" stroke-width="1.0" />
<path d="M502.85 189.25 L502.85 191.75 M501.77 189.88 L503.93 191.12 M503.93 189.88 L501.77 191.12 " stroke="#111" stroke-width="0.95" fill="none" stroke-linecap="round"/>
<path d="M506.05 189.25 L506.05 191.75 M504.97 189.88 L507.13 191.12 M507.13 189.88 L504.97 191.12 " stroke="#111" stroke-width="0.95" fill="none" stroke-linecap="round"/>
<path d="M509.25 189.25 L509.25 191.75 M508.17 189.88 L510.33 191.12 M510.33 189.88 L508.17 191.12 " stroke="#111" stroke-width="0.95" fill="none" stroke-linecap="round"/>
<text x="446.30" y="193.00" font-size="8.8" fill="#222" stroke="#222" stroke-width="0.2" text-anchor="middle" textLength="63.50" lengthAdjust="spacingAndGlyphs" transform="rotate(-90 446.30 193.00)" >Relative expression</text>
<text x="474.00" y="242.80" font-size="7.0" fill="#222" stroke="#222" stroke-width="0.2" text-anchor="end" transform="rotate(-45 474.00 242.80)" >P</text>
<text x="485.60" y="242.80" font-size="7.0" fill="#222" stroke="#222" stroke-width="0.2" text-anchor="end" textLength="12.70" lengthAdjust="spacingAndGlyphs" transform="rotate(-45 485.60 242.80)" >RG1</text>
<text x="497.10" y="242.80" font-size="7.0" fill="#222" stroke="#222" stroke-width="0.2" text-anchor="end" textLength="12.90" lengthAdjust="spacingAndGlyphs" transform="rotate(-45 497.10 242.80)" >RG2</text>
<text x="508.60" y="242.80" font-size="7.0" fill="#222" stroke="#222" stroke-width="0.2" text-anchor="end" textLength="12.90" lengthAdjust="spacingAndGlyphs" transform="rotate(-45 508.60 242.80)" >RG3</text>
<text x="6.30" y="294.30" font-size="11.2" fill="#000" stroke="#000" stroke-width="0.35" font-weight="bold" >D</text>
<text x="14.50" y="344.00" font-size="9.4" fill="#222" stroke="#222" stroke-width="0.2" text-anchor="middle" textLength="71.50" lengthAdjust="spacingAndGlyphs" transform="rotate(-90 14.50 344.00)" >ZFP91 ChIP-seq reads</text>
<line x1="32.40" y1="319.60" x2="32.40" y2="368.90" stroke="#222" stroke-width="1.3" />
<line x1="31.80" y1="368.30" x2="102.50" y2="368.30" stroke="#222" stroke-width="1.3" />
<line x1="29.40" y1="368.30" x2="32.40" y2="368.30" stroke="#222" stroke-width="1.0" />
<text x="26.40" y="371.00" font-size="7.4" fill="#222" stroke="#222" stroke-width="0.2" text-anchor="end" >0</text>
<line x1="29.40" y1="353.50" x2="32.40" y2="353.50" stroke="#222" stroke-width="1.0" />
<text x="26.40" y="356.20" font-size="7.4" fill="#222" stroke="#222" stroke-width="0.2" text-anchor="end" >5</text>
<line x1="29.40" y1="338.70" x2="32.40" y2="338.70" stroke="#222" stroke-width="1.0" />
<text x="26.40" y="341.40" font-size="7.4" fill="#222" stroke="#222" stroke-width="0.2" text-anchor="end" >10</text>
<line x1="29.40" y1="323.90" x2="32.40" y2="323.90" stroke="#222" stroke-width="1.0" />
<text x="26.40" y="326.60" font-size="7.4" fill="#222" stroke="#222" stroke-width="0.2" text-anchor="end" >15</text>
<line x1="32.60" y1="368.30" x2="32.60" y2="370.70" stroke="#222" stroke-width="1.0" />
<line x1="48.90" y1="368.30" x2="48.90" y2="370.70" stroke="#222" stroke-width="1.0" />
<line x1="64.30" y1="368.30" x2="64.30" y2="370.70" stroke="#222" stroke-width="1.0" />
<line x1="81.50" y1="368.30" x2="81.50" y2="370.70" stroke="#222" stroke-width="1.0" />
<line x1="98.10" y1="368.30" x2="98.10" y2="370.70" stroke="#222" stroke-width="1.0" />
<text x="20.80" y="380.50" font-size="7.4" fill="#222" stroke="#222" stroke-width="0.2" textLength="17.70" lengthAdjust="spacingAndGlyphs" >-2000</text>
<text x="41.90" y="380.50" font-size="7.4" fill="#222" stroke="#222" stroke-width="0.2" textLength="16.90" lengthAdjust="spacingAndGlyphs" >-1000</text>
<text x="63.10" y="380.50" font-size="7.4" fill="#222" stroke="#222" stroke-width="0.2" textLength="3.80" lengthAdjust="spacingAndGlyphs" >0</text>
<text x="74.60" y="380.50" font-size="7.4" fill="#222" stroke="#222" stroke-width="0.2" textLength="13.90" lengthAdjust="spacingAndGlyphs" >1000</text>
<text x="92.90" y="380.50" font-size="7.4" fill="#222" stroke="#222" stroke-width="0.2" textLength="14.40" lengthAdjust="spacingAndGlyphs" >2000</text>
<text x="11.30" y="392.00" font-size="8.3" fill="#222" stroke="#222" stroke-width="0.2" textLength="108.70" lengthAdjust="spacingAndGlyphs" >Distance from ZFP91 peak center</text>
<line x1="69.40" y1="323.20" x2="77.10" y2="323.20" stroke="#d0103a" stroke-width="1.6" />
<text x="80.40" y="325.60" font-size="7.4" fill="#222" stroke="#222" stroke-width="0.2" textLength="25.90" lengthAdjust="spacingAndGlyphs" >JUN WT</text>
<line x1="69.40" y1="332.70" x2="77.10" y2="332.70" stroke="#1f4e8c" stroke-width="1.6" stroke-dasharray="2 1.3" />
<text x="80.40" y="335.10" font-size="7.4" fill="#222" stroke="#222" stroke-width="0.2" textLength="24.10" lengthAdjust="spacingAndGlyphs" >JUN KO</text>
<path d="M32.4 365.2 L40.0 364.8 L47.9 364.0 L54.0 363.2 L58.8 362.1 L61.0 360.5 L62.3 357.0 L63.4 351.5 L64.3 348.8 L65.2 352.5 L66.2 358.8 L68.0 361.2 L69.8 362.1 L75.0 363.2 L80.8 364.0 L90.0 364.8 L98.0 365.2" fill="none" stroke="#d0103a" stroke-width="1.5"  stroke-linejoin="round"/>
<path d="M32.4 364.3 L40.0 364.0 L47.9 363.4 L54.0 361.8 L58.8 359.8 L61.0 357.0 L62.3 351.5 L63.3 342.0 L64.3 335.1 L65.2 342.0 L66.5 351.5 L68.0 356.5 L69.8 358.5 L75.0 360.7 L85.0 363.0 L98.0 364.3" fill="none" stroke="#1f4e8c" stroke-width="1.5" stroke-dasharray="2 1.3" stroke-linejoin="round"/>
<text x="135.50" y="293.80" font-size="11.2" fill="#000" stroke="#000" stroke-width="0.35" font-weight="bold" >E</text>
<rect x="150.30" y="296.70" width="7.20" height="4.40" fill="#8c8c8c" stroke="#222" stroke-width="0.9" />
<text x="161.30" y="301.00" font-size="7.2" fill="#222" stroke="#222" stroke-width="0.2" textLength="28.60" lengthAdjust="spacingAndGlyphs"><tspan font-style="italic">JUN</tspan><tspan> WT</tspan></text>
<rect x="197.50" y="296.70" width="5.60" height="4.40" fill="#f0f0f0" stroke="#222" stroke-width="0.9" />
<text x="205.70" y="301.00" font-size="7.2" fill="#222" stroke="#222" stroke-width="0.2" textLength="28.00" lengthAdjust="spacingAndGlyphs"><tspan font-style="italic">JUN</tspan><tspan> KO</tspan></text>
<text x="178.80" y="312.00" font-size="7.3" fill="#222" stroke="#222" stroke-width="0.2" textLength="26.20" lengthAdjust="spacingAndGlyphs" >&lt;0.0001</text>
<text x="161.30" y="320.50" font-size="7.3" fill="#222" stroke="#222" stroke-width="0.2" textLength="21.20" lengthAdjust="spacingAndGlyphs" >0.0005</text>
<text x="198.00" y="320.50" font-size="7.3" fill="#222" stroke="#222" stroke-width="0.2" textLength="26.50" lengthAdjust="spacingAndGlyphs" >&lt;0.0001</text>
<text x="142.30" y="351.20" font-size="9.0" fill="#222" stroke="#222" stroke-width="0.2" text-anchor="middle" textLength="92.60" lengthAdjust="spacingAndGlyphs" transform="rotate(-90 142.30 351.20)" >ZFP91 ChIP-seq reads (log2)</text>
<line x1="159.60" y1="322.50" x2="159.60" y2="382.90" stroke="#222" stroke-width="1.3" />
<line x1="159.00" y1="382.50" x2="216.30" y2="382.50" stroke="#222" stroke-width="1.3" />
<line x1="156.60" y1="371.30" x2="159.60" y2="371.30" stroke="#222" stroke-width="1.0" />
<text x="153.00" y="374.00" font-size="7.6" fill="#222" stroke="#222" stroke-width="0.2" text-anchor="end" >0</text>
<line x1="156.60" y1="348.40" x2="159.60" y2="348.40" stroke="#222" stroke-width="1.0" />
<text x="153.00" y="351.10" font-size="7.6" fill="#222" stroke="#222" stroke-width="0.2" text-anchor="end" >5</text>
<line x1="156.60" y1="325.50" x2="159.60" y2="325.50" stroke="#222" stroke-width="1.0" />
<text x="153.00" y="328.20" font-size="7.6" fill="#222" stroke="#222" stroke-width="0.2" text-anchor="end" >10</text>
<line x1="157.40" y1="359.85" x2="159.60" y2="359.85" stroke="#222" stroke-width="0.9" />
<line x1="157.40" y1="336.95" x2="159.60" y2="336.95" stroke="#222" stroke-width="0.9" />
<path d="M165.80 324.90 L166.08 326.88 L166.36 328.87 L166.64 330.85 L166.92 332.83 L167.19 334.81 L167.47 336.80 L167.75 338.78 L167.78 340.76 L167.78 342.74 L167.78 344.73 L167.80 346.71 L167.88 348.69 L167.95 350.68 L168.02 352.66 L168.09 354.64 L168.05 356.62 L167.97 358.61 L167.90 360.59 L167.79 362.57 L167.61 364.56 L167.43 366.54 L167.25 368.52 L167.05 370.50 L166.76 372.49 L166.48 374.47 L166.23 376.45 L166.08 378.43 L165.94 380.42 L165.80 382.40 L165.40 382.40 L165.26 380.42 L165.12 378.43 L164.97 376.45 L164.72 374.47 L164.44 372.49 L164.15 370.50 L163.95 368.52 L163.77 366.54 L163.59 364.56 L163.41 362.57 L163.30 360.59 L163.23 358.61 L163.15 356.62 L163.11 354.64 L163.18 352.66 L163.25 350.68 L163.32 348.69 L163.40 346.71 L163.42 344.73 L163.42 342.74 L163.42 340.76 L163.45 338.78 L163.73 336.80 L164.01 334.81 L164.28 332.83 L164.56 330.85 L164.84 328.87 L165.12 326.88 L165.40 324.90 Z" fill="#a6d9f2" stroke="#29a8e0" stroke-width="0.9" stroke-linejoin="round"/>
<line x1="163.18" y1="357.40" x2="168.02" y2="357.40" stroke="#29a8e0" stroke-width="0.9" />
<line x1="163.35" y1="348.00" x2="167.85" y2="348.00" stroke="#29a8e0" stroke-width="0.6" stroke-dasharray="1 0.8" />
<line x1="163.81" y1="367.00" x2="167.39" y2="367.00" stroke="#29a8e0" stroke-width="0.6" stroke-dasharray="1 0.8" />
<line x1="165.60" y1="326.90" x2="165.60" y2="380.40" stroke="#29a8e0" stroke-width="0.5" />
<path d="M174.60 325.30 L174.91 327.29 L175.21 329.28 L175.54 331.27 L175.88 333.26 L176.21 335.25 L176.48 337.24 L176.24 339.23 L176.00 341.22 L175.81 343.21 L176.00 345.20 L176.20 347.19 L176.39 349.18 L176.48 351.17 L176.58 353.16 L176.67 355.14 L176.68 357.13 L176.63 359.12 L176.58 361.11 L176.53 363.10 L176.40 365.09 L176.21 367.08 L176.01 369.07 L175.81 371.06 L175.59 373.05 L175.35 375.04 L175.11 377.03 L174.91 379.02 L174.76 381.01 L174.60 383.00 L174.20 383.00 L174.04 381.01 L173.89 379.02 L173.69 377.03 L173.45 375.04 L173.21 373.05 L172.99 371.06 L172.79 369.07 L172.59 367.08 L172.40 365.09 L172.27 363.10 L172.22 361.11 L172.17 359.12 L172.12 357.13 L172.13 355.14 L172.22 353.16 L172.32 351.17 L172.41 349.18 L172.60 347.19 L172.80 345.20 L172.99 343.21 L172.80 341.22 L172.56 339.23 L172.32 337.24 L172.59 335.25 L172.92 333.26 L173.26 331.27 L173.59 329.28 L173.89 327.29 L174.20 325.30 Z" fill="#ffffff" stroke="#29a8e0" stroke-width="0.9" stroke-linejoin="round"/>
<line x1="172.15" y1="358.30" x2="176.65" y2="358.30" stroke="#29a8e0" stroke-width="0.9" />
<line x1="172.62" y1="347.00" x2="176.18" y2="347.00" stroke="#29a8e0" stroke-width="0.6" stroke-dasharray="1 0.8" />
<line x1="172.68" y1="368.00" x2="176.12" y2="368.00" stroke="#29a8e0" stroke-width="0.6" stroke-dasharray="1 0.8" />
<line x1="174.40" y1="327.30" x2="174.40" y2="381.00" stroke="#29a8e0" stroke-width="0.5" />
<path d="M183.70 333.00 L183.77 334.59 L183.84 336.17 L183.92 337.76 L183.99 339.34 L184.06 340.93 L184.14 342.52 L184.24 344.10 L184.36 345.69 L184.48 347.28 L184.60 348.86 L184.74 350.45 L184.91 352.03 L185.09 353.62 L185.26 355.21 L185.39 356.79 L185.49 358.38 L185.58 359.97 L185.67 361.55 L185.50 363.14 L185.31 364.72 L185.09 366.31 L184.77 367.90 L184.46 369.48 L184.27 371.07 L184.14 372.66 L184.01 374.24 L183.91 375.83 L183.80 377.41 L183.70 379.00 L183.30 379.00 L183.20 377.41 L183.09 375.83 L182.99 374.24 L182.86 372.66 L182.73 371.07 L182.54 369.48 L182.23 367.90 L181.91 366.31 L181.69 364.72 L181.50 363.14 L181.33 361.55 L181.42 359.97 L181.51 358.38 L181.61 356.79 L181.74 355.21 L181.91 353.62 L182.09 352.03 L182.26 350.45 L182.40 348.86 L182.52 347.28 L182.64 345.69 L182.76 344.10 L182.86 342.52 L182.94 340.93 L183.01 339.34 L183.08 337.76 L183.16 336.17 L183.23 334.59 L183.30 333.00 Z" fill="#8e8e8e" stroke="#111" stroke-width="0.9" stroke-linejoin="round"/>
<line x1="181.36" y1="361.10" x2="185.64" y2="361.10" stroke="#111" stroke-width="0.9" />
<line x1="181.59" y1="357.00" x2="185.41" y2="357.00" stroke="#111" stroke-width="0.6" stroke-dasharray="1 0.8" />
<line x1="181.73" y1="365.00" x2="185.27" y2="365.00" stroke="#111" stroke-width="0.6" stroke-dasharray="1 0.8" />
<line x1="183.50" y1="335.00" x2="183.50" y2="377.00" stroke="#111" stroke-width="0.5" />
<path d="M192.50 330.50 L192.57 332.22 L192.64 333.95 L192.71 335.67 L192.78 337.40 L192.84 339.12 L192.91 340.84 L193.00 342.57 L193.13 344.29 L193.26 346.02 L193.39 347.74 L193.51 349.47 L193.68 351.19 L193.87 352.91 L194.06 354.64 L194.23 356.36 L194.31 358.09 L194.39 359.81 L194.47 361.53 L194.31 363.26 L194.13 364.98 L193.89 366.71 L193.57 368.43 L193.28 370.16 L193.12 371.88 L192.96 373.60 L192.81 375.33 L192.70 377.05 L192.60 378.78 L192.50 380.50 L192.10 380.50 L192.00 378.78 L191.90 377.05 L191.79 375.33 L191.64 373.60 L191.48 371.88 L191.32 370.16 L191.03 368.43 L190.71 366.71 L190.47 364.98 L190.29 363.26 L190.13 361.53 L190.21 359.81 L190.29 358.09 L190.37 356.36 L190.54 354.64 L190.73 352.91 L190.92 351.19 L191.09 349.47 L191.21 347.74 L191.34 346.02 L191.47 344.29 L191.60 342.57 L191.69 340.84 L191.76 339.12 L191.82 337.40 L191.89 335.67 L191.96 333.95 L192.03 332.22 L192.10 330.50 Z" fill="#ffffff" stroke="#111" stroke-width="0.9" stroke-linejoin="round"/>
<line x1="190.18" y1="360.50" x2="194.42" y2="360.50" stroke="#111" stroke-width="0.9" />
<line x1="190.40" y1="356.00" x2="194.20" y2="356.00" stroke="#111" stroke-width="0.6" stroke-dasharray="1 0.8" />
<line x1="190.48" y1="365.00" x2="194.12" y2="365.00" stroke="#111" stroke-width="0.6" stroke-dasharray="1 0.8" />
<line x1="192.30" y1="332.50" x2="192.30" y2="378.50" stroke="#111" stroke-width="0.5" />
<path d="M201.70 329.30 L201.85 331.02 L202.00 332.75 L202.16 334.47 L202.32 336.20 L202.53 337.92 L202.74 339.64 L202.95 341.37 L203.16 343.09 L203.32 344.82 L203.48 346.54 L203.62 348.27 L203.64 349.99 L203.66 351.71 L203.66 353.44 L203.59 355.16 L203.52 356.89 L203.41 358.61 L203.22 360.33 L203.03 362.06 L202.84 363.78 L202.65 365.51 L202.46 367.23 L202.27 368.96 L202.13 370.68 L202.04 372.40 L201.95 374.13 L201.87 375.85 L201.78 377.58 L201.70 379.30 L201.30 379.30 L201.22 377.58 L201.13 375.85 L201.05 374.13 L200.96 372.40 L200.87 370.68 L200.73 368.96 L200.54 367.23 L200.35 365.51 L200.16 363.78 L199.97 362.06 L199.78 360.33 L199.59 358.61 L199.48 356.89 L199.41 355.16 L199.34 353.44 L199.34 351.71 L199.36 349.99 L199.38 348.27 L199.52 346.54 L199.68 344.82 L199.84 343.09 L200.05 341.37 L200.26 339.64 L200.47 337.92 L200.68 336.20 L200.84 334.47 L201.00 332.75 L201.15 331.02 L201.30 329.30 Z" fill="#f5a8d3" stroke="#e8199a" stroke-width="0.9" stroke-linejoin="round"/>
<line x1="199.34" y1="353.00" x2="203.66" y2="353.00" stroke="#e8199a" stroke-width="0.9" />
<line x1="199.41" y1="348.00" x2="203.59" y2="348.00" stroke="#e8199a" stroke-width="0.6" stroke-dasharray="1 0.8" />
<line x1="199.55" y1="358.00" x2="203.45" y2="358.00" stroke="#e8199a" stroke-width="0.6" stroke-dasharray="1 0.8" />
<line x1="201.50" y1="331.30" x2="201.50" y2="377.30" stroke="#e8199a" stroke-width="0.5" />
<path d="M210.60 326.10 L210.78 327.96 L210.95 329.81 L211.13 331.67 L211.33 333.52 L211.59 335.38 L211.86 337.23 L212.12 339.09 L212.31 340.94 L212.43 342.80 L212.56 344.65 L212.65 346.51 L212.68 348.36 L212.71 350.22 L212.66 352.07 L212.62 353.93 L212.58 355.78 L212.42 357.64 L212.23 359.49 L212.05 361.35 L211.84 363.20 L211.61 365.06 L211.38 366.91 L211.15 368.77 L211.05 370.62 L210.96 372.48 L210.87 374.33 L210.78 376.19 L210.69 378.04 L210.60 379.90 L210.20 379.90 L210.11 378.04 L210.02 376.19 L209.93 374.33 L209.84 372.48 L209.75 370.62 L209.65 368.77 L209.42 366.91 L209.19 365.06 L208.96 363.20 L208.75 361.35 L208.57 359.49 L208.38 357.64 L208.22 355.78 L208.18 353.93 L208.14 352.07 L208.09 350.22 L208.12 348.36 L208.15 346.51 L208.24 344.65 L208.37 342.80 L208.49 340.94 L208.68 339.09 L208.94 337.23 L209.21 335.38 L209.47 333.52 L209.67 331.67 L209.85 329.81 L210.02 327.96 L210.20 326.10 Z" fill="#ffffff" stroke="#e8199a" stroke-width="0.9" stroke-linejoin="round"/>
<line x1="208.10" y1="350.30" x2="212.70" y2="350.30" stroke="#e8199a" stroke-width="0.9" />
<line x1="208.23" y1="345.00" x2="212.57" y2="345.00" stroke="#e8199a" stroke-width="0.6" stroke-dasharray="1 0.8" />
<line x1="208.24" y1="356.00" x2="212.56" y2="356.00" stroke="#e8199a" stroke-width="0.6" stroke-dasharray="1 0.8" />
<line x1="210.40" y1="328.10" x2="210.40" y2="377.90" stroke="#e8199a" stroke-width="0.5" />
<text x="177.30" y="389.00" font-size="8.2" fill="#222" stroke="#222" stroke-width="0.2" text-anchor="end" textLength="28.50" lengthAdjust="spacingAndGlyphs" transform="rotate(-45 177.30 389.00)" >Parental</text>
<text x="195.20" y="389.00" font-size="8.2" fill="#222" stroke="#222" stroke-width="0.2" text-anchor="end" textLength="30.00" lengthAdjust="spacingAndGlyphs" transform="rotate(-45 195.20 389.00)" >Common</text>
<text x="213.20" y="389.00" font-size="8.2" fill="#222" stroke="#222" stroke-width="0.2" text-anchor="end" textLength="29.00" lengthAdjust="spacingAndGlyphs" transform="rotate(-45 213.20 389.00)" >Len-RGs</text>
<text x="250.00" y="293.70" font-size="11.2" fill="#000" stroke="#000" stroke-width="0.35" font-weight="bold" >F</text>
<text x="249.00" y="319.60" font-size="7.4" fill="#2f5d95" stroke="#2f5d95" stroke-width="0.2" textLength="18.90" lengthAdjust="spacingAndGlyphs" >c-Jun</text>
<text x="305.30" y="315.60" font-size="7.4" fill="#2f5d95" stroke="#2f5d95" stroke-width="0.2" text-anchor="end" textLength="17.80" lengthAdjust="spacingAndGlyphs" >K562</text>
<text x="305.30" y="325.00" font-size="7.4" fill="#2f5d95" stroke="#2f5d95" stroke-width="0.2" text-anchor="end" font-style="italic" textLength="20.30" lengthAdjust="spacingAndGlyphs" >PNAS</text>
<text x="249.00" y="339.00" font-size="7.4" fill="#2f5d95" stroke="#2f5d95" stroke-width="0.2" textLength="18.90" lengthAdjust="spacingAndGlyphs" >c-Jun</text>
<text x="305.30" y="334.80" font-size="7.4" fill="#2f5d95" stroke="#2f5d95" stroke-width="0.2" text-anchor="end" textLength="17.80" lengthAdjust="spacingAndGlyphs" >K562</text>
<text x="305.30" y="344.40" font-size="7.4" fill="#2f5d95" stroke="#2f5d95" stroke-width="0.2" text-anchor="end" font-style="italic" textLength="23.80" lengthAdjust="spacingAndGlyphs" >Nature</text>
<text x="249.00" y="357.80" font-size="7.4" fill="#1f447a" stroke="#1f447a" stroke-width="0.2" textLength="21.60" lengthAdjust="spacingAndGlyphs" >ZFP91</text>
<text x="305.30" y="357.80" font-size="7.4" fill="#1f447a" stroke="#1f447a" stroke-width="0.2" text-anchor="end" textLength="12.20" lengthAdjust="spacingAndGlyphs" >WT</text>
<text x="249.00" y="375.00" font-size="7.4" fill="#3fb04a" stroke="#3fb04a" stroke-width="0.2" textLength="21.60" lengthAdjust="spacingAndGlyphs" >ZFP91</text>
<text x="305.30" y="375.00" font-size="7.4" fill="#3fb04a" stroke="#3fb04a" stroke-width="0.2" text-anchor="end" textLength="29.70" lengthAdjust="spacingAndGlyphs" >JUN-KO</text>
<rect x="308.00" y="307.00" width="50.20" height="74.50" fill="#f6f6f8" />
<rect x="345.50" y="307.00" width="6.50" height="74.50" fill="#f9e9d9" />
<rect x="308.00" y="326.15" width="50.20" height="0.90" fill="#ffffff" />
<rect x="308.00" y="343.95" width="50.20" height="0.90" fill="#ffffff" />
<rect x="308.00" y="361.95" width="50.20" height="0.90" fill="#ffffff" />
<path d="M308.30 325.80 L308.30 323.64 L308.80 324.71 L309.30 324.55 L309.80 323.84 L310.30 324.61 L310.80 323.40 L311.30 324.88 L311.80 324.31 L312.30 323.39 L312.80 323.75 L313.30 324.85 L313.80 323.43 L314.30 324.62 L314.80 324.68 L315.30 323.38 L315.80 324.61 L316.30 324.90 L316.80 322.85 L317.30 324.74 L317.80 323.07 L318.30 323.55 L318.80 324.83 L319.30 324.95 L319.80 324.92 L320.30 323.78 L320.80 324.99 L321.30 324.55 L321.80 324.98 L322.30 324.08 L322.80 323.74 L323.30 323.17 L323.80 324.39 L324.30 324.37 L324.80 324.41 L325.30 324.95 L325.80 324.33 L326.30 324.61 L326.80 323.92 L327.30 323.34 L327.80 323.44 L328.30 324.49 L328.80 324.08 L329.30 323.75 L329.80 323.45 L330.30 323.23 L330.80 324.66 L331.30 323.04 L331.80 323.81 L332.30 324.33 L332.80 324.28 L333.30 324.91 L333.80 324.98 L334.30 323.81 L334.80 323.73 L335.30 324.97 L335.80 325.00 L336.30 323.39 L336.80 322.72 L337.30 324.34 L337.80 324.75 L338.30 323.06 L338.80 323.19 L339.30 324.98 L339.80 323.79 L340.30 325.00 L340.80 324.99 L341.30 324.93 L341.80 324.80 L342.30 324.34 L342.80 323.07 L343.30 324.79 L343.80 323.66 L344.30 324.96 L344.80 321.64 L345.30 323.63 L345.80 324.91 L346.30 324.61 L346.80 322.84 L347.30 317.22 L347.80 320.89 L348.30 323.21 L348.80 320.76 L349.30 314.88 L349.80 309.41 L350.30 315.46 L350.80 322.27 L351.30 322.33 L351.80 322.49 L352.30 324.38 L352.80 324.98 L353.30 324.82 L353.80 324.26 L354.30 323.52 L354.80 324.71 L355.30 324.09 L355.80 323.20 L356.30 324.90 L356.80 324.52 L357.30 324.44 L357.80 323.49 L357.90 325.80 Z" fill="#2b2d8c" opacity="0.95"/>
<line x1="308.30" y1="325.50" x2="357.90" y2="325.50" stroke="#2b2d8c" stroke-width="0.7" />
<path d="M308.30 343.60 L308.30 342.77 L308.80 341.34 L309.30 342.24 L309.80 341.77 L310.30 340.28 L310.80 342.38 L311.30 342.80 L311.80 341.51 L312.30 340.47 L312.80 341.17 L313.30 340.50 L313.80 342.71 L314.30 342.80 L314.80 342.37 L315.30 342.69 L315.80 342.71 L316.30 340.11 L316.80 342.07 L317.30 342.73 L317.80 340.91 L318.30 342.57 L318.80 341.55 L319.30 342.40 L319.80 341.71 L320.30 341.98 L320.80 340.97 L321.30 341.25 L321.80 341.20 L322.30 342.74 L322.80 341.58 L323.30 342.50 L323.80 342.20 L324.30 342.17 L324.80 342.12 L325.30 341.58 L325.80 341.96 L326.30 342.75 L326.80 340.26 L327.30 342.12 L327.80 342.69 L328.30 340.43 L328.80 342.32 L329.30 342.10 L329.80 342.80 L330.30 341.09 L330.80 341.44 L331.30 342.18 L331.80 339.79 L332.30 342.03 L332.80 342.21 L333.30 342.53 L333.80 342.12 L334.30 341.90 L334.80 342.80 L335.30 342.74 L335.80 340.90 L336.30 341.20 L336.80 342.67 L337.30 341.69 L337.80 340.53 L338.30 342.68 L338.80 341.86 L339.30 342.79 L339.80 342.15 L340.30 342.65 L340.80 342.33 L341.30 341.13 L341.80 342.41 L342.30 342.78 L342.80 342.20 L343.30 341.92 L343.80 342.36 L344.30 341.52 L344.80 341.58 L345.30 342.11 L345.80 340.30 L346.30 342.17 L346.80 341.16 L347.30 336.43 L347.80 334.12 L348.30 339.06 L348.80 340.63 L349.30 333.59 L349.80 327.40 L350.30 330.98 L350.80 340.08 L351.30 337.54 L351.80 340.40 L352.30 339.80 L352.80 342.18 L353.30 342.54 L353.80 341.69 L354.30 342.73 L354.80 341.72 L355.30 342.23 L355.80 340.85 L356.30 342.80 L356.80 342.57 L357.30 341.26 L357.80 342.71 L357.90 343.60 Z" fill="#2b2d8c" opacity="0.95"/>
<line x1="308.30" y1="343.30" x2="357.90" y2="343.30" stroke="#2b2d8c" stroke-width="0.7" />
<path d="M308.30 361.60 L308.30 359.90 L308.80 360.80 L309.30 360.13 L309.80 360.39 L310.30 360.47 L310.80 360.50 L311.30 360.64 L311.80 360.31 L312.30 359.92 L312.80 360.63 L313.30 360.28 L313.80 360.72 L314.30 360.03 L314.80 360.52 L315.30 360.80 L315.80 360.79 L316.30 359.81 L316.80 360.78 L317.30 360.20 L317.80 360.00 L318.30 360.21 L318.80 359.85 L319.30 360.78 L319.80 360.33 L320.30 360.55 L320.80 359.97 L321.30 360.14 L321.80 360.05 L322.30 360.62 L322.80 359.98 L323.30 360.60 L323.80 360.72 L324.30 360.78 L324.80 360.75 L325.30 360.72 L325.80 360.34 L326.30 360.57 L326.80 360.49 L327.30 360.77 L327.80 359.95 L328.30 360.80 L328.80 360.31 L329.30 360.77 L329.80 360.80 L330.30 360.74 L330.80 360.06 L331.30 360.56 L331.80 360.76 L332.30 360.05 L332.80 359.92 L333.30 360.78 L333.80 360.80 L334.30 360.80 L334.80 360.80 L335.30 360.17 L335.80 360.78 L336.30 359.56 L336.80 360.40 L337.30 360.46 L337.80 360.79 L338.30 360.80 L338.80 360.25 L339.30 360.01 L339.80 360.09 L340.30 360.61 L340.80 360.40 L341.30 360.79 L341.80 360.06 L342.30 360.50 L342.80 360.57 L343.30 359.90 L343.80 360.47 L344.30 360.80 L344.80 360.75 L345.30 360.78 L345.80 360.43 L346.30 359.77 L346.80 359.30 L347.30 358.94 L347.80 357.87 L348.30 356.84 L348.80 354.41 L349.30 355.26 L349.80 358.56 L350.30 358.25 L350.80 359.79 L351.30 360.64 L351.80 360.56 L352.30 360.72 L352.80 360.77 L353.30 359.89 L353.80 360.64 L354.30 360.03 L354.80 360.56 L355.30 360.79 L355.80 360.69 L356.30 359.97 L356.80 360.74 L357.30 359.92 L357.80 360.79 L357.90 361.60 Z" fill="#2b2d8c" opacity="0.95"/>
<line x1="308.30" y1="361.30" x2="357.90" y2="361.30" stroke="#2b2d8c" stroke-width="0.7" />
<path d="M308.30 379.80 L308.30 378.93 L308.80 378.80 L309.30 378.37 L309.80 379.00 L310.30 378.91 L310.80 377.26 L311.30 377.81 L311.80 378.34 L312.30 378.35 L312.80 378.58 L313.30 378.27 L313.80 378.04 L314.30 377.14 L314.80 378.66 L315.30 377.68 L315.80 377.53 L316.30 377.92 L316.80 377.48 L317.30 378.99 L317.80 378.94 L318.30 378.72 L318.80 378.87 L319.30 378.78 L319.80 378.46 L320.30 377.59 L320.80 377.50 L321.30 377.27 L321.80 378.97 L322.30 377.37 L322.80 378.49 L323.30 378.94 L323.80 378.48 L324.30 379.00 L324.80 377.28 L325.30 377.92 L325.80 378.97 L326.30 378.01 L326.80 379.00 L327.30 379.00 L327.80 378.85 L328.30 377.31 L328.80 377.25 L329.30 378.99 L329.80 379.00 L330.30 378.76 L330.80 377.23 L331.30 378.86 L331.80 377.62 L332.30 378.68 L332.80 378.33 L333.30 378.51 L333.80 377.46 L334.30 378.72 L334.80 378.93 L335.30 377.32 L335.80 377.70 L336.30 377.24 L336.80 378.36 L337.30 378.37 L337.80 378.25 L338.30 378.18 L338.80 379.00 L339.30 378.26 L339.80 378.92 L340.30 378.44 L340.80 378.81 L341.30 378.80 L341.80 378.88 L342.30 376.86 L342.80 378.11 L343.30 378.94 L343.80 378.92 L344.30 378.72 L344.80 378.99 L345.30 378.84 L345.80 378.68 L346.30 378.72 L346.80 377.15 L347.30 375.72 L347.80 374.27 L348.30 371.05 L348.80 364.09 L349.30 365.87 L349.80 369.28 L350.30 373.73 L350.80 377.85 L351.30 378.85 L351.80 378.74 L352.30 378.75 L352.80 377.08 L353.30 377.67 L353.80 378.72 L354.30 377.51 L354.80 378.08 L355.30 378.29 L355.80 378.89 L356.30 378.93 L356.80 378.45 L357.30 376.09 L357.80 378.21 L357.90 379.80 Z" fill="#3f9a3c" opacity="0.95"/>
<line x1="308.30" y1="379.50" x2="357.90" y2="379.50" stroke="#3f9a3c" stroke-width="0.7" />
<text x="343.80" y="304.50" font-size="8.3" fill="#111" stroke="#111" stroke-width="0.2" textLength="15.00" lengthAdjust="spacingAndGlyphs" >5 kb</text>
<line x1="345.00" y1="306.40" x2="356.50" y2="306.40" stroke="#111" stroke-width="1.1" />
<rect x="308.00" y="382.20" width="50.20" height="1.80" fill="#bdbdbd" />
<line x1="309.00" y1="386.70" x2="357.20" y2="386.70" stroke="#5a5fa8" stroke-width="0.6" />
<text x="316.00" y="398.20" font-size="8.3" fill="#222" stroke="#222" stroke-width="0.2" font-style="italic" textLength="39.70" lengthAdjust="spacingAndGlyphs" >&lt;MAP3K11</text>
<rect x="359.60" y="307.00" width="50.00" height="74.50" fill="#f6f6f8" />
<rect x="376.60" y="307.00" width="16.20" height="74.50" fill="#f9e9d9" />
<rect x="359.60" y="326.15" width="50.00" height="0.90" fill="#ffffff" />
<rect x="359.60" y="343.95" width="50.00" height="0.90" fill="#ffffff" />
<rect x="359.60" y="361.95" width="50.00" height="0.90" fill="#ffffff" />
<path d="M359.90 325.80 L359.90 324.36 L360.40 324.34 L360.90 323.60 L361.40 324.14 L361.90 324.48 L362.40 324.90 L362.90 320.67 L363.40 324.28 L363.90 324.86 L364.40 324.61 L364.90 324.11 L365.40 323.77 L365.90 322.95 L366.40 324.66 L366.90 323.08 L367.40 324.76 L367.90 324.83 L368.40 324.65 L368.90 324.32 L369.40 324.96 L369.90 323.14 L370.40 320.80 L370.90 321.04 L371.40 324.40 L371.90 324.73 L372.40 324.98 L372.90 324.99 L373.40 323.63 L373.90 324.62 L374.40 323.95 L374.90 320.40 L375.40 322.87 L375.90 324.80 L376.40 323.56 L376.90 323.09 L377.40 315.87 L377.90 323.34 L378.40 324.98 L378.90 324.23 L379.40 317.68 L379.90 310.34 L380.40 321.58 L380.90 324.24 L381.40 323.60 L381.90 320.86 L382.40 322.06 L382.90 319.54 L383.40 318.01 L383.90 324.28 L384.40 324.21 L384.90 324.98 L385.40 322.79 L385.90 322.21 L386.40 318.41 L386.90 323.23 L387.40 324.00 L387.90 324.15 L388.40 324.95 L388.90 322.87 L389.40 317.67 L389.90 322.18 L390.40 323.61 L390.90 324.65 L391.40 323.94 L391.90 325.00 L392.40 323.77 L392.90 322.89 L393.40 324.09 L393.90 324.30 L394.40 324.94 L394.90 324.99 L395.40 324.93 L395.90 322.80 L396.40 324.59 L396.90 324.01 L397.40 324.40 L397.90 322.05 L398.40 323.84 L398.90 324.20 L399.40 324.26 L399.90 323.38 L400.40 324.99 L400.90 324.35 L401.40 324.34 L401.90 321.86 L402.40 323.09 L402.90 324.49 L403.40 324.64 L403.90 323.91 L404.40 324.63 L404.90 324.56 L405.40 323.93 L405.90 324.70 L406.40 322.97 L406.90 323.93 L407.40 323.47 L407.90 325.00 L408.40 324.82 L408.90 324.26 L409.30 325.80 Z" fill="#2b2d8c" opacity="0.95"/>
<line x1="359.90" y1="325.50" x2="409.30" y2="325.50" stroke="#2b2d8c" stroke-width="0.7" />
<path d="M359.90 343.60 L359.90 342.19 L360.40 339.84 L360.90 342.01 L361.40 342.71 L361.90 341.53 L362.40 342.78 L362.90 342.78 L363.40 337.30 L363.90 339.55 L364.40 341.59 L364.90 342.78 L365.40 342.08 L365.90 337.91 L366.40 340.64 L366.90 341.85 L367.40 342.03 L367.90 342.17 L368.40 339.30 L368.90 340.40 L369.40 342.52 L369.90 342.43 L370.40 339.37 L370.90 336.47 L371.40 337.03 L371.90 342.38 L372.40 339.92 L372.90 339.39 L373.40 341.60 L373.90 335.97 L374.40 340.15 L374.90 339.36 L375.40 342.77 L375.90 339.59 L376.40 342.71 L376.90 340.52 L377.40 333.03 L377.90 339.79 L378.40 342.26 L378.90 342.51 L379.40 335.11 L379.90 327.40 L380.40 340.71 L380.90 339.81 L381.40 332.64 L381.90 338.93 L382.40 342.21 L382.90 341.21 L383.40 327.64 L383.90 336.07 L384.40 340.19 L384.90 334.40 L385.40 336.01 L385.90 341.06 L386.40 328.32 L386.90 337.93 L387.40 339.64 L387.90 339.65 L388.40 341.63 L388.90 337.45 L389.40 329.50 L389.90 337.47 L390.40 341.58 L390.90 342.72 L391.40 342.79 L391.90 341.82 L392.40 341.60 L392.90 339.89 L393.40 342.80 L393.90 342.21 L394.40 342.72 L394.90 341.77 L395.40 342.11 L395.90 336.61 L396.40 340.13 L396.90 342.66 L397.40 339.94 L397.90 337.02 L398.40 342.09 L398.90 342.52 L399.40 342.79 L399.90 341.00 L400.40 341.00 L400.90 340.66 L401.40 341.74 L401.90 337.12 L402.40 340.70 L402.90 340.13 L403.40 341.55 L403.90 341.73 L404.40 342.79 L404.90 339.33 L405.40 341.05 L405.90 341.00 L406.40 341.75 L406.90 340.86 L407.40 341.74 L407.90 342.02 L408.40 341.20 L408.90 341.59 L409.30 343.60 Z" fill="#2b2d8c" opacity="0.95"/>
<line x1="359.90" y1="343.30" x2="409.30" y2="343.30" stroke="#2b2d8c" stroke-width="0.7" />
<path d="M359.90 361.60 L359.90 360.54 L360.40 360.26 L360.90 360.80 L361.40 360.72 L361.90 360.20 L362.40 359.96 L362.90 358.86 L363.40 359.72 L363.90 360.72 L364.40 360.79 L364.90 360.68 L365.40 359.80 L365.90 359.70 L366.40 360.32 L366.90 357.71 L367.40 359.55 L367.90 360.62 L368.40 360.77 L368.90 360.80 L369.40 359.96 L369.90 360.61 L370.40 360.54 L370.90 360.78 L371.40 358.98 L371.90 357.86 L372.40 359.34 L372.90 360.15 L373.40 360.74 L373.90 360.50 L374.40 359.28 L374.90 360.59 L375.40 360.75 L375.90 360.64 L376.40 360.79 L376.90 360.77 L377.40 360.80 L377.90 360.67 L378.40 360.80 L378.90 360.76 L379.40 360.54 L379.90 360.54 L380.40 360.77 L380.90 360.66 L381.40 360.10 L381.90 360.80 L382.40 360.06 L382.90 360.68 L383.40 360.34 L383.90 359.48 L384.40 360.80 L384.90 360.02 L385.40 360.31 L385.90 360.43 L386.40 359.68 L386.90 356.62 L387.40 355.60 L387.90 354.38 L388.40 350.47 L388.90 352.44 L389.40 357.22 L389.90 357.73 L390.40 359.10 L390.90 359.68 L391.40 360.74 L391.90 359.54 L392.40 360.33 L392.90 359.59 L393.40 360.61 L393.90 359.75 L394.40 360.40 L394.90 360.65 L395.40 359.36 L395.90 359.74 L396.40 359.76 L396.90 360.45 L397.40 360.29 L397.90 359.23 L398.40 358.87 L398.90 360.40 L399.40 360.79 L399.90 360.20 L400.40 360.74 L400.90 360.68 L401.40 360.43 L401.90 359.26 L402.40 359.29 L402.90 359.60 L403.40 360.80 L403.90 360.58 L404.40 360.26 L404.90 360.74 L405.40 359.10 L405.90 360.72 L406.40 360.59 L406.90 359.70 L407.40 360.20 L407.90 360.56 L408.40 359.89 L408.90 360.56 L409.30 361.60 Z" fill="#2b2d8c" opacity="0.95"/>
<line x1="359.90" y1="361.30" x2="409.30" y2="361.30" stroke="#2b2d8c" stroke-width="0.7" />
<path d="M359.90 379.80 L359.90 378.90 L360.40 378.14 L360.90 378.95 L361.40 378.97 L361.90 378.00 L362.40 378.51 L362.90 378.87 L363.40 377.66 L363.90 379.00 L364.40 378.97 L364.90 377.76 L365.40 377.70 L365.90 377.23 L366.40 378.90 L366.90 378.59 L367.40 378.44 L367.90 378.79 L368.40 378.85 L368.90 377.72 L369.40 377.08 L369.90 378.46 L370.40 378.98 L370.90 378.67 L371.40 378.94 L371.90 378.90 L372.40 378.34 L372.90 378.98 L373.40 378.92 L373.90 378.95 L374.40 378.99 L374.90 377.22 L375.40 378.04 L375.90 379.00 L376.40 377.77 L376.90 378.26 L377.40 378.72 L377.90 377.48 L378.40 378.94 L378.90 378.70 L379.40 378.24 L379.90 376.40 L380.40 377.65 L380.90 378.19 L381.40 378.78 L381.90 378.81 L382.40 378.96 L382.90 378.97 L383.40 378.82 L383.90 377.56 L384.40 376.43 L384.90 374.86 L385.40 375.72 L385.90 377.51 L386.40 378.53 L386.90 378.60 L387.40 375.10 L387.90 369.14 L388.40 369.71 L388.90 366.16 L389.40 364.42 L389.90 370.79 L390.40 370.32 L390.90 376.32 L391.40 377.38 L391.90 378.38 L392.40 378.91 L392.90 378.94 L393.40 379.00 L393.90 378.96 L394.40 375.79 L394.90 375.59 L395.40 376.61 L395.90 378.73 L396.40 378.97 L396.90 378.96 L397.40 378.22 L397.90 375.58 L398.40 377.21 L398.90 377.40 L399.40 379.00 L399.90 378.95 L400.40 378.12 L400.90 375.60 L401.40 377.42 L401.90 377.43 L402.40 378.61 L402.90 378.79 L403.40 378.34 L403.90 375.79 L404.40 377.21 L404.90 378.58 L405.40 378.31 L405.90 377.44 L406.40 378.97 L406.90 377.75 L407.40 378.86 L407.90 378.86 L408.40 377.36 L408.90 378.99 L409.30 379.80 Z" fill="#3f9a3c" opacity="0.95"/>
<line x1="359.90" y1="379.50" x2="409.30" y2="379.50" stroke="#3f9a3c" stroke-width="0.7" />
<text x="395.80" y="304.50" font-size="8.3" fill="#111" stroke="#111" stroke-width="0.2" textLength="15.00" lengthAdjust="spacingAndGlyphs" >5 kb</text>
<line x1="397.00" y1="306.40" x2="408.50" y2="306.40" stroke="#111" stroke-width="1.1" />
<rect x="359.60" y="382.20" width="50.00" height="1.80" fill="#bdbdbd" />
<line x1="360.60" y1="386.70" x2="408.60" y2="386.70" stroke="#5a5fa8" stroke-width="0.6" />
<text x="369.20" y="398.20" font-size="8.3" fill="#222" stroke="#222" stroke-width="0.2" font-style="italic" textLength="31.20" lengthAdjust="spacingAndGlyphs" >&gt;LIN28B</text>
<rect x="411.00" y="307.00" width="50.20" height="74.50" fill="#f6f6f8" />
<rect x="424.20" y="307.00" width="8.60" height="74.50" fill="#f9e9d9" />
<rect x="411.00" y="326.15" width="50.20" height="0.90" fill="#ffffff" />
<rect x="411.00" y="343.95" width="50.20" height="0.90" fill="#ffffff" />
<rect x="411.00" y="361.95" width="50.20" height="0.90" fill="#ffffff" />
<path d="M411.30 325.80 L411.30 323.41 L411.80 323.90 L412.30 324.90 L412.80 323.41 L413.30 324.42 L413.80 324.71 L414.30 324.56 L414.80 320.67 L415.30 322.84 L415.80 323.16 L416.30 324.69 L416.80 323.77 L417.30 324.99 L417.80 325.00 L418.30 324.95 L418.80 324.88 L419.30 324.96 L419.80 325.00 L420.30 323.58 L420.80 323.47 L421.30 324.86 L421.80 324.24 L422.30 324.66 L422.80 324.26 L423.30 324.69 L423.80 323.32 L424.30 324.12 L424.80 324.17 L425.30 321.09 L425.80 321.68 L426.30 322.96 L426.80 324.93 L427.30 321.87 L427.80 316.86 L428.30 322.32 L428.80 322.40 L429.30 324.26 L429.80 312.75 L430.30 315.13 L430.80 324.60 L431.30 323.64 L431.80 321.10 L432.30 321.71 L432.80 323.88 L433.30 324.97 L433.80 324.98 L434.30 324.75 L434.80 324.94 L435.30 324.86 L435.80 323.48 L436.30 324.10 L436.80 321.94 L437.30 321.92 L437.80 324.81 L438.30 324.86 L438.80 324.99 L439.30 323.51 L439.80 323.15 L440.30 323.57 L440.80 323.43 L441.30 323.80 L441.80 324.06 L442.30 323.34 L442.80 323.16 L443.30 324.96 L443.80 323.63 L444.30 321.25 L444.80 321.59 L445.30 322.36 L445.80 324.73 L446.30 325.00 L446.80 323.50 L447.30 323.59 L447.80 324.90 L448.30 323.33 L448.80 323.54 L449.30 323.87 L449.80 323.06 L450.30 324.63 L450.80 324.99 L451.30 325.00 L451.80 324.91 L452.30 322.33 L452.80 324.80 L453.30 324.92 L453.80 324.91 L454.30 324.61 L454.80 321.75 L455.30 322.63 L455.80 324.81 L456.30 324.99 L456.80 324.80 L457.30 324.21 L457.80 324.60 L458.30 323.41 L458.80 324.29 L459.30 324.26 L459.80 324.15 L460.30 323.94 L460.80 324.24 L460.90 325.80 Z" fill="#2b2d8c" opacity="0.95"/>
<line x1="411.30" y1="325.50" x2="460.90" y2="325.50" stroke="#2b2d8c" stroke-width="0.7" />
<path d="M411.30 343.60 L411.30 342.75 L411.80 341.91 L412.30 342.72 L412.80 341.29 L413.30 342.26 L413.80 342.80 L414.30 342.06 L414.80 341.34 L415.30 339.96 L415.80 341.56 L416.30 341.06 L416.80 342.22 L417.30 339.86 L417.80 340.08 L418.30 340.44 L418.80 341.87 L419.30 342.54 L419.80 340.36 L420.30 342.70 L420.80 342.71 L421.30 340.20 L421.80 337.21 L422.30 338.10 L422.80 341.92 L423.30 341.74 L423.80 334.97 L424.30 337.65 L424.80 341.96 L425.30 342.24 L425.80 341.38 L426.30 334.31 L426.80 331.25 L427.30 342.03 L427.80 341.15 L428.30 336.78 L428.80 337.68 L429.30 341.93 L429.80 337.09 L430.30 328.70 L430.80 339.83 L431.30 341.74 L431.80 340.89 L432.30 342.47 L432.80 340.58 L433.30 340.96 L433.80 342.52 L434.30 340.99 L434.80 342.79 L435.30 341.24 L435.80 337.34 L436.30 340.36 L436.80 342.68 L437.30 342.58 L437.80 340.47 L438.30 342.32 L438.80 340.59 L439.30 341.01 L439.80 341.16 L440.30 340.97 L440.80 342.43 L441.30 341.11 L441.80 342.19 L442.30 339.56 L442.80 338.98 L443.30 341.46 L443.80 339.50 L444.30 340.37 L444.80 340.62 L445.30 342.78 L445.80 342.80 L446.30 342.58 L446.80 338.73 L447.30 339.90 L447.80 342.21 L448.30 342.75 L448.80 342.52 L449.30 340.20 L449.80 341.00 L450.30 340.08 L450.80 342.79 L451.30 342.75 L451.80 342.68 L452.30 341.54 L452.80 342.31 L453.30 337.57 L453.80 338.45 L454.30 342.67 L454.80 342.25 L455.30 340.55 L455.80 341.70 L456.30 342.12 L456.80 341.25 L457.30 342.27 L457.80 338.71 L458.30 341.40 L458.80 341.11 L459.30 342.38 L459.80 342.80 L460.30 342.40 L460.80 342.50 L460.90 343.60 Z" fill="#2b2d8c" opacity="0.95"/>
<line x1="411.30" y1="343.30" x2="460.90" y2="343.30" stroke="#2b2d8c" stroke-width="0.7" />
<path d="M411.30 361.60 L411.30 360.00 L411.80 360.80 L412.30 360.78 L412.80 360.46 L413.30 360.11 L413.80 359.98 L414.30 360.47 L414.80 360.32 L415.30 359.31 L415.80 360.17 L416.30 360.19 L416.80 359.69 L417.30 359.24 L417.80 359.36 L418.30 359.32 L418.80 358.96 L419.30 359.46 L419.80 359.84 L420.30 359.76 L420.80 359.83 L421.30 360.32 L421.80 359.95 L422.30 359.75 L422.80 358.78 L423.30 358.98 L423.80 358.56 L424.30 357.93 L424.80 357.39 L425.30 357.46 L425.80 357.21 L426.30 356.79 L426.80 354.15 L427.30 355.28 L427.80 354.58 L428.30 352.98 L428.80 356.35 L429.30 358.69 L429.80 359.40 L430.30 360.20 L430.80 360.43 L431.30 359.99 L431.80 360.51 L432.30 360.54 L432.80 360.49 L433.30 360.32 L433.80 360.35 L434.30 360.71 L434.80 360.23 L435.30 359.53 L435.80 360.48 L436.30 360.78 L436.80 360.66 L437.30 360.80 L437.80 360.71 L438.30 360.77 L438.80 360.16 L439.30 360.75 L439.80 360.63 L440.30 360.72 L440.80 360.06 L441.30 360.80 L441.80 359.98 L442.30 360.62 L442.80 360.33 L443.30 360.64 L443.80 360.77 L444.30 360.80 L444.80 360.78 L445.30 359.96 L445.80 360.02 L446.30 360.80 L446.80 360.80 L447.30 359.95 L447.80 360.76 L448.30 360.79 L448.80 360.16 L449.30 360.80 L449.80 360.47 L450.30 360.26 L450.80 360.56 L451.30 360.19 L451.80 360.78 L452.30 360.78 L452.80 360.60 L453.30 360.24 L453.80 360.78 L454.30 360.15 L454.80 360.69 L455.30 360.78 L455.80 360.80 L456.30 360.76 L456.80 359.98 L457.30 360.56 L457.80 360.52 L458.30 359.36 L458.80 360.42 L459.30 360.22 L459.80 360.80 L460.30 360.60 L460.80 360.09 L460.90 361.60 Z" fill="#2b2d8c" opacity="0.95"/>
<line x1="411.30" y1="361.30" x2="460.90" y2="361.30" stroke="#2b2d8c" stroke-width="0.7" />
<path d="M411.30 379.80 L411.30 377.33 L411.80 377.46 L412.30 378.38 L412.80 378.51 L413.30 378.95 L413.80 378.93 L414.30 379.00 L414.80 378.07 L415.30 378.54 L415.80 377.03 L416.30 378.37 L416.80 378.27 L417.30 378.69 L417.80 378.55 L418.30 377.72 L418.80 378.10 L419.30 376.59 L419.80 376.57 L420.30 376.30 L420.80 375.86 L421.30 376.01 L421.80 375.81 L422.30 376.45 L422.80 377.48 L423.30 378.04 L423.80 377.32 L424.30 378.36 L424.80 376.86 L425.30 375.28 L425.80 372.23 L426.30 370.34 L426.80 370.52 L427.30 369.23 L427.80 367.94 L428.30 364.73 L428.80 368.71 L429.30 373.76 L429.80 372.21 L430.30 369.06 L430.80 374.94 L431.30 377.71 L431.80 376.32 L432.30 377.14 L432.80 376.08 L433.30 376.13 L433.80 377.30 L434.30 376.65 L434.80 378.55 L435.30 377.68 L435.80 378.12 L436.30 378.11 L436.80 378.26 L437.30 378.86 L437.80 377.88 L438.30 378.47 L438.80 378.99 L439.30 378.82 L439.80 377.67 L440.30 377.23 L440.80 378.44 L441.30 378.92 L441.80 378.62 L442.30 377.19 L442.80 377.84 L443.30 377.55 L443.80 378.15 L444.30 378.66 L444.80 378.99 L445.30 378.61 L445.80 378.49 L446.30 378.52 L446.80 377.43 L447.30 377.52 L447.80 378.57 L448.30 378.17 L448.80 378.87 L449.30 378.80 L449.80 377.19 L450.30 378.75 L450.80 377.73 L451.30 378.46 L451.80 378.88 L452.30 378.93 L452.80 377.61 L453.30 378.98 L453.80 378.98 L454.30 378.67 L454.80 378.90 L455.30 378.91 L455.80 376.46 L456.30 378.88 L456.80 378.97 L457.30 378.99 L457.80 378.74 L458.30 378.87 L458.80 377.37 L459.30 378.96 L459.80 377.38 L460.30 379.00 L460.80 378.97 L460.90 379.80 Z" fill="#3f9a3c" opacity="0.95"/>
<line x1="411.30" y1="379.50" x2="460.90" y2="379.50" stroke="#3f9a3c" stroke-width="0.7" />
<text x="447.30" y="304.50" font-size="8.3" fill="#111" stroke="#111" stroke-width="0.2" textLength="14.50" lengthAdjust="spacingAndGlyphs" >2 kb</text>
<line x1="448.50" y1="306.40" x2="460.00" y2="306.40" stroke="#111" stroke-width="1.1" />
<rect x="411.00" y="382.20" width="50.20" height="1.80" fill="#bdbdbd" />
<line x1="412.00" y1="386.70" x2="460.20" y2="386.70" stroke="#5a5fa8" stroke-width="0.6" />
<text x="430.00" y="398.20" font-size="8.3" fill="#222" stroke="#222" stroke-width="0.2" font-style="italic" textLength="24.20" lengthAdjust="spacingAndGlyphs" >&gt;FZD2</text>
<rect x="462.80" y="307.00" width="50.20" height="74.50" fill="#f6f6f8" />
<rect x="500.90" y="307.00" width="6.40" height="74.50" fill="#f9e9d9" />
<rect x="462.80" y="326.15" width="50.20" height="0.90" fill="#ffffff" />
<rect x="462.80" y="343.95" width="50.20" height="0.90" fill="#ffffff" />
<rect x="462.80" y="361.95" width="50.20" height="0.90" fill="#ffffff" />
<path d="M463.10 325.80 L463.10 324.55 L463.60 325.00 L464.10 324.94 L464.60 324.77 L465.10 323.28 L465.60 323.27 L466.10 324.92 L466.60 324.97 L467.10 324.43 L467.60 323.35 L468.10 324.54 L468.60 323.90 L469.10 321.45 L469.60 324.18 L470.10 324.34 L470.60 324.90 L471.10 319.90 L471.60 311.00 L472.10 323.57 L472.60 324.85 L473.10 324.75 L473.60 324.87 L474.10 324.96 L474.60 324.59 L475.10 323.43 L475.60 324.67 L476.10 317.99 L476.60 320.65 L477.10 324.79 L477.60 324.21 L478.10 324.23 L478.60 324.60 L479.10 324.91 L479.60 323.70 L480.10 321.28 L480.60 324.28 L481.10 324.37 L481.60 323.93 L482.10 324.21 L482.60 324.59 L483.10 323.40 L483.60 324.86 L484.10 324.98 L484.60 325.00 L485.10 324.91 L485.60 323.96 L486.10 325.00 L486.60 325.00 L487.10 324.61 L487.60 323.99 L488.10 322.63 L488.60 324.52 L489.10 323.55 L489.60 324.95 L490.10 324.66 L490.60 324.73 L491.10 324.79 L491.60 324.04 L492.10 324.40 L492.60 324.83 L493.10 324.70 L493.60 324.64 L494.10 324.47 L494.60 324.19 L495.10 323.11 L495.60 323.88 L496.10 324.98 L496.60 323.21 L497.10 324.50 L497.60 323.99 L498.10 324.59 L498.60 324.43 L499.10 324.93 L499.60 324.43 L500.10 324.71 L500.60 324.94 L501.10 324.98 L501.60 324.75 L502.10 324.15 L502.60 324.88 L503.10 323.81 L503.60 323.60 L504.10 312.27 L504.60 314.74 L505.10 322.82 L505.60 324.99 L506.10 324.69 L506.60 324.45 L507.10 324.65 L507.60 325.00 L508.10 324.82 L508.60 324.86 L509.10 324.63 L509.60 324.26 L510.10 323.08 L510.60 324.79 L511.10 324.37 L511.60 324.44 L512.10 324.82 L512.60 323.09 L512.70 325.80 Z" fill="#2b2d8c" opacity="0.95"/>
<line x1="463.10" y1="325.50" x2="512.70" y2="325.50" stroke="#2b2d8c" stroke-width="0.7" />
<path d="M463.10 343.60 L463.10 342.80 L463.60 342.52 L464.10 342.77 L464.60 342.71 L465.10 342.77 L465.60 341.91 L466.10 342.24 L466.60 342.49 L467.10 340.32 L467.60 340.92 L468.10 339.73 L468.60 340.10 L469.10 342.70 L469.60 342.22 L470.10 341.31 L470.60 342.64 L471.10 333.48 L471.60 327.57 L472.10 341.19 L472.60 341.69 L473.10 341.97 L473.60 342.80 L474.10 342.60 L474.60 341.96 L475.10 340.76 L475.60 339.79 L476.10 337.52 L476.60 337.84 L477.10 341.41 L477.60 342.73 L478.10 341.92 L478.60 340.68 L479.10 337.17 L479.60 339.69 L480.10 342.38 L480.60 342.43 L481.10 342.18 L481.60 342.79 L482.10 342.78 L482.60 342.60 L483.10 341.25 L483.60 342.32 L484.10 342.55 L484.60 340.47 L485.10 339.92 L485.60 342.06 L486.10 341.79 L486.60 341.57 L487.10 341.58 L487.60 341.65 L488.10 342.66 L488.60 342.80 L489.10 339.67 L489.60 342.73 L490.10 341.38 L490.60 342.75 L491.10 341.69 L491.60 339.64 L492.10 339.39 L492.60 341.69 L493.10 342.36 L493.60 342.78 L494.10 341.65 L494.60 341.83 L495.10 342.76 L495.60 342.78 L496.10 342.77 L496.60 342.64 L497.10 341.76 L497.60 342.70 L498.10 341.68 L498.60 342.80 L499.10 341.07 L499.60 342.73 L500.10 342.56 L500.60 341.39 L501.10 342.74 L501.60 342.59 L502.10 342.56 L502.60 342.79 L503.10 342.01 L503.60 341.39 L504.10 334.05 L504.60 336.07 L505.10 342.20 L505.60 341.85 L506.10 341.61 L506.60 341.00 L507.10 342.50 L507.60 342.71 L508.10 341.28 L508.60 342.62 L509.10 342.05 L509.60 341.23 L510.10 338.47 L510.60 341.69 L511.10 342.61 L511.60 341.87 L512.10 342.72 L512.60 341.36 L512.70 343.60 Z" fill="#2b2d8c" opacity="0.95"/>
<line x1="463.10" y1="343.30" x2="512.70" y2="343.30" stroke="#2b2d8c" stroke-width="0.7" />
<path d="M463.10 361.60 L463.10 360.80 L463.60 360.74 L464.10 360.64 L464.60 360.80 L465.10 360.27 L465.60 360.12 L466.10 360.05 L466.60 360.15 L467.10 360.27 L467.60 360.11 L468.10 360.80 L468.60 360.07 L469.10 360.74 L469.60 360.80 L470.10 360.79 L470.60 360.15 L471.10 360.31 L471.60 360.58 L472.10 360.37 L472.60 360.77 L473.10 360.77 L473.60 360.05 L474.10 360.80 L474.60 360.31 L475.10 360.45 L475.60 360.80 L476.10 360.80 L476.60 360.71 L477.10 359.97 L477.60 360.46 L478.10 360.64 L478.60 360.24 L479.10 360.61 L479.60 360.77 L480.10 360.42 L480.60 360.26 L481.10 360.55 L481.60 360.51 L482.10 360.74 L482.60 360.11 L483.10 360.08 L483.60 360.74 L484.10 360.16 L484.60 360.80 L485.10 360.79 L485.60 360.80 L486.10 360.06 L486.60 360.35 L487.10 360.64 L487.60 360.71 L488.10 360.80 L488.60 360.01 L489.10 360.42 L489.60 360.37 L490.10 360.79 L490.60 360.11 L491.10 360.77 L491.60 360.67 L492.10 360.80 L492.60 360.76 L493.10 360.79 L493.60 360.21 L494.10 360.08 L494.60 360.39 L495.10 360.56 L495.60 360.63 L496.10 360.78 L496.60 360.07 L497.10 360.74 L497.60 360.63 L498.10 360.06 L498.60 360.27 L499.10 360.39 L499.60 360.80 L500.10 360.16 L500.60 360.65 L501.10 360.62 L501.60 360.75 L502.10 360.67 L502.60 359.60 L503.10 357.34 L503.60 357.32 L504.10 352.64 L504.60 354.47 L505.10 360.20 L505.60 360.61 L506.10 360.67 L506.60 360.16 L507.10 360.04 L507.60 360.80 L508.10 360.79 L508.60 360.69 L509.10 360.11 L509.60 360.54 L510.10 360.80 L510.60 360.74 L511.10 360.64 L511.60 360.80 L512.10 360.64 L512.60 360.25 L512.70 361.60 Z" fill="#2b2d8c" opacity="0.95"/>
<line x1="463.10" y1="361.30" x2="512.70" y2="361.30" stroke="#2b2d8c" stroke-width="0.7" />
<path d="M463.10 379.80 L463.10 378.62 L463.60 378.15 L464.10 378.49 L464.60 377.93 L465.10 378.49 L465.60 378.71 L466.10 378.68 L466.60 377.84 L467.10 378.91 L467.60 377.81 L468.10 378.33 L468.60 378.08 L469.10 378.64 L469.60 377.52 L470.10 378.92 L470.60 377.96 L471.10 378.99 L471.60 378.94 L472.10 379.00 L472.60 378.90 L473.10 378.97 L473.60 379.00 L474.10 378.30 L474.60 378.99 L475.10 378.99 L475.60 379.00 L476.10 378.96 L476.60 378.48 L477.10 378.75 L477.60 378.66 L478.10 378.90 L478.60 378.74 L479.10 378.23 L479.60 377.21 L480.10 378.78 L480.60 377.98 L481.10 378.98 L481.60 378.42 L482.10 378.57 L482.60 378.76 L483.10 378.70 L483.60 378.01 L484.10 378.14 L484.60 378.19 L485.10 378.99 L485.60 378.38 L486.10 378.92 L486.60 378.28 L487.10 378.12 L487.60 378.17 L488.10 378.03 L488.60 378.59 L489.10 378.08 L489.60 378.36 L490.10 378.99 L490.60 378.60 L491.10 378.96 L491.60 377.82 L492.10 377.88 L492.60 378.61 L493.10 377.03 L493.60 378.81 L494.10 378.16 L494.60 377.83 L495.10 378.21 L495.60 378.99 L496.10 378.19 L496.60 378.04 L497.10 378.29 L497.60 377.71 L498.10 378.54 L498.60 378.99 L499.10 378.88 L499.60 378.77 L500.10 378.99 L500.60 378.99 L501.10 378.81 L501.60 378.19 L502.10 378.59 L502.60 376.99 L503.10 373.97 L503.60 373.62 L504.10 364.13 L504.60 368.35 L505.10 377.19 L505.60 378.98 L506.10 377.74 L506.60 378.99 L507.10 378.50 L507.60 378.88 L508.10 379.00 L508.60 378.20 L509.10 378.22 L509.60 378.01 L510.10 378.53 L510.60 378.96 L511.10 378.79 L511.60 378.92 L512.10 377.93 L512.60 378.95 L512.70 379.80 Z" fill="#3f9a3c" opacity="0.95"/>
<line x1="463.10" y1="379.50" x2="512.70" y2="379.50" stroke="#3f9a3c" stroke-width="0.7" />
<text x="498.80" y="304.50" font-size="8.3" fill="#111" stroke="#111" stroke-width="0.2" textLength="14.70" lengthAdjust="spacingAndGlyphs" >5 kb</text>
<line x1="500.00" y1="306.40" x2="511.50" y2="306.40" stroke="#111" stroke-width="1.1" />
<rect x="462.80" y="382.20" width="50.20" height="1.80" fill="#bdbdbd" />
<line x1="463.80" y1="386.70" x2="512.00" y2="386.70" stroke="#5a5fa8" stroke-width="0.6" />
<text x="472.70" y="398.20" font-size="8.3" fill="#222" stroke="#222" stroke-width="0.2" font-style="italic" textLength="32.30" lengthAdjust="spacingAndGlyphs" >&lt;HDAC5</text>
<rect x="309.50" y="385.60" width="1.20" height="2.20" fill="#2b2d8c" />
<rect x="311.50" y="385.30" width="1.40" height="2.80" fill="#2b2d8c" />
<rect x="324.50" y="385.80" width="2.00" height="1.80" fill="#6a6fb8" />
<rect x="327.50" y="385.80" width="2.00" height="1.80" fill="#6a6fb8" />
<rect x="345.50" y="385.20" width="3.50" height="3.00" fill="#2b2d8c" />
<rect x="349.50" y="385.90" width="3.50" height="1.60" fill="#2b2d8c" />
<rect x="353.50" y="385.20" width="3.80" height="3.00" fill="#2b2d8c" />
<rect x="378.50" y="386.00" width="1.20" height="1.40" fill="#6a6fb8" />
<path d="M432.3 386.7 L435 385.4 L452 385.4 L453.5 386.7 L452 388 L435 388 Z" fill="#2b2d8c" />
<rect x="470.00" y="386.00" width="0.80" height="1.40" fill="#6a6fb8" />
<rect x="478.00" y="386.00" width="0.80" height="1.40" fill="#6a6fb8" />
<rect x="486.00" y="386.00" width="0.80" height="1.40" fill="#6a6fb8" />
<rect x="494.00" y="386.00" width="0.80" height="1.40" fill="#6a6fb8" />
<rect x="502.00" y="386.00" width="0.80" height="1.40" fill="#6a6fb8" />
<text x="6.30" y="418.00" font-size="11.2" fill="#000" stroke="#000" stroke-width="0.35" font-weight="bold" >G</text>
<text x="19.20" y="425.20" font-size="7.6" fill="#222" stroke="#222" stroke-width="0.2" textLength="15.60" lengthAdjust="spacingAndGlyphs" >chr6</text>
<rect x="36.20" y="417.90" width="21.50" height="8.70" fill="#6a6a6a" />
<rect x="57.70" y="417.90" width="6.90" height="8.70" fill="#fff" />
<rect x="64.60" y="417.90" width="10.40" height="8.70" fill="#9c9c9c" />
<rect x="75.00" y="417.90" width="5.80" height="8.70" fill="#fff" />
<rect x="80.80" y="417.90" width="4.40" height="8.70" fill="#dcdcdc" />
<rect x="85.20" y="417.90" width="10.60" height="8.70" fill="#fff" />
<rect x="95.80" y="417.90" width="12.50" height="8.70" fill="#dcdcdc" />
<rect x="108.30" y="417.90" width="19.70" height="8.70" fill="#fff" />
<rect x="128.00" y="417.90" width="17.20" height="8.70" fill="#000" />
<rect x="145.20" y="417.90" width="4.30" height="8.70" fill="#fff" />
<rect x="149.50" y="417.90" width="13.90" height="8.70" fill="#000" />
<rect x="163.40" y="417.90" width="4.30" height="8.70" fill="#fff" />
<rect x="181.20" y="417.90" width="20.80" height="8.70" fill="#000" />
<rect x="202.00" y="417.90" width="20.70" height="8.70" fill="#fff" />
<rect x="222.70" y="417.90" width="2.50" height="8.70" fill="#aaa" />
<path d="M36.2 417.9 L167.7 417.9 M181.2 417.9 L225.2 417.9 L225.2 426.6 L181.2 426.6 M167.7 426.6 L36.2 426.6 Z" fill="none" stroke="#222" stroke-width="0.8" />
<line x1="36.20" y1="417.90" x2="36.20" y2="426.60" stroke="#222" stroke-width="0.8" />
<path d="M167.7 417.9 L174.5 422.25 L167.7 426.6 Z M181.2 417.9 L174.5 422.25 L181.2 426.6 Z" fill="#1f5c99" />
<path d="M35.4 442.3 L35.4 439.6 L75.6 428.6 L75.6 426.6 M80.4 426.6 L80.4 428.6 L225.6 438.6 L225.6 442.3" fill="none" stroke="#222" stroke-width="0.8" />
<text x="66.00" y="437.70" font-size="7.6" fill="#222" stroke="#222" stroke-width="0.2" textLength="24.60" lengthAdjust="spacingAndGlyphs" >p21.33</text>
<defs><linearGradient id="cs" x1="0" y1="0" x2="0" y2="1"><stop offset="0" stop-color="#4ec65c"/><stop offset="0.1" stop-color="#46b655"/><stop offset="0.45" stop-color="#1f6a30"/><stop offset="0.72" stop-color="#0a1a0d"/><stop offset="0.76" stop-color="#0a0606"/><stop offset="1" stop-color="#c9473c"/></linearGradient></defs>
<rect x="19.60" y="442.20" width="9.70" height="56.40" fill="url(#cs)" stroke="#333" stroke-width="0.7" />
<line x1="19.60" y1="443.40" x2="21.00" y2="443.40" stroke="#555" stroke-width="0.6" />
<line x1="27.90" y1="443.40" x2="29.30" y2="443.40" stroke="#555" stroke-width="0.6" />
<line x1="19.60" y1="457.60" x2="21.00" y2="457.60" stroke="#555" stroke-width="0.6" />
<line x1="27.90" y1="457.60" x2="29.30" y2="457.60" stroke="#555" stroke-width="0.6" />
<line x1="19.60" y1="471.40" x2="21.00" y2="471.40" stroke="#555" stroke-width="0.6" />
<line x1="27.90" y1="471.40" x2="29.30" y2="471.40" stroke="#555" stroke-width="0.6" />
<line x1="19.60" y1="483.20" x2="21.00" y2="483.20" stroke="#555" stroke-width="0.6" />
<line x1="27.90" y1="483.20" x2="29.30" y2="483.20" stroke="#555" stroke-width="0.6" />
<line x1="19.60" y1="497.90" x2="21.00" y2="497.90" stroke="#555" stroke-width="0.6" />
<line x1="27.90" y1="497.90" x2="29.30" y2="497.90" stroke="#555" stroke-width="0.6" />
<text x="11.20" y="436.50" font-size="7.6" fill="#333" stroke="#333" stroke-width="0.2" textLength="11.80" lengthAdjust="spacingAndGlyphs" transform="rotate(90 11.20 436.50)" >-1.5</text>
<text x="11.20" y="450.70" font-size="7.6" fill="#333" stroke="#333" stroke-width="0.2" textLength="10.30" lengthAdjust="spacingAndGlyphs" transform="rotate(90 11.20 450.70)" >-1.0</text>
<text x="11.20" y="464.50" font-size="7.6" fill="#333" stroke="#333" stroke-width="0.2" textLength="10.80" lengthAdjust="spacingAndGlyphs" transform="rotate(90 11.20 464.50)" >-0.5</text>
<text x="11.20" y="481.20" font-size="7.6" fill="#333" stroke="#333" stroke-width="0.2" textLength="3.10" lengthAdjust="spacingAndGlyphs" transform="rotate(90 11.20 481.20)" >0</text>
<text x="11.20" y="493.00" font-size="7.6" fill="#333" stroke="#333" stroke-width="0.2" textLength="8.80" lengthAdjust="spacingAndGlyphs" transform="rotate(90 11.20 493.00)" >0.5</text>
<rect x="35.60" y="441.90" width="190.70" height="56.50" fill="#070707" />
<rect x="35.60" y="441.90" width="1.41" height="8.12" fill="rgb(18,16,10)"/>
<rect x="36.96" y="441.90" width="1.41" height="8.12" fill="rgb(19,17,10)"/>
<rect x="36.96" y="458.04" width="1.41" height="8.12" fill="rgb(40,10,10)"/>
<rect x="36.96" y="466.11" width="1.41" height="8.12" fill="rgb(10,35,18)"/>
<rect x="36.96" y="474.19" width="1.41" height="8.12" fill="rgb(47,11,11)"/>
<rect x="36.96" y="482.26" width="1.41" height="8.12" fill="rgb(71,16,14)"/>
<rect x="36.96" y="490.33" width="1.41" height="8.12" fill="rgb(17,15,9)"/>
<rect x="38.32" y="458.04" width="1.41" height="8.12" fill="rgb(19,17,10)"/>
<rect x="38.32" y="466.11" width="1.41" height="8.12" fill="rgb(17,15,9)"/>
<rect x="38.32" y="490.33" width="1.41" height="8.12" fill="rgb(24,105,44)"/>
<rect x="39.69" y="449.97" width="1.41" height="8.12" fill="rgb(17,15,9)"/>
<rect x="39.69" y="458.04" width="1.41" height="8.12" fill="rgb(45,11,10)"/>
<rect x="39.69" y="482.26" width="1.41" height="8.12" fill="rgb(19,82,35)"/>
<rect x="41.05" y="441.90" width="1.41" height="8.12" fill="rgb(34,118,53)"/>
<rect x="41.05" y="449.97" width="1.41" height="8.12" fill="rgb(35,130,57)"/>
<rect x="41.05" y="458.04" width="1.41" height="8.12" fill="rgb(35,126,56)"/>
<rect x="41.05" y="466.11" width="1.41" height="8.12" fill="rgb(34,114,52)"/>
<rect x="41.05" y="474.19" width="1.41" height="8.12" fill="rgb(34,117,53)"/>
<rect x="41.05" y="482.26" width="1.41" height="8.12" fill="rgb(34,114,52)"/>
<rect x="41.05" y="490.33" width="1.41" height="8.12" fill="rgb(33,113,52)"/>
<rect x="42.41" y="441.90" width="1.41" height="8.12" fill="rgb(38,150,63)"/>
<rect x="42.41" y="449.97" width="1.41" height="8.12" fill="rgb(39,160,66)"/>
<rect x="42.41" y="458.04" width="1.41" height="8.12" fill="rgb(39,157,65)"/>
<rect x="42.41" y="466.11" width="1.41" height="8.12" fill="rgb(38,150,63)"/>
<rect x="42.41" y="474.19" width="1.41" height="8.12" fill="rgb(40,164,67)"/>
<rect x="42.41" y="482.26" width="1.41" height="8.12" fill="rgb(38,149,63)"/>
<rect x="42.41" y="490.33" width="1.41" height="8.12" fill="rgb(39,162,67)"/>
<rect x="43.77" y="441.90" width="1.41" height="8.12" fill="rgb(37,142,60)"/>
<rect x="43.77" y="449.97" width="1.41" height="8.12" fill="rgb(36,137,59)"/>
<rect x="43.77" y="458.04" width="1.41" height="8.12" fill="rgb(36,138,59)"/>
<rect x="43.77" y="466.11" width="1.41" height="8.12" fill="rgb(38,154,64)"/>
<rect x="43.77" y="474.19" width="1.41" height="8.12" fill="rgb(38,150,63)"/>
<rect x="43.77" y="482.26" width="1.41" height="8.12" fill="rgb(37,139,60)"/>
<rect x="43.77" y="490.33" width="1.41" height="8.12" fill="rgb(38,152,64)"/>
<rect x="45.14" y="441.90" width="1.41" height="8.12" fill="rgb(17,15,9)"/>
<rect x="45.14" y="466.11" width="1.41" height="8.12" fill="rgb(136,29,24)"/>
<rect x="45.14" y="474.19" width="1.41" height="8.12" fill="rgb(12,45,21)"/>
<rect x="45.14" y="482.26" width="1.41" height="8.12" fill="rgb(40,10,10)"/>
<rect x="46.50" y="458.04" width="1.41" height="8.12" fill="rgb(17,16,10)"/>
<rect x="46.50" y="466.11" width="1.41" height="8.12" fill="rgb(10,37,19)"/>
<rect x="46.50" y="474.19" width="1.41" height="8.12" fill="rgb(17,15,9)"/>
<rect x="46.50" y="490.33" width="1.41" height="8.12" fill="rgb(19,17,10)"/>
<rect x="47.86" y="441.90" width="1.41" height="8.12" fill="rgb(18,16,10)"/>
<rect x="47.86" y="458.04" width="1.41" height="8.12" fill="rgb(40,10,10)"/>
<rect x="47.86" y="490.33" width="1.41" height="8.12" fill="rgb(10,38,19)"/>
<rect x="49.22" y="441.90" width="1.41" height="8.12" fill="rgb(11,41,20)"/>
<rect x="49.22" y="449.97" width="1.41" height="8.12" fill="rgb(17,15,9)"/>
<rect x="49.22" y="474.19" width="1.41" height="8.12" fill="rgb(49,11,11)"/>
<rect x="50.58" y="449.97" width="1.41" height="8.12" fill="rgb(19,17,10)"/>
<rect x="50.58" y="474.19" width="1.41" height="8.12" fill="rgb(40,10,10)"/>
<rect x="51.95" y="449.97" width="1.41" height="8.12" fill="rgb(19,17,10)"/>
<rect x="51.95" y="458.04" width="1.41" height="8.12" fill="rgb(17,70,31)"/>
<rect x="51.95" y="466.11" width="1.41" height="8.12" fill="rgb(18,16,10)"/>
<rect x="51.95" y="482.26" width="1.41" height="8.12" fill="rgb(18,16,10)"/>
<rect x="53.31" y="449.97" width="1.41" height="8.12" fill="rgb(17,16,10)"/>
<rect x="53.31" y="466.11" width="1.41" height="8.12" fill="rgb(18,75,33)"/>
<rect x="53.31" y="482.26" width="1.41" height="8.12" fill="rgb(19,17,10)"/>
<rect x="54.67" y="449.97" width="1.41" height="8.12" fill="rgb(17,15,9)"/>
<rect x="54.67" y="458.04" width="1.41" height="8.12" fill="rgb(24,102,43)"/>
<rect x="54.67" y="466.11" width="1.41" height="8.12" fill="rgb(95,21,18)"/>
<rect x="54.67" y="490.33" width="1.41" height="8.12" fill="rgb(18,16,10)"/>
<rect x="56.03" y="441.90" width="1.41" height="8.12" fill="rgb(52,12,11)"/>
<rect x="56.03" y="458.04" width="1.41" height="8.12" fill="rgb(30,133,54)"/>
<rect x="56.03" y="466.11" width="1.41" height="8.12" fill="rgb(14,58,26)"/>
<rect x="56.03" y="490.33" width="1.41" height="8.12" fill="rgb(16,15,9)"/>
<rect x="57.39" y="466.11" width="1.41" height="8.12" fill="rgb(17,15,9)"/>
<rect x="57.39" y="474.19" width="1.41" height="8.12" fill="rgb(19,17,10)"/>
<rect x="58.76" y="458.04" width="1.41" height="8.12" fill="rgb(19,17,10)"/>
<rect x="58.76" y="466.11" width="1.41" height="8.12" fill="rgb(10,35,18)"/>
<rect x="58.76" y="474.19" width="1.41" height="8.12" fill="rgb(166,35,28)"/>
<rect x="58.76" y="482.26" width="1.41" height="8.12" fill="rgb(119,26,21)"/>
<rect x="60.12" y="441.90" width="1.41" height="8.12" fill="rgb(42,10,10)"/>
<rect x="60.12" y="466.11" width="1.41" height="8.12" fill="rgb(10,35,18)"/>
<rect x="60.12" y="490.33" width="1.41" height="8.12" fill="rgb(19,17,10)"/>
<rect x="61.48" y="466.11" width="1.41" height="8.12" fill="rgb(11,43,21)"/>
<rect x="62.84" y="466.11" width="1.41" height="8.12" fill="rgb(18,16,10)"/>
<rect x="62.84" y="482.26" width="1.41" height="8.12" fill="rgb(16,15,9)"/>
<rect x="64.21" y="466.11" width="1.41" height="8.12" fill="rgb(19,17,10)"/>
<rect x="64.21" y="490.33" width="1.41" height="8.12" fill="rgb(17,15,9)"/>
<rect x="65.57" y="441.90" width="1.41" height="8.12" fill="rgb(14,58,26)"/>
<rect x="65.57" y="482.26" width="1.41" height="8.12" fill="rgb(25,109,45)"/>
<rect x="65.57" y="490.33" width="1.41" height="8.12" fill="rgb(10,37,18)"/>
<rect x="66.93" y="441.90" width="1.41" height="8.12" fill="rgb(42,188,74)"/>
<rect x="66.93" y="449.97" width="1.41" height="8.12" fill="rgb(43,191,75)"/>
<rect x="66.93" y="458.04" width="1.41" height="8.12" fill="rgb(42,187,74)"/>
<rect x="66.93" y="466.11" width="1.41" height="8.12" fill="rgb(43,195,76)"/>
<rect x="66.93" y="474.19" width="1.41" height="8.12" fill="rgb(42,180,72)"/>
<rect x="66.93" y="482.26" width="1.41" height="8.12" fill="rgb(43,195,77)"/>
<rect x="66.93" y="490.33" width="1.41" height="8.12" fill="rgb(40,168,68)"/>
<rect x="68.29" y="458.04" width="1.41" height="8.12" fill="rgb(17,15,9)"/>
<rect x="68.29" y="466.11" width="1.41" height="8.12" fill="rgb(12,46,22)"/>
<rect x="68.29" y="474.19" width="1.41" height="8.12" fill="rgb(17,15,9)"/>
<rect x="68.29" y="490.33" width="1.41" height="8.12" fill="rgb(19,17,10)"/>
<rect x="69.65" y="474.19" width="1.41" height="8.12" fill="rgb(16,15,9)"/>
<rect x="71.02" y="441.90" width="1.41" height="8.12" fill="rgb(19,17,10)"/>
<rect x="71.02" y="466.11" width="1.41" height="8.12" fill="rgb(26,114,47)"/>
<rect x="71.02" y="490.33" width="1.41" height="8.12" fill="rgb(18,16,10)"/>
<rect x="72.38" y="449.97" width="1.41" height="8.12" fill="rgb(46,11,10)"/>
<rect x="72.38" y="466.11" width="1.41" height="8.12" fill="rgb(19,81,35)"/>
<rect x="72.38" y="474.19" width="1.41" height="8.12" fill="rgb(125,27,22)"/>
<rect x="72.38" y="482.26" width="1.41" height="8.12" fill="rgb(78,17,15)"/>
<rect x="72.38" y="490.33" width="1.41" height="8.12" fill="rgb(44,10,10)"/>
<rect x="73.74" y="474.19" width="1.41" height="8.12" fill="rgb(17,15,9)"/>
<rect x="73.74" y="482.26" width="1.41" height="8.12" fill="rgb(17,15,9)"/>
<rect x="75.10" y="449.97" width="1.41" height="8.12" fill="rgb(18,16,10)"/>
<rect x="75.10" y="458.04" width="1.41" height="8.12" fill="rgb(19,17,10)"/>
<rect x="76.46" y="466.11" width="1.41" height="8.12" fill="rgb(19,17,10)"/>
<rect x="76.46" y="474.19" width="1.41" height="8.12" fill="rgb(16,65,29)"/>
<rect x="77.83" y="441.90" width="1.41" height="8.12" fill="rgb(40,10,10)"/>
<rect x="77.83" y="466.11" width="1.41" height="8.12" fill="rgb(45,11,10)"/>
<rect x="77.83" y="474.19" width="1.41" height="8.12" fill="rgb(19,17,10)"/>
<rect x="77.83" y="490.33" width="1.41" height="8.12" fill="rgb(192,41,32)"/>
<rect x="79.19" y="466.11" width="1.41" height="8.12" fill="rgb(117,26,21)"/>
<rect x="80.55" y="441.90" width="1.41" height="8.12" fill="rgb(33,107,50)"/>
<rect x="80.55" y="449.97" width="1.41" height="8.12" fill="rgb(32,99,48)"/>
<rect x="80.55" y="458.04" width="1.41" height="8.12" fill="rgb(33,112,52)"/>
<rect x="80.55" y="466.11" width="1.41" height="8.12" fill="rgb(33,111,51)"/>
<rect x="80.55" y="474.19" width="1.41" height="8.12" fill="rgb(33,109,51)"/>
<rect x="80.55" y="482.26" width="1.41" height="8.12" fill="rgb(33,112,51)"/>
<rect x="80.55" y="490.33" width="1.41" height="8.12" fill="rgb(33,108,50)"/>
<rect x="81.91" y="449.97" width="1.41" height="8.12" fill="rgb(16,15,9)"/>
<rect x="81.91" y="458.04" width="1.41" height="8.12" fill="rgb(30,134,55)"/>
<rect x="81.91" y="482.26" width="1.41" height="8.12" fill="rgb(18,16,10)"/>
<rect x="83.28" y="449.97" width="1.41" height="8.12" fill="rgb(12,49,23)"/>
<rect x="83.28" y="466.11" width="1.41" height="8.12" fill="rgb(20,83,36)"/>
<rect x="84.64" y="490.33" width="1.41" height="8.12" fill="rgb(10,39,19)"/>
<rect x="86.00" y="441.90" width="1.41" height="8.12" fill="rgb(11,42,20)"/>
<rect x="86.00" y="458.04" width="1.41" height="8.12" fill="rgb(19,17,10)"/>
<rect x="86.00" y="466.11" width="1.41" height="8.12" fill="rgb(34,153,62)"/>
<rect x="86.00" y="474.19" width="1.41" height="8.12" fill="rgb(16,15,9)"/>
<rect x="86.00" y="482.26" width="1.41" height="8.12" fill="rgb(18,77,34)"/>
<rect x="87.36" y="441.90" width="1.41" height="8.12" fill="rgb(40,170,69)"/>
<rect x="87.36" y="449.97" width="1.41" height="8.12" fill="rgb(41,180,72)"/>
<rect x="87.36" y="458.04" width="1.41" height="8.12" fill="rgb(40,170,69)"/>
<rect x="87.36" y="466.11" width="1.41" height="8.12" fill="rgb(42,180,72)"/>
<rect x="87.36" y="474.19" width="1.41" height="8.12" fill="rgb(42,184,73)"/>
<rect x="87.36" y="482.26" width="1.41" height="8.12" fill="rgb(40,167,68)"/>
<rect x="87.36" y="490.33" width="1.41" height="8.12" fill="rgb(43,195,76)"/>
<rect x="88.72" y="466.11" width="1.41" height="8.12" fill="rgb(22,96,41)"/>
<rect x="88.72" y="474.19" width="1.41" height="8.12" fill="rgb(10,35,18)"/>
<rect x="88.72" y="482.26" width="1.41" height="8.12" fill="rgb(10,35,18)"/>
<rect x="88.72" y="490.33" width="1.41" height="8.12" fill="rgb(24,103,43)"/>
<rect x="90.09" y="449.97" width="1.41" height="8.12" fill="rgb(34,152,61)"/>
<rect x="90.09" y="474.19" width="1.41" height="8.12" fill="rgb(19,17,10)"/>
<rect x="90.09" y="482.26" width="1.41" height="8.12" fill="rgb(16,67,30)"/>
<rect x="91.45" y="441.90" width="1.41" height="8.12" fill="rgb(17,15,9)"/>
<rect x="91.45" y="466.11" width="1.41" height="8.12" fill="rgb(10,35,18)"/>
<rect x="92.81" y="449.97" width="1.41" height="8.12" fill="rgb(19,17,10)"/>
<rect x="92.81" y="466.11" width="1.41" height="8.12" fill="rgb(10,36,18)"/>
<rect x="94.17" y="458.04" width="1.41" height="8.12" fill="rgb(19,17,10)"/>
<rect x="94.17" y="466.11" width="1.41" height="8.12" fill="rgb(18,16,10)"/>
<rect x="94.17" y="474.19" width="1.41" height="8.12" fill="rgb(40,10,10)"/>
<rect x="95.53" y="441.90" width="1.41" height="8.12" fill="rgb(10,35,18)"/>
<rect x="95.53" y="490.33" width="1.41" height="8.12" fill="rgb(26,113,47)"/>
<rect x="96.90" y="466.11" width="1.41" height="8.12" fill="rgb(19,17,10)"/>
<rect x="96.90" y="482.26" width="1.41" height="8.12" fill="rgb(18,16,10)"/>
<rect x="98.26" y="449.97" width="1.41" height="8.12" fill="rgb(88,19,17)"/>
<rect x="98.26" y="466.11" width="1.41" height="8.12" fill="rgb(25,107,45)"/>
<rect x="98.26" y="474.19" width="1.41" height="8.12" fill="rgb(45,11,10)"/>
<rect x="98.26" y="490.33" width="1.41" height="8.12" fill="rgb(23,98,41)"/>
<rect x="99.62" y="474.19" width="1.41" height="8.12" fill="rgb(19,17,10)"/>
<rect x="100.98" y="441.90" width="1.41" height="8.12" fill="rgb(18,17,10)"/>
<rect x="100.98" y="466.11" width="1.41" height="8.12" fill="rgb(13,53,25)"/>
<rect x="100.98" y="482.26" width="1.41" height="8.12" fill="rgb(16,15,9)"/>
<rect x="100.98" y="490.33" width="1.41" height="8.12" fill="rgb(17,15,9)"/>
<rect x="102.34" y="458.04" width="1.41" height="8.12" fill="rgb(79,18,15)"/>
<rect x="102.34" y="490.33" width="1.41" height="8.12" fill="rgb(16,15,9)"/>
<rect x="103.71" y="441.90" width="1.41" height="8.12" fill="rgb(126,27,22)"/>
<rect x="103.71" y="474.19" width="1.41" height="8.12" fill="rgb(46,11,10)"/>
<rect x="105.07" y="482.26" width="1.41" height="8.12" fill="rgb(16,15,9)"/>
<rect x="105.07" y="490.33" width="1.41" height="8.12" fill="rgb(18,16,10)"/>
<rect x="106.43" y="441.90" width="1.41" height="8.12" fill="rgb(32,101,48)"/>
<rect x="106.43" y="449.97" width="1.41" height="8.12" fill="rgb(32,99,48)"/>
<rect x="106.43" y="458.04" width="1.41" height="8.12" fill="rgb(32,102,48)"/>
<rect x="106.43" y="466.11" width="1.41" height="8.12" fill="rgb(32,103,49)"/>
<rect x="106.43" y="474.19" width="1.41" height="8.12" fill="rgb(32,98,47)"/>
<rect x="106.43" y="482.26" width="1.41" height="8.12" fill="rgb(32,98,47)"/>
<rect x="106.43" y="490.33" width="1.41" height="8.12" fill="rgb(31,94,46)"/>
<rect x="109.16" y="441.90" width="1.41" height="8.12" fill="rgb(18,16,10)"/>
<rect x="109.16" y="449.97" width="1.41" height="8.12" fill="rgb(41,10,10)"/>
<rect x="109.16" y="466.11" width="1.41" height="8.12" fill="rgb(22,96,41)"/>
<rect x="110.52" y="441.90" width="1.41" height="8.12" fill="rgb(17,15,9)"/>
<rect x="110.52" y="458.04" width="1.41" height="8.12" fill="rgb(18,16,10)"/>
<rect x="110.52" y="466.11" width="1.41" height="8.12" fill="rgb(17,70,31)"/>
<rect x="110.52" y="482.26" width="1.41" height="8.12" fill="rgb(10,35,18)"/>
<rect x="110.52" y="490.33" width="1.41" height="8.12" fill="rgb(16,15,9)"/>
<rect x="111.88" y="449.97" width="1.41" height="8.12" fill="rgb(34,152,62)"/>
<rect x="111.88" y="466.11" width="1.41" height="8.12" fill="rgb(72,16,14)"/>
<rect x="111.88" y="474.19" width="1.41" height="8.12" fill="rgb(16,15,9)"/>
<rect x="111.88" y="490.33" width="1.41" height="8.12" fill="rgb(10,37,19)"/>
<rect x="113.24" y="441.90" width="1.41" height="8.12" fill="rgb(28,125,52)"/>
<rect x="113.24" y="466.11" width="1.41" height="8.12" fill="rgb(10,37,19)"/>
<rect x="113.24" y="482.26" width="1.41" height="8.12" fill="rgb(17,15,9)"/>
<rect x="115.97" y="466.11" width="1.41" height="8.12" fill="rgb(15,61,27)"/>
<rect x="117.33" y="449.97" width="1.41" height="8.12" fill="rgb(59,14,12)"/>
<rect x="117.33" y="474.19" width="1.41" height="8.12" fill="rgb(206,44,34)"/>
<rect x="118.69" y="449.97" width="1.41" height="8.12" fill="rgb(13,53,24)"/>
<rect x="118.69" y="466.11" width="1.41" height="8.12" fill="rgb(23,99,42)"/>
<rect x="118.69" y="474.19" width="1.41" height="8.12" fill="rgb(32,142,58)"/>
<rect x="118.69" y="490.33" width="1.41" height="8.12" fill="rgb(27,117,48)"/>
<rect x="120.05" y="441.90" width="1.41" height="8.12" fill="rgb(40,10,10)"/>
<rect x="120.05" y="458.04" width="1.41" height="8.12" fill="rgb(62,14,13)"/>
<rect x="120.05" y="474.19" width="1.41" height="8.12" fill="rgb(46,11,10)"/>
<rect x="120.05" y="482.26" width="1.41" height="8.12" fill="rgb(41,10,10)"/>
<rect x="121.42" y="466.11" width="1.41" height="8.12" fill="rgb(14,55,25)"/>
<rect x="121.42" y="474.19" width="1.41" height="8.12" fill="rgb(62,14,13)"/>
<rect x="121.42" y="482.26" width="1.41" height="8.12" fill="rgb(19,17,10)"/>
<rect x="122.78" y="441.90" width="1.41" height="8.12" fill="rgb(54,13,12)"/>
<rect x="122.78" y="458.04" width="1.41" height="8.12" fill="rgb(13,52,24)"/>
<rect x="122.78" y="466.11" width="1.41" height="8.12" fill="rgb(16,15,9)"/>
<rect x="124.14" y="449.97" width="1.41" height="8.12" fill="rgb(19,17,10)"/>
<rect x="124.14" y="482.26" width="1.41" height="8.12" fill="rgb(10,35,18)"/>
<rect x="124.14" y="490.33" width="1.41" height="8.12" fill="rgb(18,74,32)"/>
<rect x="125.50" y="441.90" width="1.41" height="8.12" fill="rgb(18,17,10)"/>
<rect x="125.50" y="458.04" width="1.41" height="8.12" fill="rgb(19,17,10)"/>
<rect x="125.50" y="466.11" width="1.41" height="8.12" fill="rgb(30,133,54)"/>
<rect x="125.50" y="490.33" width="1.41" height="8.12" fill="rgb(19,17,10)"/>
<rect x="126.86" y="466.11" width="1.41" height="8.12" fill="rgb(17,15,9)"/>
<rect x="126.86" y="482.26" width="1.41" height="8.12" fill="rgb(10,35,18)"/>
<rect x="126.86" y="490.33" width="1.41" height="8.12" fill="rgb(19,17,10)"/>
<rect x="129.59" y="441.90" width="1.41" height="8.12" fill="rgb(41,173,70)"/>
<rect x="129.59" y="449.97" width="1.41" height="8.12" fill="rgb(42,183,73)"/>
<rect x="129.59" y="458.04" width="1.41" height="8.12" fill="rgb(41,175,71)"/>
<rect x="129.59" y="466.11" width="1.41" height="8.12" fill="rgb(42,185,74)"/>
<rect x="129.59" y="474.19" width="1.41" height="8.12" fill="rgb(40,166,68)"/>
<rect x="129.59" y="482.26" width="1.41" height="8.12" fill="rgb(42,186,74)"/>
<rect x="129.59" y="490.33" width="1.41" height="8.12" fill="rgb(40,169,69)"/>
<rect x="130.95" y="474.19" width="1.41" height="8.12" fill="rgb(17,15,9)"/>
<rect x="132.31" y="449.97" width="1.41" height="8.12" fill="rgb(18,16,10)"/>
<rect x="132.31" y="466.11" width="1.41" height="8.12" fill="rgb(18,16,10)"/>
<rect x="133.67" y="466.11" width="1.41" height="8.12" fill="rgb(52,12,11)"/>
<rect x="133.67" y="482.26" width="1.41" height="8.12" fill="rgb(178,38,30)"/>
<rect x="135.04" y="441.90" width="1.41" height="8.12" fill="rgb(16,15,9)"/>
<rect x="135.04" y="458.04" width="1.41" height="8.12" fill="rgb(18,16,10)"/>
<rect x="135.04" y="466.11" width="1.41" height="8.12" fill="rgb(25,110,46)"/>
<rect x="136.40" y="441.90" width="1.41" height="8.12" fill="rgb(30,131,54)"/>
<rect x="136.40" y="466.11" width="1.41" height="8.12" fill="rgb(40,10,10)"/>
<rect x="136.40" y="482.26" width="1.41" height="8.12" fill="rgb(18,17,10)"/>
<rect x="137.76" y="441.90" width="1.41" height="8.12" fill="rgb(31,137,56)"/>
<rect x="137.76" y="466.11" width="1.41" height="8.12" fill="rgb(10,38,19)"/>
<rect x="137.76" y="474.19" width="1.41" height="8.12" fill="rgb(19,17,10)"/>
<rect x="137.76" y="482.26" width="1.41" height="8.12" fill="rgb(102,22,19)"/>
<rect x="137.76" y="490.33" width="1.41" height="8.12" fill="rgb(168,36,28)"/>
<rect x="139.12" y="441.90" width="1.41" height="8.12" fill="rgb(123,27,22)"/>
<rect x="139.12" y="449.97" width="1.41" height="8.12" fill="rgb(30,132,54)"/>
<rect x="139.12" y="466.11" width="1.41" height="8.12" fill="rgb(116,25,21)"/>
<rect x="139.12" y="482.26" width="1.41" height="8.12" fill="rgb(46,11,10)"/>
<rect x="139.12" y="490.33" width="1.41" height="8.12" fill="rgb(22,95,40)"/>
<rect x="140.49" y="441.90" width="1.41" height="8.12" fill="rgb(47,11,11)"/>
<rect x="140.49" y="449.97" width="1.41" height="8.12" fill="rgb(16,15,9)"/>
<rect x="140.49" y="474.19" width="1.41" height="8.12" fill="rgb(52,12,11)"/>
<rect x="140.49" y="490.33" width="1.41" height="8.12" fill="rgb(20,84,36)"/>
<rect x="141.85" y="458.04" width="1.41" height="8.12" fill="rgb(95,21,18)"/>
<rect x="141.85" y="466.11" width="1.41" height="8.12" fill="rgb(11,42,20)"/>
<rect x="141.85" y="482.26" width="1.41" height="8.12" fill="rgb(24,103,43)"/>
<rect x="141.85" y="490.33" width="1.41" height="8.12" fill="rgb(50,12,11)"/>
<rect x="143.21" y="441.90" width="1.41" height="8.12" fill="rgb(18,16,10)"/>
<rect x="143.21" y="466.11" width="1.41" height="8.12" fill="rgb(31,138,56)"/>
<rect x="144.57" y="458.04" width="1.41" height="8.12" fill="rgb(19,17,10)"/>
<rect x="144.57" y="466.11" width="1.41" height="8.12" fill="rgb(25,107,45)"/>
<rect x="144.57" y="490.33" width="1.41" height="8.12" fill="rgb(16,15,9)"/>
<rect x="145.93" y="474.19" width="1.41" height="8.12" fill="rgb(17,16,10)"/>
<rect x="145.93" y="490.33" width="1.41" height="8.12" fill="rgb(76,17,15)"/>
<rect x="147.30" y="466.11" width="1.41" height="8.12" fill="rgb(25,110,46)"/>
<rect x="147.30" y="474.19" width="1.41" height="8.12" fill="rgb(10,37,18)"/>
<rect x="147.30" y="482.26" width="1.41" height="8.12" fill="rgb(10,35,18)"/>
<rect x="147.30" y="490.33" width="1.41" height="8.12" fill="rgb(19,81,35)"/>
<rect x="148.66" y="449.97" width="1.41" height="8.12" fill="rgb(26,115,48)"/>
<rect x="148.66" y="466.11" width="1.41" height="8.12" fill="rgb(21,92,39)"/>
<rect x="148.66" y="474.19" width="1.41" height="8.12" fill="rgb(16,15,9)"/>
<rect x="148.66" y="482.26" width="1.41" height="8.12" fill="rgb(14,55,25)"/>
<rect x="150.02" y="441.90" width="1.41" height="8.12" fill="rgb(75,17,15)"/>
<rect x="150.02" y="449.97" width="1.41" height="8.12" fill="rgb(19,17,10)"/>
<rect x="150.02" y="474.19" width="1.41" height="8.12" fill="rgb(18,16,10)"/>
<rect x="151.38" y="441.90" width="1.41" height="8.12" fill="rgb(208,44,34)"/>
<rect x="151.38" y="458.04" width="1.41" height="8.12" fill="rgb(48,11,11)"/>
<rect x="151.38" y="466.11" width="1.41" height="8.12" fill="rgb(11,42,20)"/>
<rect x="151.38" y="474.19" width="1.41" height="8.12" fill="rgb(18,17,10)"/>
<rect x="152.74" y="449.97" width="1.41" height="8.12" fill="rgb(56,13,12)"/>
<rect x="152.74" y="458.04" width="1.41" height="8.12" fill="rgb(17,16,10)"/>
<rect x="152.74" y="466.11" width="1.41" height="8.12" fill="rgb(29,129,53)"/>
<rect x="154.11" y="441.90" width="1.41" height="8.12" fill="rgb(17,71,31)"/>
<rect x="154.11" y="449.97" width="1.41" height="8.12" fill="rgb(11,39,19)"/>
<rect x="154.11" y="458.04" width="1.41" height="8.12" fill="rgb(15,61,27)"/>
<rect x="154.11" y="466.11" width="1.41" height="8.12" fill="rgb(14,58,26)"/>
<rect x="155.47" y="449.97" width="1.41" height="8.12" fill="rgb(44,10,10)"/>
<rect x="155.47" y="482.26" width="1.41" height="8.12" fill="rgb(18,17,10)"/>
<rect x="156.83" y="441.90" width="1.41" height="8.12" fill="rgb(33,112,52)"/>
<rect x="156.83" y="449.97" width="1.41" height="8.12" fill="rgb(32,99,48)"/>
<rect x="156.83" y="458.04" width="1.41" height="8.12" fill="rgb(32,104,49)"/>
<rect x="156.83" y="466.11" width="1.41" height="8.12" fill="rgb(32,105,49)"/>
<rect x="156.83" y="474.19" width="1.41" height="8.12" fill="rgb(32,100,48)"/>
<rect x="156.83" y="482.26" width="1.41" height="8.12" fill="rgb(33,112,51)"/>
<rect x="156.83" y="490.33" width="1.41" height="8.12" fill="rgb(32,104,49)"/>
<rect x="158.19" y="458.04" width="1.41" height="8.12" fill="rgb(42,10,10)"/>
<rect x="159.56" y="466.11" width="1.41" height="8.12" fill="rgb(28,124,51)"/>
<rect x="159.56" y="490.33" width="1.41" height="8.12" fill="rgb(40,10,10)"/>
<rect x="160.92" y="441.90" width="1.41" height="8.12" fill="rgb(41,175,71)"/>
<rect x="160.92" y="449.97" width="1.41" height="8.12" fill="rgb(42,182,73)"/>
<rect x="160.92" y="458.04" width="1.41" height="8.12" fill="rgb(42,187,74)"/>
<rect x="160.92" y="466.11" width="1.41" height="8.12" fill="rgb(40,167,68)"/>
<rect x="160.92" y="474.19" width="1.41" height="8.12" fill="rgb(41,178,72)"/>
<rect x="160.92" y="482.26" width="1.41" height="8.12" fill="rgb(42,186,74)"/>
<rect x="160.92" y="490.33" width="1.41" height="8.12" fill="rgb(40,165,67)"/>
<rect x="162.28" y="441.90" width="1.41" height="8.12" fill="rgb(19,17,10)"/>
<rect x="162.28" y="466.11" width="1.41" height="8.12" fill="rgb(13,53,24)"/>
<rect x="162.28" y="474.19" width="1.41" height="8.12" fill="rgb(13,52,24)"/>
<rect x="163.64" y="458.04" width="1.41" height="8.12" fill="rgb(12,49,23)"/>
<rect x="163.64" y="466.11" width="1.41" height="8.12" fill="rgb(10,37,19)"/>
<rect x="163.64" y="490.33" width="1.41" height="8.12" fill="rgb(61,14,13)"/>
<rect x="165.00" y="441.90" width="1.41" height="8.12" fill="rgb(14,54,25)"/>
<rect x="165.00" y="449.97" width="1.41" height="8.12" fill="rgb(16,64,29)"/>
<rect x="165.00" y="466.11" width="1.41" height="8.12" fill="rgb(11,42,20)"/>
<rect x="165.00" y="474.19" width="1.41" height="8.12" fill="rgb(56,13,12)"/>
<rect x="165.00" y="490.33" width="1.41" height="8.12" fill="rgb(21,88,38)"/>
<rect x="166.37" y="458.04" width="1.41" height="8.12" fill="rgb(19,17,10)"/>
<rect x="166.37" y="490.33" width="1.41" height="8.12" fill="rgb(18,16,10)"/>
<rect x="167.73" y="449.97" width="1.41" height="8.12" fill="rgb(16,65,29)"/>
<rect x="167.73" y="458.04" width="1.41" height="8.12" fill="rgb(13,50,23)"/>
<rect x="167.73" y="474.19" width="1.41" height="8.12" fill="rgb(11,41,20)"/>
<rect x="167.73" y="490.33" width="1.41" height="8.12" fill="rgb(84,19,16)"/>
<rect x="169.09" y="441.90" width="1.41" height="8.12" fill="rgb(16,64,28)"/>
<rect x="169.09" y="466.11" width="1.41" height="8.12" fill="rgb(19,17,10)"/>
<rect x="169.09" y="474.19" width="1.41" height="8.12" fill="rgb(13,49,23)"/>
<rect x="170.45" y="441.90" width="1.41" height="8.12" fill="rgb(17,15,9)"/>
<rect x="170.45" y="466.11" width="1.41" height="8.12" fill="rgb(12,44,21)"/>
<rect x="171.81" y="449.97" width="1.41" height="8.12" fill="rgb(10,36,18)"/>
<rect x="171.81" y="466.11" width="1.41" height="8.12" fill="rgb(24,106,44)"/>
<rect x="171.81" y="482.26" width="1.41" height="8.12" fill="rgb(17,16,10)"/>
<rect x="171.81" y="490.33" width="1.41" height="8.12" fill="rgb(11,42,20)"/>
<rect x="173.18" y="466.11" width="1.41" height="8.12" fill="rgb(24,104,43)"/>
<rect x="173.18" y="474.19" width="1.41" height="8.12" fill="rgb(17,15,9)"/>
<rect x="174.54" y="466.11" width="1.41" height="8.12" fill="rgb(92,20,17)"/>
<rect x="174.54" y="474.19" width="1.41" height="8.12" fill="rgb(19,17,10)"/>
<rect x="175.90" y="441.90" width="1.41" height="8.12" fill="rgb(32,105,49)"/>
<rect x="175.90" y="449.97" width="1.41" height="8.12" fill="rgb(32,105,49)"/>
<rect x="175.90" y="458.04" width="1.41" height="8.12" fill="rgb(31,93,46)"/>
<rect x="175.90" y="466.11" width="1.41" height="8.12" fill="rgb(32,102,48)"/>
<rect x="175.90" y="474.19" width="1.41" height="8.12" fill="rgb(31,94,46)"/>
<rect x="175.90" y="482.26" width="1.41" height="8.12" fill="rgb(31,93,46)"/>
<rect x="175.90" y="490.33" width="1.41" height="8.12" fill="rgb(31,96,47)"/>
<rect x="177.26" y="466.11" width="1.41" height="8.12" fill="rgb(12,46,22)"/>
<rect x="177.26" y="474.19" width="1.41" height="8.12" fill="rgb(17,15,9)"/>
<rect x="178.62" y="449.97" width="1.41" height="8.12" fill="rgb(16,15,9)"/>
<rect x="178.62" y="466.11" width="1.41" height="8.12" fill="rgb(31,139,57)"/>
<rect x="178.62" y="490.33" width="1.41" height="8.12" fill="rgb(88,20,17)"/>
<rect x="179.99" y="449.97" width="1.41" height="8.12" fill="rgb(74,17,15)"/>
<rect x="179.99" y="466.11" width="1.41" height="8.12" fill="rgb(40,10,10)"/>
<rect x="179.99" y="482.26" width="1.41" height="8.12" fill="rgb(44,10,10)"/>
<rect x="179.99" y="490.33" width="1.41" height="8.12" fill="rgb(19,17,10)"/>
<rect x="181.35" y="449.97" width="1.41" height="8.12" fill="rgb(16,15,9)"/>
<rect x="181.35" y="466.11" width="1.41" height="8.12" fill="rgb(20,86,37)"/>
<rect x="181.35" y="482.26" width="1.41" height="8.12" fill="rgb(17,16,10)"/>
<rect x="182.71" y="449.97" width="1.41" height="8.12" fill="rgb(43,10,10)"/>
<rect x="182.71" y="458.04" width="1.41" height="8.12" fill="rgb(10,35,18)"/>
<rect x="182.71" y="466.11" width="1.41" height="8.12" fill="rgb(24,103,43)"/>
<rect x="182.71" y="482.26" width="1.41" height="8.12" fill="rgb(45,11,10)"/>
<rect x="184.07" y="441.90" width="1.41" height="8.12" fill="rgb(16,15,9)"/>
<rect x="184.07" y="458.04" width="1.41" height="8.12" fill="rgb(17,15,9)"/>
<rect x="184.07" y="466.11" width="1.41" height="8.12" fill="rgb(19,17,10)"/>
<rect x="184.07" y="474.19" width="1.41" height="8.12" fill="rgb(32,143,58)"/>
<rect x="184.07" y="490.33" width="1.41" height="8.12" fill="rgb(18,16,10)"/>
<rect x="185.44" y="458.04" width="1.41" height="8.12" fill="rgb(16,15,9)"/>
<rect x="185.44" y="466.11" width="1.41" height="8.12" fill="rgb(20,83,36)"/>
<rect x="185.44" y="490.33" width="1.41" height="8.12" fill="rgb(55,13,12)"/>
<rect x="186.80" y="441.90" width="1.41" height="8.12" fill="rgb(41,172,70)"/>
<rect x="186.80" y="449.97" width="1.41" height="8.12" fill="rgb(43,188,75)"/>
<rect x="186.80" y="458.04" width="1.41" height="8.12" fill="rgb(42,182,73)"/>
<rect x="186.80" y="466.11" width="1.41" height="8.12" fill="rgb(42,186,74)"/>
<rect x="186.80" y="474.19" width="1.41" height="8.12" fill="rgb(40,170,69)"/>
<rect x="186.80" y="482.26" width="1.41" height="8.12" fill="rgb(40,168,69)"/>
<rect x="186.80" y="490.33" width="1.41" height="8.12" fill="rgb(40,169,69)"/>
<rect x="188.16" y="458.04" width="1.41" height="8.12" fill="rgb(17,69,30)"/>
<rect x="190.88" y="449.97" width="1.41" height="8.12" fill="rgb(17,15,9)"/>
<rect x="192.25" y="466.11" width="1.41" height="8.12" fill="rgb(18,77,33)"/>
<rect x="192.25" y="482.26" width="1.41" height="8.12" fill="rgb(19,17,10)"/>
<rect x="193.61" y="466.11" width="1.41" height="8.12" fill="rgb(27,119,49)"/>
<rect x="193.61" y="474.19" width="1.41" height="8.12" fill="rgb(19,17,10)"/>
<rect x="193.61" y="482.26" width="1.41" height="8.12" fill="rgb(16,15,9)"/>
<rect x="193.61" y="490.33" width="1.41" height="8.12" fill="rgb(19,17,10)"/>
<rect x="194.97" y="449.97" width="1.41" height="8.12" fill="rgb(146,31,25)"/>
<rect x="194.97" y="474.19" width="1.41" height="8.12" fill="rgb(20,84,36)"/>
<rect x="194.97" y="482.26" width="1.41" height="8.12" fill="rgb(86,19,16)"/>
<rect x="196.33" y="441.90" width="1.41" height="8.12" fill="rgb(17,15,9)"/>
<rect x="196.33" y="458.04" width="1.41" height="8.12" fill="rgb(16,15,9)"/>
<rect x="196.33" y="466.11" width="1.41" height="8.12" fill="rgb(13,51,24)"/>
<rect x="196.33" y="474.19" width="1.41" height="8.12" fill="rgb(10,35,18)"/>
<rect x="196.33" y="482.26" width="1.41" height="8.12" fill="rgb(17,16,10)"/>
<rect x="197.70" y="441.90" width="1.41" height="8.12" fill="rgb(17,15,9)"/>
<rect x="197.70" y="449.97" width="1.41" height="8.12" fill="rgb(18,16,10)"/>
<rect x="197.70" y="458.04" width="1.41" height="8.12" fill="rgb(205,44,34)"/>
<rect x="197.70" y="466.11" width="1.41" height="8.12" fill="rgb(101,22,19)"/>
<rect x="197.70" y="482.26" width="1.41" height="8.12" fill="rgb(110,24,20)"/>
<rect x="199.06" y="441.90" width="1.41" height="8.12" fill="rgb(19,82,35)"/>
<rect x="199.06" y="449.97" width="1.41" height="8.12" fill="rgb(19,78,34)"/>
<rect x="199.06" y="466.11" width="1.41" height="8.12" fill="rgb(22,92,39)"/>
<rect x="199.06" y="482.26" width="1.41" height="8.12" fill="rgb(32,141,57)"/>
<rect x="200.42" y="458.04" width="1.41" height="8.12" fill="rgb(14,55,25)"/>
<rect x="200.42" y="466.11" width="1.41" height="8.12" fill="rgb(101,22,19)"/>
<rect x="200.42" y="474.19" width="1.41" height="8.12" fill="rgb(17,15,9)"/>
<rect x="200.42" y="490.33" width="1.41" height="8.12" fill="rgb(19,17,10)"/>
<rect x="201.78" y="474.19" width="1.41" height="8.12" fill="rgb(18,17,10)"/>
<rect x="203.14" y="449.97" width="1.41" height="8.12" fill="rgb(19,17,10)"/>
<rect x="203.14" y="458.04" width="1.41" height="8.12" fill="rgb(22,92,39)"/>
<rect x="203.14" y="466.11" width="1.41" height="8.12" fill="rgb(11,42,20)"/>
<rect x="204.51" y="466.11" width="1.41" height="8.12" fill="rgb(13,51,24)"/>
<rect x="204.51" y="482.26" width="1.41" height="8.12" fill="rgb(18,16,10)"/>
<rect x="205.87" y="466.11" width="1.41" height="8.12" fill="rgb(19,17,10)"/>
<rect x="205.87" y="490.33" width="1.41" height="8.12" fill="rgb(19,17,10)"/>
<rect x="207.23" y="466.11" width="1.41" height="8.12" fill="rgb(10,37,18)"/>
<rect x="207.23" y="482.26" width="1.41" height="8.12" fill="rgb(43,10,10)"/>
<rect x="208.59" y="441.90" width="1.41" height="8.12" fill="rgb(16,15,9)"/>
<rect x="208.59" y="458.04" width="1.41" height="8.12" fill="rgb(15,61,27)"/>
<rect x="208.59" y="466.11" width="1.41" height="8.12" fill="rgb(161,35,27)"/>
<rect x="208.59" y="474.19" width="1.41" height="8.12" fill="rgb(18,16,10)"/>
<rect x="208.59" y="482.26" width="1.41" height="8.12" fill="rgb(56,13,12)"/>
<rect x="209.95" y="466.11" width="1.41" height="8.12" fill="rgb(79,18,15)"/>
<rect x="209.95" y="474.19" width="1.41" height="8.12" fill="rgb(25,107,45)"/>
<rect x="209.95" y="482.26" width="1.41" height="8.12" fill="rgb(64,15,13)"/>
<rect x="209.95" y="490.33" width="1.41" height="8.12" fill="rgb(45,11,10)"/>
<rect x="211.32" y="482.26" width="1.41" height="8.12" fill="rgb(19,17,10)"/>
<rect x="212.68" y="466.11" width="1.41" height="8.12" fill="rgb(52,12,11)"/>
<rect x="214.04" y="441.90" width="1.41" height="8.12" fill="rgb(31,136,55)"/>
<rect x="214.04" y="449.97" width="1.41" height="8.12" fill="rgb(15,63,28)"/>
<rect x="214.04" y="458.04" width="1.41" height="8.12" fill="rgb(18,16,10)"/>
<rect x="214.04" y="474.19" width="1.41" height="8.12" fill="rgb(18,16,10)"/>
<rect x="215.40" y="490.33" width="1.41" height="8.12" fill="rgb(13,51,24)"/>
<rect x="216.77" y="458.04" width="1.41" height="8.12" fill="rgb(63,14,13)"/>
<rect x="216.77" y="474.19" width="1.41" height="8.12" fill="rgb(19,17,10)"/>
<rect x="218.13" y="466.11" width="1.41" height="8.12" fill="rgb(11,42,20)"/>
<rect x="218.13" y="474.19" width="1.41" height="8.12" fill="rgb(16,15,9)"/>
<rect x="218.13" y="482.26" width="1.41" height="8.12" fill="rgb(17,16,10)"/>
<rect x="219.49" y="441.90" width="1.41" height="8.12" fill="rgb(34,151,61)"/>
<rect x="219.49" y="458.04" width="1.41" height="8.12" fill="rgb(17,15,9)"/>
<rect x="219.49" y="474.19" width="1.41" height="8.12" fill="rgb(24,104,44)"/>
<rect x="219.49" y="482.26" width="1.41" height="8.12" fill="rgb(100,22,18)"/>
<rect x="219.49" y="490.33" width="1.41" height="8.12" fill="rgb(18,16,10)"/>
<rect x="220.85" y="441.90" width="1.41" height="8.12" fill="rgb(186,40,31)"/>
<rect x="220.85" y="458.04" width="1.41" height="8.12" fill="rgb(126,27,22)"/>
<rect x="220.85" y="466.11" width="1.41" height="8.12" fill="rgb(21,90,38)"/>
<rect x="220.85" y="474.19" width="1.41" height="8.12" fill="rgb(18,16,10)"/>
<rect x="220.85" y="482.26" width="1.41" height="8.12" fill="rgb(25,108,45)"/>
<rect x="222.21" y="449.97" width="1.41" height="8.12" fill="rgb(12,47,22)"/>
<rect x="222.21" y="466.11" width="1.41" height="8.12" fill="rgb(27,118,49)"/>
<rect x="222.21" y="482.26" width="1.41" height="8.12" fill="rgb(10,36,18)"/>
<rect x="222.21" y="490.33" width="1.41" height="8.12" fill="rgb(32,144,58)"/>
<rect x="223.58" y="474.19" width="1.41" height="8.12" fill="rgb(66,15,13)"/>
<rect x="224.94" y="441.90" width="1.41" height="8.12" fill="rgb(39,155,65)"/>
<rect x="224.94" y="449.97" width="1.41" height="8.12" fill="rgb(40,166,68)"/>
<rect x="224.94" y="458.04" width="1.41" height="8.12" fill="rgb(38,148,62)"/>
<rect x="224.94" y="466.11" width="1.41" height="8.12" fill="rgb(40,165,67)"/>
<rect x="224.94" y="474.19" width="1.41" height="8.12" fill="rgb(38,149,63)"/>
<rect x="224.94" y="482.26" width="1.41" height="8.12" fill="rgb(39,161,66)"/>
<rect x="224.94" y="490.33" width="1.41" height="8.12" fill="rgb(38,150,63)"/>
<line x1="226.30" y1="445.94" x2="228.50" y2="445.94" stroke="#222" stroke-width="0.9" />
<text x="230.20" y="448.84" font-size="7.9" fill="#222" stroke="#222" stroke-width="0.2" textLength="18.60" lengthAdjust="spacingAndGlyphs" >K299</text>
<line x1="226.30" y1="454.01" x2="228.50" y2="454.01" stroke="#222" stroke-width="0.9" />
<text x="230.20" y="456.91" font-size="7.9" fill="#222" stroke="#222" stroke-width="0.2" textLength="16.30" lengthAdjust="spacingAndGlyphs" >KIJK</text>
<line x1="226.30" y1="462.08" x2="228.50" y2="462.08" stroke="#222" stroke-width="0.9" />
<text x="230.20" y="464.98" font-size="7.9" fill="#222" stroke="#222" stroke-width="0.2" textLength="26.00" lengthAdjust="spacingAndGlyphs" >SUPM2</text>
<line x1="226.30" y1="470.15" x2="228.50" y2="470.15" stroke="#222" stroke-width="0.9" />
<text x="230.20" y="473.05" font-size="7.9" fill="#222" stroke="#222" stroke-width="0.2" textLength="13.50" lengthAdjust="spacingAndGlyphs" >L82</text>
<line x1="226.30" y1="478.22" x2="228.50" y2="478.22" stroke="#222" stroke-width="0.9" />
<text x="230.20" y="481.12" font-size="7.9" fill="#222" stroke="#222" stroke-width="0.2" textLength="28.80" lengthAdjust="spacingAndGlyphs" >MAC2A</text>
<line x1="226.30" y1="486.29" x2="228.50" y2="486.29" stroke="#222" stroke-width="0.9" />
<text x="230.20" y="489.19" font-size="7.9" fill="#222" stroke="#222" stroke-width="0.2" textLength="18.60" lengthAdjust="spacingAndGlyphs" >SMZ1</text>
<line x1="226.30" y1="494.36" x2="228.50" y2="494.36" stroke="#222" stroke-width="0.9" />
<text x="230.20" y="497.26" font-size="7.9" fill="#222" stroke="#222" stroke-width="0.2" textLength="22.10" lengthAdjust="spacingAndGlyphs" >MYLA</text>
<line x1="43.60" y1="498.40" x2="43.60" y2="500.40" stroke="#222" stroke-width="0.9" />
<text x="46.30" y="519.90" font-size="7.4" fill="#222" stroke="#222" stroke-width="0.2" textLength="18.50" lengthAdjust="spacingAndGlyphs" transform="rotate(-90 46.30 519.90)" >TUBB</text>
<line x1="68.20" y1="498.40" x2="68.20" y2="500.40" stroke="#222" stroke-width="0.9" />
<text x="70.90" y="524.40" font-size="7.4" fill="#222" stroke="#222" stroke-width="0.2" textLength="23.00" lengthAdjust="spacingAndGlyphs" transform="rotate(-90 70.90 524.40)" >RPP21</text>
<line x1="87.50" y1="498.40" x2="87.50" y2="500.40" stroke="#222" stroke-width="0.9" />
<text x="90.20" y="530.90" font-size="7.4" fill="#222" stroke="#222" stroke-width="0.2" textLength="29.50" lengthAdjust="spacingAndGlyphs" transform="rotate(-90 90.20 530.90)" >PPP1R10</text>
<line x1="130.00" y1="498.40" x2="130.00" y2="500.40" stroke="#222" stroke-width="0.9" />
<text x="132.70" y="520.40" font-size="7.4" fill="#222" stroke="#222" stroke-width="0.2" textLength="19.00" lengthAdjust="spacingAndGlyphs" transform="rotate(-90 132.70 520.40)" >LSM2</text>
<line x1="186.90" y1="498.40" x2="186.90" y2="500.40" stroke="#222" stroke-width="0.9" />
<text x="189.60" y="529.40" font-size="7.4" fill="#d0203a" stroke="#d0203a" stroke-width="0.2" textLength="28.00" lengthAdjust="spacingAndGlyphs" transform="rotate(-90 189.60 529.40)" >CSNK2B</text>
<text x="14.00" y="556.80" font-size="7.6" fill="#222" stroke="#222" stroke-width="0.2" text-anchor="middle" textLength="48.50" lengthAdjust="spacingAndGlyphs" transform="rotate(-90 14.00 556.80)" >RNA-seq RANK</text>
<line x1="37.60" y1="533.50" x2="37.60" y2="580.50" stroke="#222" stroke-width="1.1" />
<line x1="35.20" y1="537.00" x2="37.60" y2="537.00" stroke="#222" stroke-width="0.9" />
<text x="22.20" y="539.70" font-size="7.0" fill="#222" stroke="#222" stroke-width="0.2"><tspan>10</tspan><tspan dy="-2.6" font-size="5">0</tspan></text>
<line x1="35.20" y1="545.00" x2="37.60" y2="545.00" stroke="#222" stroke-width="0.9" />
<text x="22.20" y="547.70" font-size="7.0" fill="#222" stroke="#222" stroke-width="0.2"><tspan>10</tspan><tspan dy="-2.6" font-size="5">1</tspan></text>
<line x1="35.20" y1="553.00" x2="37.60" y2="553.00" stroke="#222" stroke-width="0.9" />
<text x="22.20" y="555.70" font-size="7.0" fill="#222" stroke="#222" stroke-width="0.2"><tspan>10</tspan><tspan dy="-2.6" font-size="5">2</tspan></text>
<line x1="35.20" y1="561.20" x2="37.60" y2="561.20" stroke="#222" stroke-width="0.9" />
<text x="22.20" y="563.90" font-size="7.0" fill="#222" stroke="#222" stroke-width="0.2"><tspan>10</tspan><tspan dy="-2.6" font-size="5">3</tspan></text>
<line x1="35.20" y1="569.60" x2="37.60" y2="569.60" stroke="#222" stroke-width="0.9" />
<text x="22.20" y="572.30" font-size="7.0" fill="#222" stroke="#222" stroke-width="0.2"><tspan>10</tspan><tspan dy="-2.6" font-size="5">4</tspan></text>
<line x1="35.20" y1="577.80" x2="37.60" y2="577.80" stroke="#222" stroke-width="0.9" />
<text x="22.20" y="580.50" font-size="7.0" fill="#222" stroke="#222" stroke-width="0.2"><tspan>10</tspan><tspan dy="-2.6" font-size="5">5</tspan></text>
<line x1="37.60" y1="546.80" x2="230.20" y2="546.80" stroke="#a8a8a8" stroke-width="1.1" />
<circle cx="42.7" cy="550.2" r="1.45" fill="#1a4f8a"/>
<circle cx="44.7" cy="545.8" r="1.45" fill="#1a4f8a"/>
<circle cx="48.3" cy="565.0" r="1.45" fill="#1a4f8a"/>
<circle cx="49.7" cy="549.8" r="1.45" fill="#1a4f8a"/>
<circle cx="57.2" cy="549.8" r="1.45" fill="#1a4f8a"/>
<circle cx="58.8" cy="570.8" r="1.45" fill="#1a4f8a"/>
<circle cx="60.6" cy="570.8" r="1.45" fill="#1a4f8a"/>
<circle cx="62.5" cy="561.9" r="1.45" fill="#1a4f8a"/>
<circle cx="65.9" cy="548.8" r="1.45" fill="#1a4f8a"/>
<circle cx="69.3" cy="568.8" r="1.45" fill="#1a4f8a"/>
<circle cx="71.3" cy="568.8" r="1.45" fill="#1a4f8a"/>
<circle cx="72.8" cy="552.6" r="1.45" fill="#1a4f8a"/>
<circle cx="76.8" cy="568.4" r="1.45" fill="#1a4f8a"/>
<circle cx="78.4" cy="571.0" r="1.45" fill="#1a4f8a"/>
<circle cx="80.0" cy="570.4" r="1.45" fill="#1a4f8a"/>
<circle cx="81.8" cy="567.4" r="1.45" fill="#1a4f8a"/>
<circle cx="83.5" cy="554.3" r="1.45" fill="#1a4f8a"/>
<circle cx="85.5" cy="552.6" r="1.45" fill="#1a4f8a"/>
<circle cx="87.1" cy="568.4" r="1.45" fill="#1a4f8a"/>
<circle cx="88.9" cy="548.2" r="1.45" fill="#1a4f8a"/>
<circle cx="90.7" cy="564.8" r="1.45" fill="#1a4f8a"/>
<circle cx="94.2" cy="559.9" r="1.45" fill="#1a4f8a"/>
<circle cx="96.0" cy="553.8" r="1.45" fill="#1a4f8a"/>
<circle cx="97.8" cy="564.3" r="1.45" fill="#1a4f8a"/>
<circle cx="99.6" cy="559.7" r="1.45" fill="#1a4f8a"/>
<circle cx="101.2" cy="551.6" r="1.45" fill="#1a4f8a"/>
<circle cx="103.3" cy="565.4" r="1.45" fill="#1a4f8a"/>
<circle cx="108.7" cy="565.4" r="1.45" fill="#1a4f8a"/>
<circle cx="110.3" cy="544.8" r="1.45" fill="#1a4f8a"/>
<circle cx="112.1" cy="552.6" r="1.45" fill="#1a4f8a"/>
<circle cx="113.8" cy="565.4" r="1.45" fill="#1a4f8a"/>
<circle cx="115.4" cy="553.2" r="1.45" fill="#1a4f8a"/>
<circle cx="124.3" cy="569.8" r="1.45" fill="#1a4f8a"/>
<circle cx="125.9" cy="568.4" r="1.45" fill="#1a4f8a"/>
<circle cx="127.9" cy="568.4" r="1.45" fill="#1a4f8a"/>
<circle cx="129.9" cy="564.3" r="1.45" fill="#1a4f8a"/>
<circle cx="131.5" cy="570.4" r="1.45" fill="#1a4f8a"/>
<circle cx="135.0" cy="563.3" r="1.45" fill="#1a4f8a"/>
<circle cx="136.6" cy="557.7" r="1.45" fill="#1a4f8a"/>
<circle cx="138.4" cy="551.2" r="1.45" fill="#1a4f8a"/>
<circle cx="139.6" cy="552.2" r="1.45" fill="#1a4f8a"/>
<circle cx="142.3" cy="543.5" r="1.45" fill="#1a4f8a"/>
<circle cx="145.4" cy="568.5" r="1.45" fill="#1a4f8a"/>
<circle cx="147.6" cy="570.5" r="1.45" fill="#1a4f8a"/>
<circle cx="157.8" cy="570.0" r="1.45" fill="#1a4f8a"/>
<circle cx="160.0" cy="569.4" r="1.45" fill="#1a4f8a"/>
<circle cx="161.5" cy="545.7" r="1.45" fill="#1a4f8a"/>
<circle cx="163.3" cy="553.0" r="1.45" fill="#1a4f8a"/>
<circle cx="167.1" cy="560.7" r="1.45" fill="#1a4f8a"/>
<circle cx="168.6" cy="552.3" r="1.45" fill="#1a4f8a"/>
<circle cx="170.4" cy="550.6" r="1.45" fill="#1a4f8a"/>
<circle cx="172.2" cy="540.2" r="1.45" fill="#1a4f8a"/>
<circle cx="174.1" cy="557.4" r="1.45" fill="#1a4f8a"/>
<circle cx="175.9" cy="549.5" r="1.45" fill="#1a4f8a"/>
<circle cx="181.0" cy="552.3" r="1.45" fill="#1a4f8a"/>
<circle cx="182.8" cy="555.6" r="1.45" fill="#1a4f8a"/>
<circle cx="184.8" cy="567.4" r="1.45" fill="#1a4f8a"/>
<circle cx="186.5" cy="562.3" r="1.45" fill="#1a4f8a"/>
<circle cx="192.1" cy="547.5" r="1.45" fill="#1a4f8a"/>
<circle cx="197.4" cy="552.3" r="1.45" fill="#1a4f8a"/>
<circle cx="198.9" cy="536.4" r="1.45" fill="#1a4f8a"/>
<circle cx="200.7" cy="563.8" r="1.45" fill="#1a4f8a"/>
<circle cx="202.4" cy="562.7" r="1.45" fill="#1a4f8a"/>
<circle cx="205.8" cy="554.5" r="1.45" fill="#1a4f8a"/>
<circle cx="211.3" cy="568.9" r="1.45" fill="#1a4f8a"/>
<circle cx="213.1" cy="543.5" r="1.45" fill="#1a4f8a"/>
<circle cx="215.0" cy="561.8" r="1.45" fill="#1a4f8a"/>
<circle cx="216.8" cy="559.6" r="1.45" fill="#1a4f8a"/>
<circle cx="218.4" cy="556.3" r="1.45" fill="#1a4f8a"/>
<circle cx="220.1" cy="556.3" r="1.45" fill="#1a4f8a"/>
<circle cx="221.9" cy="567.1" r="1.45" fill="#1a4f8a"/>
<circle cx="223.9" cy="567.1" r="1.45" fill="#1a4f8a"/>
<circle cx="225.7" cy="563.4" r="1.45" fill="#1a4f8a"/>
<circle cx="229.0" cy="545.7" r="1.45" fill="#1a4f8a"/>
<circle cx="46.3" cy="544.2" r="1.5" fill="#d0102a"/>
<circle cx="133.3" cy="546.2" r="1.5" fill="#d0102a"/>
<circle cx="189.8" cy="538.6" r="1.5" fill="#d0102a"/>
<text x="264.60" y="418.40" font-size="11.2" fill="#000" stroke="#000" stroke-width="0.35" font-weight="bold" >H</text>
<text x="264.80" y="436.50" font-size="8.3" fill="#222" stroke="#222" stroke-width="0.2" textLength="28.30" lengthAdjust="spacingAndGlyphs" >SUDHL1</text>
<text x="319.70" y="443.00" font-size="7.6" fill="#222" stroke="#222" stroke-width="0.2" textLength="9.90" lengthAdjust="spacingAndGlyphs" transform="rotate(-45 319.70 443.00)" >EV</text>
<text x="338.50" y="443.00" font-size="7.6" fill="#222" stroke="#222" stroke-width="0.2" textLength="29.00" lengthAdjust="spacingAndGlyphs" transform="rotate(-45 338.50 443.00)" >CSNK2B</text>
<text x="264.80" y="457.00" font-size="8.4" fill="#222" stroke="#222" stroke-width="0.2" textLength="19.50" lengthAdjust="spacingAndGlyphs" >CK2&#946;</text>
<text x="264.80" y="473.60" font-size="8.4" fill="#222" stroke="#222" stroke-width="0.2" textLength="43.00" lengthAdjust="spacingAndGlyphs" >c-Jun-pS249</text>
<text x="264.80" y="491.60" font-size="8.4" fill="#222" stroke="#222" stroke-width="0.2" textLength="18.20" lengthAdjust="spacingAndGlyphs" >c-Jun</text>
<text x="264.80" y="509.30" font-size="8.4" fill="#222" stroke="#222" stroke-width="0.2" textLength="32.00" lengthAdjust="spacingAndGlyphs" >&#945;-Tubulin</text>
<rect x="311.75" y="446.75" width="37.60" height="14.50" fill="#e5e6e8" stroke="#1a1a1a" stroke-width="1.1" />
<path d="M314.55 453.70 Q314.55 452.70 316.31 452.90 L325.29 452.90 Q327.05 452.70 327.05 453.70 Q327.05 455.20 325.29 455.10 L316.31 455.10 Q314.55 455.20 314.55 453.70 Z" fill="#151515" filter="url(#bl)"/>
<path d="M332.10 453.70 Q332.10 452.00 334.98 452.20 L344.22 452.20 Q347.10 452.00 347.10 453.70 Q347.10 455.90 344.22 455.80 L334.98 455.80 Q332.10 455.90 332.10 453.70 Z" fill="#0a0a0a" filter="url(#bl)"/>
<rect x="311.75" y="464.75" width="37.60" height="14.20" fill="#e5e6e8" stroke="#1a1a1a" stroke-width="1.1" />
<path d="M314.50 471.55 Q314.50 470.35 316.58 470.55 L324.42 470.55 Q326.50 470.35 326.50 471.55 Q326.50 473.25 324.42 473.15 L316.58 473.15 Q314.50 473.25 314.50 471.55 Z" fill="#5a5a5a" filter="url(#bl)"/>
<path d="M333.75 471.55 Q333.75 469.85 336.63 470.05 L344.37 470.05 Q347.25 469.85 347.25 471.55 Q347.25 473.75 344.37 473.65 L336.63 473.65 Q333.75 473.75 333.75 471.55 Z" fill="#0d0d0d" filter="url(#bl)"/>
<rect x="311.75" y="482.15" width="37.60" height="14.70" fill="#e5e6e8" stroke="#1a1a1a" stroke-width="1.1" />
<path d="M314.25 489.20 Q314.25 487.70 316.81 487.90 L325.19 487.90 Q327.75 487.70 327.75 489.20 Q327.75 491.20 325.19 491.10 L316.81 491.10 Q314.25 491.20 314.25 489.20 Z" fill="#111" filter="url(#bl)"/>
<path d="M334.75 489.20 Q334.75 488.30 336.35 488.50 L345.65 488.50 Q347.25 488.30 347.25 489.20 Q347.25 490.60 345.65 490.50 L336.35 490.50 Q334.75 490.60 334.75 489.20 Z" fill="#444" filter="url(#bl)"/>
<rect x="311.75" y="499.85" width="37.60" height="14.50" fill="#e5e6e8" stroke="#1a1a1a" stroke-width="1.1" />
<path d="M314.00 506.80 Q314.00 504.80 317.36 505.00 L325.64 505.00 Q329.00 504.80 329.00 506.80 Q329.00 509.30 325.64 509.20 L317.36 509.20 Q314.00 509.30 314.00 506.80 Z" fill="#0a0a0a" filter="url(#bl)"/>
<path d="M332.00 506.80 Q332.00 504.80 335.36 505.00 L344.64 505.00 Q348.00 504.80 348.00 506.80 Q348.00 509.30 344.64 509.20 L335.36 509.20 Q332.00 509.30 332.00 506.80 Z" fill="#0a0a0a" filter="url(#bl)"/>
<text x="388.50" y="436.50" font-size="8.8" fill="#111" stroke="#111" stroke-width="0.2" textLength="50.90" lengthAdjust="spacingAndGlyphs" >pS249/Total</text>
<text x="368.60" y="476.90" font-size="8.4" fill="#222" stroke="#222" stroke-width="0.2" text-anchor="middle" textLength="58.30" lengthAdjust="spacingAndGlyphs" transform="rotate(-90 368.60 476.90)" >pS249/total c-Jun</text>
<text x="377.80" y="477.30" font-size="8.4" fill="#222" stroke="#222" stroke-width="0.2" text-anchor="middle" textLength="79.50" lengthAdjust="spacingAndGlyphs" transform="rotate(-90 377.80 477.30)" >normalized to EV control</text>
<line x1="391.90" y1="446.20" x2="391.90" y2="509.30" stroke="#222" stroke-width="1.3" />
<line x1="391.30" y1="508.70" x2="431.70" y2="508.70" stroke="#222" stroke-width="1.4" />
<line x1="388.70" y1="508.70" x2="391.90" y2="508.70" stroke="#222" stroke-width="1.0" />
<text x="386.10" y="511.50" font-size="7.6" fill="#222" stroke="#222" stroke-width="0.2" text-anchor="end" >0</text>
<line x1="388.70" y1="489.00" x2="391.90" y2="489.00" stroke="#222" stroke-width="1.0" />
<text x="386.10" y="491.80" font-size="7.6" fill="#222" stroke="#222" stroke-width="0.2" text-anchor="end" >1</text>
<line x1="388.70" y1="469.30" x2="391.90" y2="469.30" stroke="#222" stroke-width="1.0" />
<text x="386.10" y="472.10" font-size="7.6" fill="#222" stroke="#222" stroke-width="0.2" text-anchor="end" >2</text>
<line x1="388.70" y1="449.60" x2="391.90" y2="449.60" stroke="#222" stroke-width="1.0" />
<text x="386.10" y="452.40" font-size="7.6" fill="#222" stroke="#222" stroke-width="0.2" text-anchor="end" >3</text>
<rect x="398.00" y="489.99" width="10.70" height="18.71" fill="#d0103a" />
<line x1="403.35" y1="508.70" x2="403.35" y2="511.30" stroke="#222" stroke-width="1.0" />
<line x1="403.35" y1="484.27" x2="403.35" y2="489.99" stroke="#8a8a8a" stroke-width="1.0" />
<line x1="400.55" y1="484.27" x2="406.15" y2="484.27" stroke="#333" stroke-width="1.0" />
<rect x="415.40" y="461.81" width="10.20" height="46.89" fill="#13508a" />
<line x1="420.50" y1="508.70" x2="420.50" y2="511.30" stroke="#222" stroke-width="1.0" />
<line x1="420.50" y1="452.36" x2="420.50" y2="461.81" stroke="#8a8a8a" stroke-width="1.0" />
<line x1="417.70" y1="452.36" x2="423.30" y2="452.36" stroke="#333" stroke-width="1.0" />
<line x1="402.90" y1="446.70" x2="419.20" y2="446.70" stroke="#222" stroke-width="1.1" />
<path d="M411.05 442.05 L411.05 444.55 M409.97 442.68 L412.13 443.93 M412.13 442.68 L409.97 443.93 " stroke="#111" stroke-width="0.95" fill="none" stroke-linecap="round"/>
<text x="406.10" y="519.20" font-size="7.2" fill="#222" stroke="#222" stroke-width="0.2" text-anchor="end" transform="rotate(-45 406.10 519.20)" >EV</text>
<text x="423.30" y="519.20" font-size="7.4" fill="#222" stroke="#222" stroke-width="0.2" text-anchor="end" textLength="29.50" lengthAdjust="spacingAndGlyphs" transform="rotate(-45 423.30 519.20)" >CSNK2B</text>
<text x="446.20" y="418.00" font-size="11.2" fill="#000" stroke="#000" stroke-width="0.35" font-weight="bold" >I</text>
<text x="480.50" y="437.40" font-size="8.8" fill="#111" stroke="#111" stroke-width="0.2" textLength="24.30" lengthAdjust="spacingAndGlyphs" >Day 8</text>
<text x="455.00" y="475.00" font-size="9.4" fill="#222" stroke="#222" stroke-width="0.2" text-anchor="middle" textLength="40.50" lengthAdjust="spacingAndGlyphs" transform="rotate(-90 455.00 475.00)" >Fold change</text>
<line x1="471.60" y1="441.60" x2="471.60" y2="509.60" stroke="#222" stroke-width="1.3" />
<line x1="471.00" y1="509.00" x2="513.00" y2="509.00" stroke="#222" stroke-width="1.4" />
<line x1="468.40" y1="509.00" x2="471.60" y2="509.00" stroke="#222" stroke-width="1.0" />
<text x="465.80" y="511.80" font-size="7.6" fill="#222" stroke="#222" stroke-width="0.2" text-anchor="end" >0</text>
<line x1="468.40" y1="496.08" x2="471.60" y2="496.08" stroke="#222" stroke-width="1.0" />
<text x="465.80" y="498.88" font-size="7.6" fill="#222" stroke="#222" stroke-width="0.2" text-anchor="end" >2</text>
<line x1="468.40" y1="483.16" x2="471.60" y2="483.16" stroke="#222" stroke-width="1.0" />
<text x="465.80" y="485.96" font-size="7.6" fill="#222" stroke="#222" stroke-width="0.2" text-anchor="end" >4</text>
<line x1="468.40" y1="470.24" x2="471.60" y2="470.24" stroke="#222" stroke-width="1.0" />
<text x="465.80" y="473.04" font-size="7.6" fill="#222" stroke="#222" stroke-width="0.2" text-anchor="end" >6</text>
<line x1="468.40" y1="457.32" x2="471.60" y2="457.32" stroke="#222" stroke-width="1.0" />
<text x="465.80" y="460.12" font-size="7.6" fill="#222" stroke="#222" stroke-width="0.2" text-anchor="end" >8</text>
<line x1="468.40" y1="444.40" x2="471.60" y2="444.40" stroke="#222" stroke-width="1.0" />
<text x="465.80" y="447.20" font-size="7.6" fill="#222" stroke="#222" stroke-width="0.2" text-anchor="end" >10</text>
<rect x="478.00" y="504.15" width="11.30" height="4.85" fill="#d0103a" />
<line x1="483.65" y1="509.00" x2="483.65" y2="511.60" stroke="#222" stroke-width="1.0" />
<line x1="483.65" y1="501.38" x2="483.65" y2="504.15" stroke="#8a8a8a" stroke-width="1.0" />
<line x1="480.85" y1="501.38" x2="486.45" y2="501.38" stroke="#333" stroke-width="1.0" />
<rect x="496.30" y="468.95" width="11.30" height="40.05" fill="#13508a" />
<line x1="501.95" y1="509.00" x2="501.95" y2="511.60" stroke="#222" stroke-width="1.0" />
<line x1="501.95" y1="458.29" x2="501.95" y2="468.95" stroke="#8a8a8a" stroke-width="1.0" />
<line x1="499.15" y1="458.29" x2="504.75" y2="458.29" stroke="#333" stroke-width="1.0" />
<line x1="483.50" y1="446.20" x2="500.80" y2="446.20" stroke="#222" stroke-width="1.1" />
<path d="M488.95 441.55 L488.95 444.05 M487.87 442.18 L490.03 443.43 M490.03 442.18 L487.87 443.43 " stroke="#111" stroke-width="0.95" fill="none" stroke-linecap="round"/>
<path d="M492.15 441.55 L492.15 444.05 M491.07 442.18 L493.23 443.43 M493.23 442.18 L491.07 443.43 " stroke="#111" stroke-width="0.95" fill="none" stroke-linecap="round"/>
<path d="M495.35 441.55 L495.35 444.05 M494.27 442.18 L496.43 443.43 M496.43 442.18 L494.27 443.43 " stroke="#111" stroke-width="0.95" fill="none" stroke-linecap="round"/>
<text x="486.40" y="519.50" font-size="7.2" fill="#222" stroke="#222" stroke-width="0.2" text-anchor="end" transform="rotate(-45 486.40 519.50)" >EV</text>
<text x="504.70" y="519.50" font-size="7.4" fill="#222" stroke="#222" stroke-width="0.2" text-anchor="end" textLength="29.50" lengthAdjust="spacingAndGlyphs" transform="rotate(-45 504.70 519.50)" >CSNK2B</text>
<text x="252.50" y="593.70" font-size="11.2" fill="#000" stroke="#000" stroke-width="0.35" font-weight="bold" >J</text>
<text x="252.70" y="605.80" font-size="8.3" fill="#222" stroke="#222" stroke-width="0.2" textLength="15.60" lengthAdjust="spacingAndGlyphs" >KIJK</text>
<text x="311.60" y="607.90" font-size="7.6" fill="#222" stroke="#222" stroke-width="0.2" textLength="9.00" lengthAdjust="spacingAndGlyphs" transform="rotate(-45 311.60 607.90)" >EV</text>
<text x="329.10" y="607.90" font-size="7.6" fill="#222" stroke="#222" stroke-width="0.2" textLength="29.00" lengthAdjust="spacingAndGlyphs" transform="rotate(-45 329.10 607.90)" >CSNK2B</text>
<text x="252.70" y="621.40" font-size="8.4" fill="#222" stroke="#222" stroke-width="0.2" textLength="19.50" lengthAdjust="spacingAndGlyphs" >CK2&#946;</text>
<text x="252.70" y="638.10" font-size="8.4" fill="#222" stroke="#222" stroke-width="0.2" textLength="43.00" lengthAdjust="spacingAndGlyphs" >c-Jun-pS249</text>
<text x="252.70" y="656.40" font-size="8.4" fill="#222" stroke="#222" stroke-width="0.2" textLength="18.20" lengthAdjust="spacingAndGlyphs" >c-Jun</text>
<text x="252.70" y="673.60" font-size="8.4" fill="#222" stroke="#222" stroke-width="0.2" textLength="32.00" lengthAdjust="spacingAndGlyphs" >&#945;-Tubulin</text>
<rect x="300.35" y="610.85" width="38.00" height="14.60" fill="#e5e6e8" stroke="#1a1a1a" stroke-width="1.1" />
<path d="M303.50 617.85 Q303.50 616.45 305.90 616.65 L313.10 616.65 Q315.50 616.45 315.50 617.85 Q315.50 619.75 313.10 619.65 L305.90 619.65 Q303.50 619.75 303.50 617.85 Z" fill="#1a1a1a" filter="url(#bl)"/>
<path d="M321.00 617.85 Q321.00 615.85 324.36 616.05 L332.64 616.05 Q336.00 615.85 336.00 617.85 Q336.00 620.35 332.64 620.25 L324.36 620.25 Q321.00 620.35 321.00 617.85 Z" fill="#0a0a0a" filter="url(#bl)"/>
<rect x="300.35" y="628.45" width="38.00" height="14.50" fill="#e5e6e8" stroke="#1a1a1a" stroke-width="1.1" />
<path d="M303.50 635.40 Q303.50 634.60 304.94 634.80 L313.06 634.80 Q314.50 634.60 314.50 635.40 Q314.50 636.70 313.06 636.60 L304.94 636.60 Q303.50 636.70 303.50 635.40 Z" fill="#8a8a8a" filter="url(#bl)"/>
<path d="M322.00 635.40 Q322.00 634.20 324.08 634.40 L332.92 634.40 Q335.00 634.20 335.00 635.40 Q335.00 637.10 332.92 637.00 L324.08 637.00 Q322.00 637.10 322.00 635.40 Z" fill="#303030" filter="url(#bl)"/>
<rect x="300.35" y="646.15" width="38.00" height="14.50" fill="#e5e6e8" stroke="#1a1a1a" stroke-width="1.1" />
<path d="M302.75 653.10 Q302.75 651.70 305.15 651.90 L313.85 651.90 Q316.25 651.70 316.25 653.10 Q316.25 655.00 313.85 654.90 L305.15 654.90 Q302.75 655.00 302.75 653.10 Z" fill="#151515" filter="url(#bl)"/>
<path d="M322.50 653.10 Q322.50 652.00 324.42 652.20 L332.58 652.20 Q334.50 652.00 334.50 653.10 Q334.50 654.70 332.58 654.60 L324.42 654.60 Q322.50 654.70 322.50 653.10 Z" fill="#444" filter="url(#bl)"/>
<rect x="300.35" y="663.45" width="38.00" height="14.50" fill="#e5e6e8" stroke="#1a1a1a" stroke-width="1.1" />
<path d="M302.50 670.40 Q302.50 668.60 305.54 668.80 L313.46 668.80 Q316.50 668.60 316.50 670.40 Q316.50 672.70 313.46 672.60 L305.54 672.60 Q302.50 672.70 302.50 670.40 Z" fill="#0a0a0a" filter="url(#bl)"/>
<path d="M321.50 670.40 Q321.50 668.60 324.54 668.80 L332.46 668.80 Q335.50 668.60 335.50 670.40 Q335.50 672.70 332.46 672.60 L324.54 672.60 Q321.50 672.70 321.50 670.40 Z" fill="#0a0a0a" filter="url(#bl)"/>
<text x="384.20" y="601.70" font-size="8.8" fill="#111" stroke="#111" stroke-width="0.2" textLength="50.80" lengthAdjust="spacingAndGlyphs" >pS249/Total</text>
<text x="361.50" y="643.00" font-size="8.4" fill="#222" stroke="#222" stroke-width="0.2" text-anchor="middle" textLength="58.60" lengthAdjust="spacingAndGlyphs" transform="rotate(-90 361.50 643.00)" >pS249/total c-Jun</text>
<text x="371.00" y="643.00" font-size="8.4" fill="#222" stroke="#222" stroke-width="0.2" text-anchor="middle" textLength="80.00" lengthAdjust="spacingAndGlyphs" transform="rotate(-90 371.00 643.00)" >normalized to EV control</text>
<line x1="387.40" y1="611.30" x2="387.40" y2="674.90" stroke="#222" stroke-width="1.3" />
<line x1="386.80" y1="674.30" x2="425.90" y2="674.30" stroke="#222" stroke-width="1.4" />
<line x1="384.20" y1="674.30" x2="387.40" y2="674.30" stroke="#222" stroke-width="1.0" />
<text x="381.60" y="677.10" font-size="7.6" fill="#222" stroke="#222" stroke-width="0.2" text-anchor="end" >0</text>
<line x1="384.20" y1="659.62" x2="387.40" y2="659.62" stroke="#222" stroke-width="1.0" />
<text x="381.60" y="662.42" font-size="7.6" fill="#222" stroke="#222" stroke-width="0.2" text-anchor="end" >1</text>
<line x1="384.20" y1="644.95" x2="387.40" y2="644.95" stroke="#222" stroke-width="1.0" />
<text x="381.60" y="647.75" font-size="7.6" fill="#222" stroke="#222" stroke-width="0.2" text-anchor="end" >2</text>
<line x1="384.20" y1="630.27" x2="387.40" y2="630.27" stroke="#222" stroke-width="1.0" />
<text x="381.60" y="633.07" font-size="7.6" fill="#222" stroke="#222" stroke-width="0.2" text-anchor="end" >3</text>
<line x1="384.20" y1="615.60" x2="387.40" y2="615.60" stroke="#222" stroke-width="1.0" />
<text x="381.60" y="618.40" font-size="7.6" fill="#222" stroke="#222" stroke-width="0.2" text-anchor="end" >4</text>
<rect x="393.20" y="660.07" width="10.60" height="14.23" fill="#d0103a" />
<line x1="398.50" y1="674.30" x2="398.50" y2="676.90" stroke="#222" stroke-width="1.0" />
<line x1="398.50" y1="658.60" x2="398.50" y2="660.07" stroke="#8a8a8a" stroke-width="1.0" />
<line x1="395.70" y1="658.60" x2="401.30" y2="658.60" stroke="#333" stroke-width="1.0" />
<rect x="410.30" y="626.17" width="10.20" height="48.13" fill="#13508a" />
<line x1="415.40" y1="674.30" x2="415.40" y2="676.90" stroke="#222" stroke-width="1.0" />
<line x1="415.40" y1="617.07" x2="415.40" y2="626.17" stroke="#8a8a8a" stroke-width="1.0" />
<line x1="412.60" y1="617.07" x2="418.20" y2="617.07" stroke="#333" stroke-width="1.0" />
<line x1="398.00" y1="611.30" x2="414.10" y2="611.30" stroke="#222" stroke-width="1.1" />
<path d="M404.45 606.65 L404.45 609.15 M403.37 607.27 L405.53 608.52 M405.53 607.27 L403.37 608.52 " stroke="#111" stroke-width="0.95" fill="none" stroke-linecap="round"/>
<path d="M407.65 606.65 L407.65 609.15 M406.57 607.27 L408.73 608.52 M408.73 607.27 L406.57 608.52 " stroke="#111" stroke-width="0.95" fill="none" stroke-linecap="round"/>
<text x="401.30" y="684.80" font-size="7.2" fill="#222" stroke="#222" stroke-width="0.2" text-anchor="end" transform="rotate(-45 401.30 684.80)" >EV</text>
<text x="418.20" y="684.80" font-size="7.4" fill="#222" stroke="#222" stroke-width="0.2" text-anchor="end" textLength="29.50" lengthAdjust="spacingAndGlyphs" transform="rotate(-45 418.20 684.80)" >CSNK2B</text>
<text x="448.30" y="593.20" font-size="11.2" fill="#000" stroke="#000" stroke-width="0.35" font-weight="bold" >K</text>
<text x="480.50" y="601.60" font-size="8.8" fill="#111" stroke="#111" stroke-width="0.2" textLength="23.50" lengthAdjust="spacingAndGlyphs" >Day 8</text>
<text x="454.80" y="641.60" font-size="9.4" fill="#222" stroke="#222" stroke-width="0.2" text-anchor="middle" textLength="39.60" lengthAdjust="spacingAndGlyphs" transform="rotate(-90 454.80 641.60)" >Fold change</text>
<line x1="471.60" y1="608.00" x2="471.60" y2="675.20" stroke="#222" stroke-width="1.3" />
<line x1="471.00" y1="674.60" x2="513.60" y2="674.60" stroke="#222" stroke-width="1.4" />
<line x1="468.40" y1="674.60" x2="471.60" y2="674.60" stroke="#222" stroke-width="1.0" />
<text x="465.80" y="677.40" font-size="7.6" fill="#222" stroke="#222" stroke-width="0.2" text-anchor="end" >0</text>
<line x1="468.40" y1="658.75" x2="471.60" y2="658.75" stroke="#222" stroke-width="1.0" />
<text x="465.80" y="661.55" font-size="7.6" fill="#222" stroke="#222" stroke-width="0.2" text-anchor="end" >2</text>
<line x1="468.40" y1="642.90" x2="471.60" y2="642.90" stroke="#222" stroke-width="1.0" />
<text x="465.80" y="645.70" font-size="7.6" fill="#222" stroke="#222" stroke-width="0.2" text-anchor="end" >4</text>
<line x1="468.40" y1="627.05" x2="471.60" y2="627.05" stroke="#222" stroke-width="1.0" />
<text x="465.80" y="629.85" font-size="7.6" fill="#222" stroke="#222" stroke-width="0.2" text-anchor="end" >6</text>
<line x1="468.40" y1="611.20" x2="471.60" y2="611.20" stroke="#222" stroke-width="1.0" />
<text x="465.80" y="614.00" font-size="7.6" fill="#222" stroke="#222" stroke-width="0.2" text-anchor="end" >8</text>
<rect x="478.00" y="666.68" width="11.00" height="7.92" fill="#d0103a" />
<line x1="483.50" y1="674.60" x2="483.50" y2="677.20" stroke="#222" stroke-width="1.0" />
<line x1="483.50" y1="664.06" x2="483.50" y2="666.68" stroke="#8a8a8a" stroke-width="1.0" />
<line x1="480.70" y1="664.06" x2="486.30" y2="664.06" stroke="#333" stroke-width="1.0" />
<rect x="495.90" y="631.01" width="11.30" height="43.59" fill="#13508a" />
<line x1="501.55" y1="674.60" x2="501.55" y2="677.20" stroke="#222" stroke-width="1.0" />
<line x1="501.55" y1="626.26" x2="501.55" y2="631.01" stroke="#8a8a8a" stroke-width="1.0" />
<line x1="498.75" y1="626.26" x2="504.35" y2="626.26" stroke="#333" stroke-width="1.0" />
<line x1="484.40" y1="620.40" x2="500.80" y2="620.40" stroke="#222" stroke-width="1.1" />
<path d="M489.40 615.75 L489.40 618.25 M488.32 616.38 L490.48 617.62 M490.48 616.38 L488.32 617.62 " stroke="#111" stroke-width="0.95" fill="none" stroke-linecap="round"/>
<path d="M492.60 615.75 L492.60 618.25 M491.52 616.38 L493.68 617.62 M493.68 616.38 L491.52 617.62 " stroke="#111" stroke-width="0.95" fill="none" stroke-linecap="round"/>
<path d="M495.80 615.75 L495.80 618.25 M494.72 616.38 L496.88 617.62 M496.88 616.38 L494.72 617.62 " stroke="#111" stroke-width="0.95" fill="none" stroke-linecap="round"/>
<text x="486.30" y="685.10" font-size="7.2" fill="#222" stroke="#222" stroke-width="0.2" text-anchor="end" transform="rotate(-45 486.30 685.10)" >EV</text>
<text x="504.30" y="685.10" font-size="7.4" fill="#222" stroke="#222" stroke-width="0.2" text-anchor="end" textLength="29.50" lengthAdjust="spacingAndGlyphs" transform="rotate(-45 504.30 685.10)" >CSNK2B</text>
<text x="6.80" y="593.80" font-size="11.2" fill="#000" stroke="#000" stroke-width="0.35" font-weight="bold" >L</text>
<text x="13.50" y="646.40" font-size="8.8" fill="#222" stroke="#222" stroke-width="0.2" text-anchor="middle" textLength="71.80" lengthAdjust="spacingAndGlyphs" transform="rotate(-90 13.50 646.40)" >Probability of survival</text>
<line x1="38.30" y1="602.00" x2="38.30" y2="692.60" stroke="#222" stroke-width="1.2" />
<line x1="37.70" y1="692.00" x2="170.70" y2="692.00" stroke="#222" stroke-width="1.2" />
<line x1="36.60" y1="692.00" x2="38.30" y2="692.00" stroke="#333" stroke-width="0.6" />
<line x1="36.60" y1="690.04" x2="38.30" y2="690.04" stroke="#333" stroke-width="0.6" />
<line x1="36.60" y1="688.09" x2="38.30" y2="688.09" stroke="#333" stroke-width="0.6" />
<line x1="36.60" y1="686.13" x2="38.30" y2="686.13" stroke="#333" stroke-width="0.6" />
<line x1="36.60" y1="684.17" x2="38.30" y2="684.17" stroke="#333" stroke-width="0.6" />
<line x1="36.60" y1="682.22" x2="38.30" y2="682.22" stroke="#333" stroke-width="0.6" />
<line x1="36.60" y1="680.26" x2="38.30" y2="680.26" stroke="#333" stroke-width="0.6" />
<line x1="36.60" y1="678.31" x2="38.30" y2="678.31" stroke="#333" stroke-width="0.6" />
<line x1="36.60" y1="676.35" x2="38.30" y2="676.35" stroke="#333" stroke-width="0.6" />
<line x1="36.60" y1="674.39" x2="38.30" y2="674.39" stroke="#333" stroke-width="0.6" />
<line x1="36.60" y1="672.44" x2="38.30" y2="672.44" stroke="#333" stroke-width="0.6" />
<line x1="36.60" y1="670.48" x2="38.30" y2="670.48" stroke="#333" stroke-width="0.6" />
<line x1="36.60" y1="668.52" x2="38.30" y2="668.52" stroke="#333" stroke-width="0.6" />
<line x1="36.60" y1="666.57" x2="38.30" y2="666.57" stroke="#333" stroke-width="0.6" />
<line x1="36.60" y1="664.61" x2="38.30" y2="664.61" stroke="#333" stroke-width="0.6" />
<line x1="36.60" y1="662.66" x2="38.30" y2="662.66" stroke="#333" stroke-width="0.6" />
<line x1="36.60" y1="660.70" x2="38.30" y2="660.70" stroke="#333" stroke-width="0.6" />
<line x1="36.60" y1="658.74" x2="38.30" y2="658.74" stroke="#333" stroke-width="0.6" />
<line x1="36.60" y1="656.79" x2="38.30" y2="656.79" stroke="#333" stroke-width="0.6" />
<line x1="36.60" y1="654.83" x2="38.30" y2="654.83" stroke="#333" stroke-width="0.6" />
<line x1="36.60" y1="652.88" x2="38.30" y2="652.88" stroke="#333" stroke-width="0.6" />
<line x1="36.60" y1="650.92" x2="38.30" y2="650.92" stroke="#333" stroke-width="0.6" />
<line x1="36.60" y1="648.96" x2="38.30" y2="648.96" stroke="#333" stroke-width="0.6" />
<line x1="36.60" y1="647.01" x2="38.30" y2="647.01" stroke="#333" stroke-width="0.6" />
<line x1="36.60" y1="645.05" x2="38.30" y2="645.05" stroke="#333" stroke-width="0.6" />
<line x1="36.60" y1="643.09" x2="38.30" y2="643.09" stroke="#333" stroke-width="0.6" />
<line x1="36.60" y1="641.14" x2="38.30" y2="641.14" stroke="#333" stroke-width="0.6" />
<line x1="36.60" y1="639.18" x2="38.30" y2="639.18" stroke="#333" stroke-width="0.6" />
<line x1="36.60" y1="637.23" x2="38.30" y2="637.23" stroke="#333" stroke-width="0.6" />
<line x1="36.60" y1="635.27" x2="38.30" y2="635.27" stroke="#333" stroke-width="0.6" />
<line x1="36.60" y1="633.31" x2="38.30" y2="633.31" stroke="#333" stroke-width="0.6" />
<line x1="36.60" y1="631.36" x2="38.30" y2="631.36" stroke="#333" stroke-width="0.6" />
<line x1="36.60" y1="629.40" x2="38.30" y2="629.40" stroke="#333" stroke-width="0.6" />
<line x1="36.60" y1="627.44" x2="38.30" y2="627.44" stroke="#333" stroke-width="0.6" />
<line x1="36.60" y1="625.49" x2="38.30" y2="625.49" stroke="#333" stroke-width="0.6" />
<line x1="36.60" y1="623.53" x2="38.30" y2="623.53" stroke="#333" stroke-width="0.6" />
<line x1="36.60" y1="621.58" x2="38.30" y2="621.58" stroke="#333" stroke-width="0.6" />
<line x1="36.60" y1="619.62" x2="38.30" y2="619.62" stroke="#333" stroke-width="0.6" />
<line x1="36.60" y1="617.66" x2="38.30" y2="617.66" stroke="#333" stroke-width="0.6" />
<line x1="36.60" y1="615.71" x2="38.30" y2="615.71" stroke="#333" stroke-width="0.6" />
<line x1="36.60" y1="613.75" x2="38.30" y2="613.75" stroke="#333" stroke-width="0.6" />
<line x1="36.60" y1="611.79" x2="38.30" y2="611.79" stroke="#333" stroke-width="0.6" />
<line x1="36.60" y1="609.84" x2="38.30" y2="609.84" stroke="#333" stroke-width="0.6" />
<line x1="36.60" y1="607.88" x2="38.30" y2="607.88" stroke="#333" stroke-width="0.6" />
<line x1="36.60" y1="605.92" x2="38.30" y2="605.92" stroke="#333" stroke-width="0.6" />
<line x1="36.60" y1="603.97" x2="38.30" y2="603.97" stroke="#333" stroke-width="0.6" />
<line x1="36.60" y1="602.01" x2="38.30" y2="602.01" stroke="#333" stroke-width="0.6" />
<line x1="35.10" y1="692.00" x2="38.30" y2="692.00" stroke="#222" stroke-width="1.0" />
<text x="32.90" y="694.80" font-size="7.8" fill="#222" stroke="#222" stroke-width="0.2" text-anchor="end" >0</text>
<line x1="35.10" y1="652.88" x2="38.30" y2="652.88" stroke="#222" stroke-width="1.0" />
<text x="32.90" y="655.67" font-size="7.8" fill="#222" stroke="#222" stroke-width="0.2" text-anchor="end" >50</text>
<line x1="35.10" y1="613.75" x2="38.30" y2="613.75" stroke="#222" stroke-width="1.0" />
<text x="32.90" y="616.55" font-size="7.8" fill="#222" stroke="#222" stroke-width="0.2" text-anchor="end" >100</text>
<line x1="38.30" y1="692.00" x2="38.30" y2="694.60" stroke="#222" stroke-width="0.9" />
<line x1="64.08" y1="692.00" x2="64.08" y2="694.60" stroke="#222" stroke-width="0.9" />
<line x1="89.86" y1="692.00" x2="89.86" y2="694.60" stroke="#222" stroke-width="0.9" />
<line x1="115.64" y1="692.00" x2="115.64" y2="694.60" stroke="#222" stroke-width="0.9" />
<line x1="141.42" y1="692.00" x2="141.42" y2="694.60" stroke="#222" stroke-width="0.9" />
<line x1="167.20" y1="692.00" x2="167.20" y2="694.60" stroke="#222" stroke-width="0.9" />
<text x="38.30" y="704.50" font-size="7.8" fill="#222" stroke="#222" stroke-width="0.2" text-anchor="middle" >0</text>
<text x="64.08" y="704.50" font-size="7.8" fill="#222" stroke="#222" stroke-width="0.2" text-anchor="middle" >12</text>
<text x="89.86" y="704.50" font-size="7.8" fill="#222" stroke="#222" stroke-width="0.2" text-anchor="middle" >24</text>
<text x="115.64" y="704.50" font-size="7.8" fill="#222" stroke="#222" stroke-width="0.2" text-anchor="middle" >36</text>
<text x="141.42" y="704.50" font-size="7.8" fill="#222" stroke="#222" stroke-width="0.2" text-anchor="middle" >48</text>
<text x="167.20" y="704.50" font-size="7.8" fill="#222" stroke="#222" stroke-width="0.2" text-anchor="middle" >60</text>
<path d="M38.30 613.75 L38.73 613.75 L38.73 639.57 L42.38 639.57 L42.38 652.88 L50.98 652.88 L50.98 666.18 L53.34 666.18 L53.34 678.70 L59.57 678.70 L59.57 678.70" fill="none" stroke="#d0103a" stroke-width="1.3" />
<line x1="59.57" y1="677.10" x2="59.57" y2="679.00" stroke="#111" stroke-width="0.9" />
<path d="M38.30 613.75 L41.74 613.75 L41.74 626.58 L66.23 626.58 L66.23 632.06 L70.52 632.06 L70.52 637.23 L98.45 637.23 L98.45 644.27 L126.38 644.27 L126.38 651.31 L167.20 651.31 L167.20 651.31" fill="none" stroke="#3cb44a" stroke-width="1.3" />
<line x1="57.63" y1="624.98" x2="57.63" y2="626.88" stroke="#111" stroke-width="0.9" />
<line x1="72.46" y1="635.62" x2="72.46" y2="637.52" stroke="#111" stroke-width="0.9" />
<line x1="94.59" y1="635.62" x2="94.59" y2="637.52" stroke="#111" stroke-width="0.9" />
<line x1="150.01" y1="649.71" x2="150.01" y2="651.61" stroke="#111" stroke-width="0.9" />
<line x1="167.20" y1="649.71" x2="167.20" y2="651.61" stroke="#111" stroke-width="0.9" />
<path d="M38.30 613.75 L38.94 613.75 L38.94 616.10 L40.45 616.10 L40.45 617.27 L41.74 617.27 L41.74 618.52 L43.24 618.52 L43.24 620.79 L44.53 620.79 L44.53 623.30 L46.46 623.30 L46.46 626.19 L47.97 626.19 L47.97 627.44 L49.47 627.44 L49.47 629.01 L50.98 629.01 L50.98 630.97 L52.26 630.97 L52.26 632.92 L53.77 632.92 L53.77 634.49 L55.27 634.49 L55.27 635.82 L56.56 635.82 L56.56 637.23 L58.06 637.23 L58.06 638.71 L59.57 638.71 L59.57 639.57 L61.07 639.57 L61.07 640.59 L62.36 640.59 L62.36 641.53 L63.87 641.53 L63.87 642.47 L66.66 642.47 L66.66 643.49 L68.16 643.49 L68.16 644.27 L69.67 644.27 L69.67 645.36 L72.46 645.36 L72.46 646.30 L74.39 646.30 L74.39 650.76 L94.16 650.76 L94.16 652.41 L95.66 652.41 L95.66 653.97 L96.95 653.97 L96.95 656.40 L98.45 656.40 L98.45 658.82 L108.12 658.82 L108.12 659.76 L110.91 659.76 L110.91 661.72 L113.71 661.72 L113.71 662.66 L115.64 662.66 L115.64 663.67 L117.79 663.67 L117.79 664.61 L120.58 664.61 L120.58 667.51 L167.20 667.51 L167.20 667.51" fill="none" stroke="#1a4f8a" stroke-width="1.3" />
<line x1="167.20" y1="665.91" x2="167.20" y2="667.81" stroke="#111" stroke-width="0.9" />
<path d="M38.30 613.75 L55.49 613.75" fill="none" stroke="#7b3fa0" stroke-width="1.3" />
<line x1="55.49" y1="612.15" x2="55.49" y2="614.05" stroke="#111" stroke-width="0.9" />
<text x="98.60" y="626.40" font-size="7.6" fill="#222" stroke="#222" stroke-width="0.2" textLength="30.80" lengthAdjust="spacingAndGlyphs"><tspan font-style="italic">P</tspan><tspan> = 0.007</tspan></text>
<line x1="147.00" y1="601.60" x2="154.20" y2="601.60" stroke="#d0103a" stroke-width="1.3" />
<line x1="150.60" y1="600.10" x2="150.60" y2="601.60" stroke="#111" stroke-width="0.8" />
<text x="156.80" y="604.30" font-size="7.6" fill="#222" stroke="#222" stroke-width="0.2" textLength="34.90" lengthAdjust="spacingAndGlyphs" >Gain (n=6)</text>
<line x1="147.00" y1="612.00" x2="154.20" y2="612.00" stroke="#1a4f8a" stroke-width="1.3" />
<line x1="150.60" y1="610.50" x2="150.60" y2="612.00" stroke="#111" stroke-width="0.8" />
<text x="156.80" y="614.70" font-size="7.6" fill="#222" stroke="#222" stroke-width="0.2" textLength="47.60" lengthAdjust="spacingAndGlyphs" >Normal (n=46)</text>
<line x1="147.00" y1="622.40" x2="154.20" y2="622.40" stroke="#3cb44a" stroke-width="1.3" />
<line x1="150.60" y1="620.90" x2="150.60" y2="622.40" stroke="#111" stroke-width="0.8" />
<text x="156.80" y="625.10" font-size="7.6" fill="#222" stroke="#222" stroke-width="0.2" textLength="36.50" lengthAdjust="spacingAndGlyphs" >Loss (n=10)</text>
<line x1="147.00" y1="633.40" x2="154.20" y2="633.40" stroke="#7b3fa0" stroke-width="1.3" />
<line x1="150.60" y1="631.90" x2="150.60" y2="633.40" stroke="#111" stroke-width="0.8" />
<text x="156.80" y="636.10" font-size="7.6" fill="#222" stroke="#222" stroke-width="0.2" textLength="77.30" lengthAdjust="spacingAndGlyphs" >Homozygous loss (n=1)</text>
<rect x="0.50" y="0.50" width="519.00" height="711.00" fill="none" stroke="#000" stroke-width="1.1" />
</svg>
</body></html>
